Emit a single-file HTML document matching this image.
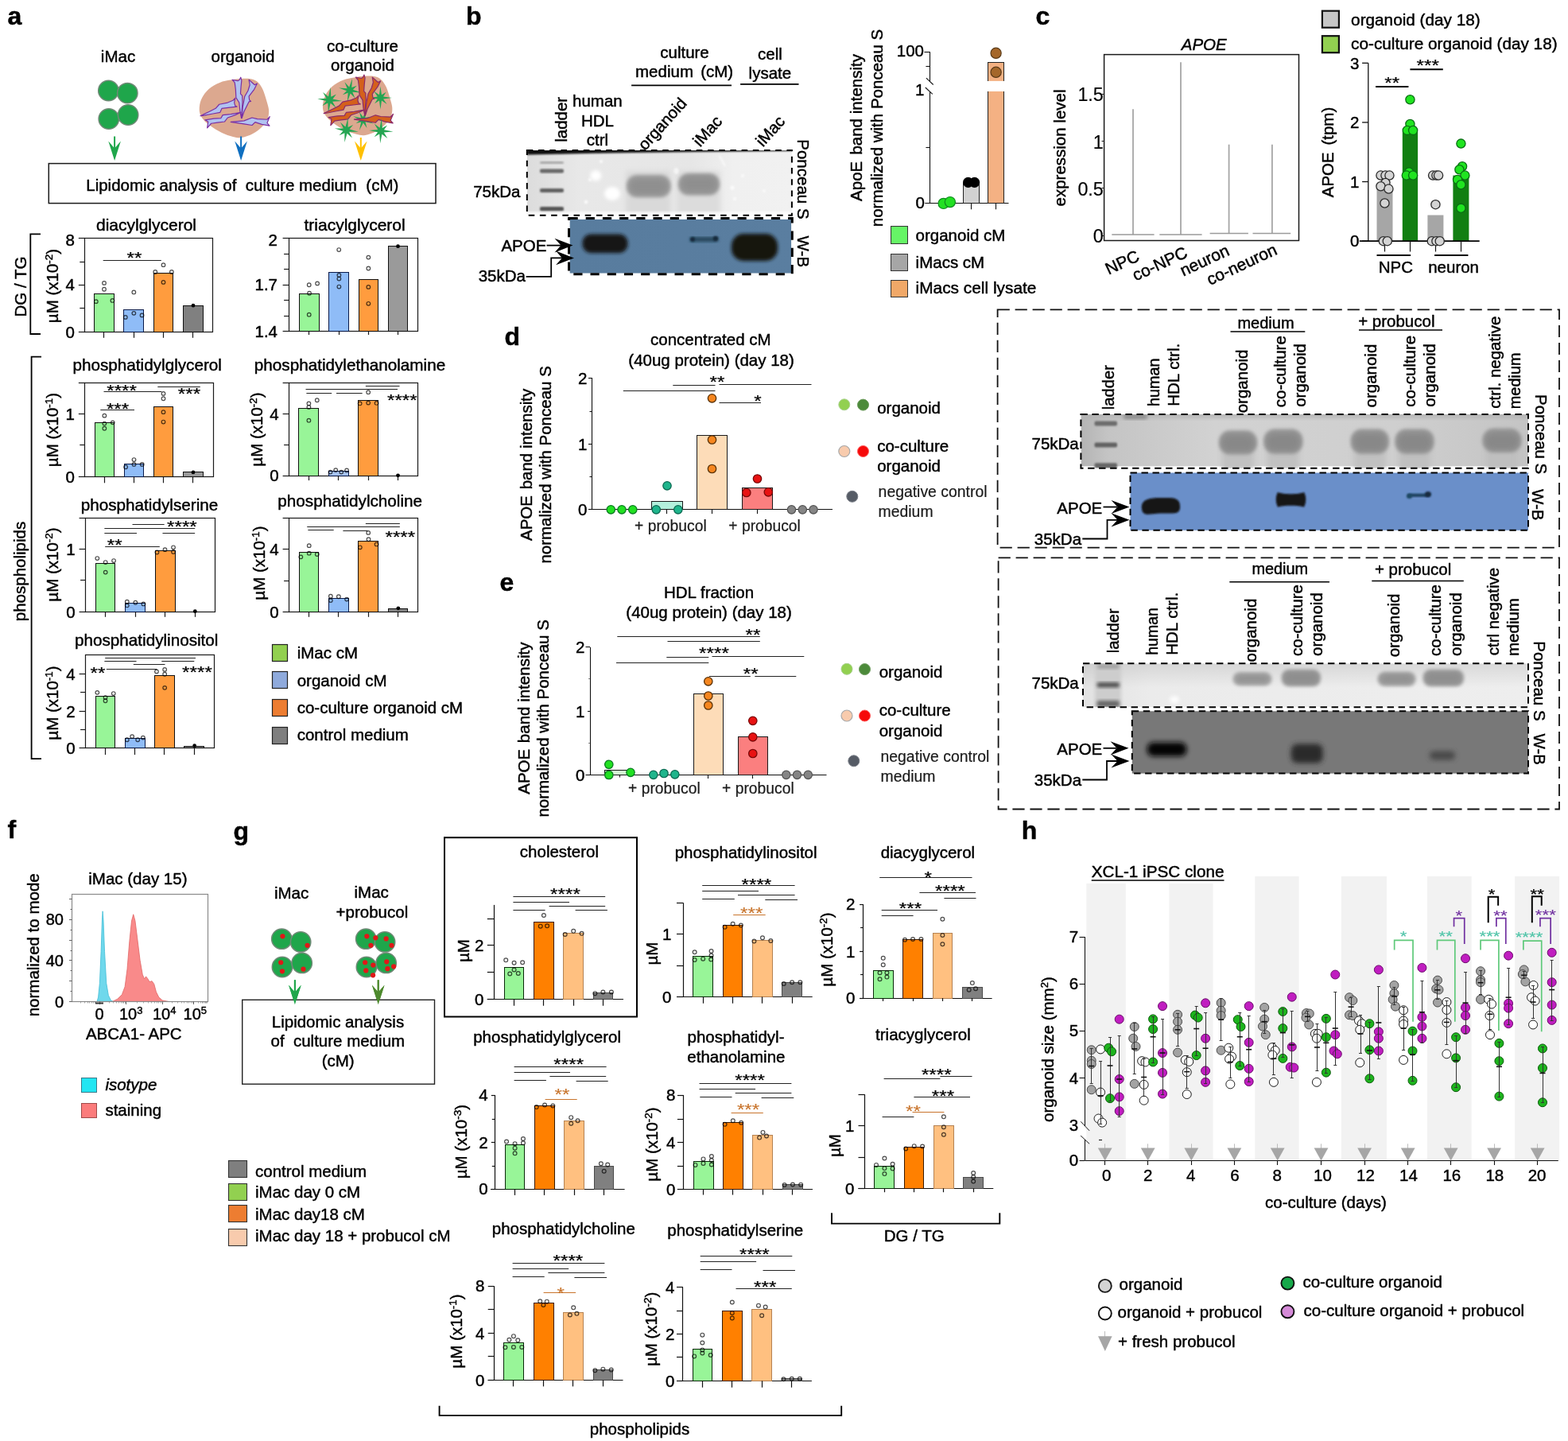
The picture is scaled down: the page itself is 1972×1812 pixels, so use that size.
<!DOCTYPE html>
<html lang="en">
<head>
<meta charset="utf-8">
<title>Figure</title>
<style>
html,body{margin:0;padding:0;background:#fff}
svg{display:block;font-family:"Liberation Sans", sans-serif;font-size:20.5px}
text{stroke-width:.45px;stroke-linejoin:round}
</style>
</head>
<body>
<svg width="1972" height="1812" viewBox="0 0 1972 1812">
<defs><filter id="bl1" x="-30%" y="-30%" width="160%" height="160%"><feGaussianBlur stdDeviation="1"/></filter><filter id="bl2" x="-30%" y="-30%" width="160%" height="160%"><feGaussianBlur stdDeviation="2"/></filter><filter id="bl3" x="-30%" y="-50%" width="160%" height="200%"><feGaussianBlur stdDeviation="3"/></filter><filter id="bl5" x="-30%" y="-50%" width="160%" height="200%"><feGaussianBlur stdDeviation="5"/></filter><linearGradient id="gfade" x1="0" x2="0" y1="0" y2="1"><stop offset="0" stop-color="#fff" stop-opacity="0"/><stop offset="0.5" stop-color="#fff" stop-opacity="0.75"/><stop offset="1" stop-color="#fff" stop-opacity="0.9"/></linearGradient><linearGradient id="gpb1" x1="0" x2="1" y1="0" y2="0"><stop offset="0" stop-color="#dcdcdc"/><stop offset="0.2" stop-color="#e8e8e8"/><stop offset="0.62" stop-color="#e6e6e6"/><stop offset="0.78" stop-color="#f0f0f0"/><stop offset="1" stop-color="#f1f1f1"/></linearGradient><linearGradient id="gwb1" x1="0" x2="1" y1="0" y2="0"><stop offset="0" stop-color="#587c9e"/><stop offset="1" stop-color="#5a7ea0"/></linearGradient>
<linearGradient id="gpd" x1="0" x2="1" y1="0" y2="0"><stop offset="0" stop-color="#b4b4b4"/><stop offset="0.06" stop-color="#c4c4c4"/><stop offset="0.3" stop-color="#d2d2d2"/><stop offset="0.7" stop-color="#cfcfcf"/><stop offset="1" stop-color="#c4c4c4"/></linearGradient><linearGradient id="gpe" x1="0" x2="1" y1="0" y2="0"><stop offset="0" stop-color="#e2e2e2"/><stop offset="0.15" stop-color="#ebebeb"/><stop offset="1" stop-color="#eeeeee"/></linearGradient><linearGradient id="gpe2" x1="0" x2="0" y1="0" y2="1"><stop offset="0" stop-color="#000" stop-opacity="0.09"/><stop offset="1" stop-color="#000" stop-opacity="0"/></linearGradient></defs>
<rect x="0" y="0" width="1972" height="1812" fill="#fff" stroke="none"/>
<text font-weight="bold" stroke="#000" font-size="32" x="9.5" y="31">a</text>
<text text-anchor="middle" stroke="#000" x="148.5" y="78">iMac</text>
<text text-anchor="middle" stroke="#000" x="305.5" y="78">organoid</text>
<text text-anchor="middle" stroke="#000" x="456" y="64.5">co-culture</text>
<text text-anchor="middle" stroke="#000" x="456" y="89">organoid</text>
<circle cx="136.4" cy="114" r="12.7" fill="#1fa64b" stroke="#6f8a76" stroke-width="1.5"/>
<circle cx="160.3" cy="117.1" r="12.7" fill="#1fa64b" stroke="#6f8a76" stroke-width="1.5"/>
<circle cx="136.8" cy="149.5" r="12.7" fill="#1fa64b" stroke="#6f8a76" stroke-width="1.5"/>
<circle cx="161.1" cy="144.5" r="12.7" fill="#1fa64b" stroke="#6f8a76" stroke-width="1.5"/>
<path d="M250.88 140.2C250.41 136.11 250.92 130.34 252.83 125.69C254.73 121.05 258.4 115.93 262.31 112.31C266.21 108.68 271.6 105.9 276.25 103.94C280.9 101.99 285.73 101.43 290.2 100.6C294.66 99.76 298.84 99.16 303.02 98.92C307.21 98.69 311.85 98.55 315.29 99.2C318.73 99.85 321.15 100.64 323.66 102.83C326.17 105.01 328.31 107.94 330.35 112.31C332.4 116.68 334.63 124.39 335.93 129.04C337.23 133.69 338.16 136.48 338.16 140.2C338.16 143.91 337.42 148.1 335.93 151.35C334.44 154.6 332.21 156.93 329.24 159.72C326.26 162.5 322.26 165.85 318.08 168.08C313.9 170.31 308.32 172.45 304.14 173.1C299.96 173.75 297.17 173.01 292.98 171.99C288.8 170.96 283.69 169.2 279.04 166.97C274.39 164.74 269 161.39 265.1 158.6C261.19 155.81 257.99 153.3 255.62 150.23C253.25 147.17 251.34 144.29 250.88 140.2Z" fill="#dca88f" stroke="none"/>
<polygon points="292.15,100.32 299.12,101.71 301.07,100.6 302.74,97.25 303.86,101.15 303.02,109.52 302.47,117.89 304.7,120.4 304.97,129.04 304.14,140.2 303.58,148.56 301.91,140.2 300.79,129.04 296.89,122.91 296.33,112.31 295.21,103.94" fill="#b1c3f1" stroke="#7a2fa3" stroke-width="1.2" stroke-linejoin="round"/>
<polygon points="313.06,100.32 320.31,106.73 323.38,105.06 319.75,112.31 313.06,121.23 313.62,125.69 315.57,127.37 313.06,127.93 306.93,140.2 304.14,148.56 305.25,134.62 307.76,121.23 311.95,113.98 314.18,106.73" fill="#b1c3f1" stroke="#7a2fa3" stroke-width="1.2" stroke-linejoin="round"/>
<polygon points="251.99,145.77 263.42,140.2 271.23,136.29 275.69,131.27 286.29,129.04 292.98,126.25 295.77,123.46 294.66,129.04 295.77,132.94 298,134.06 289.08,135.18 279.04,136.29 276.81,141.31 267.89,142.98 256.73,145.21" fill="#b1c3f1" stroke="#7a2fa3" stroke-width="1.2" stroke-linejoin="round"/>
<polygon points="257.85,150.79 269,149.12 277.93,148.56 280.16,144.66 290.2,143.54 303.02,141.31 295.77,144.66 286.29,148 282.39,153.02 273.46,154.14 265.66,155.25 260.64,160.83 261.75,153.02" fill="#b1c3f1" stroke="#7a2fa3" stroke-width="1.2" stroke-linejoin="round"/>
<polygon points="290.2,153.3 306.93,151.91 316.97,148 323.66,149.68 335.93,150.23 339.27,146.61 335.93,154.7 339,158.04 329.24,156.37 320.87,153.58 316.97,157.48 306.93,155.81" fill="#b1c3f1" stroke="#7a2fa3" stroke-width="1.2" stroke-linejoin="round"/>
<path d="M406.08 137C405.61 132.91 406.12 127.14 408.03 122.49C409.93 117.85 413.6 112.73 417.51 109.11C421.41 105.48 426.8 102.7 431.45 100.74C436.1 98.79 440.93 98.23 445.4 97.4C449.86 96.56 454.04 95.96 458.22 95.72C462.41 95.49 467.05 95.35 470.49 96C473.93 96.65 476.35 97.44 478.86 99.63C481.37 101.81 483.51 104.74 485.55 109.11C487.6 113.48 489.83 121.19 491.13 125.84C492.43 130.49 493.36 133.28 493.36 137C493.36 140.71 492.62 144.9 491.13 148.15C489.64 151.4 487.41 153.73 484.44 156.52C481.46 159.3 477.46 162.65 473.28 164.88C469.1 167.11 463.52 169.25 459.34 169.9C455.16 170.55 452.37 169.81 448.18 168.79C444 167.76 438.89 166 434.24 163.77C429.59 161.54 424.2 158.19 420.3 155.4C416.39 152.61 413.19 150.1 410.82 147.03C408.45 143.97 406.54 141.09 406.08 137Z" fill="#dca88f" stroke="none"/>
<polygon points="430.25,127.09 418.14,127.69 422.54,135.5 415.61,129.81 412.91,141.63 412.31,129.53 405.48,133.1 410.19,126.99 399.17,124.37 410.48,123.7 406.08,115.89 413.01,121.57 415.7,109.76 416.3,121.86 422.89,118.5 418.43,124.4" fill="#25a552" stroke="none"/>
<polygon points="454.64,116.54 443.3,115.72 446.5,123.49 440.7,117.41 436.85,128.1 437.67,116.76 430.91,119.31 435.98,114.16 426.03,110.46 436.63,111.13 433.43,103.36 439.23,109.44 443.08,98.75 442.26,110.09 448.77,107.71 443.95,112.69" fill="#25a552" stroke="none"/>
<polygon points="492.95,122.91 482.06,124.4 486.65,131.11 479.95,126.52 478.45,137.41 476.95,126.52 471.07,130.29 474.83,124.4 464.67,122.91 474.83,121.41 470.24,114.7 476.95,119.29 478.45,108.41 479.95,119.29 485.62,115.73 482.06,121.41" fill="#25a552" stroke="none"/>
<polygon points="469.85,155.58 459.48,153.35 461.43,160.94 456.86,154.57 451.91,163.95 454.14,153.58 447.56,155.05 452.92,150.96 444.2,146.24 453.91,148.24 451.96,140.64 456.53,147.02 461.48,137.64 459.25,148.01 465.58,146.65 460.47,150.63" fill="#25a552" stroke="none"/>
<polygon points="447.35,97.12 454.32,98.51 456.27,97.4 457.94,94.05 459.06,97.95 458.22,106.32 457.67,114.69 459.9,117.2 460.17,125.84 459.34,137 458.78,145.36 457.11,137 455.99,125.84 452.09,119.71 451.53,109.11 450.41,100.74" fill="#d4601c" stroke="#8a2a6a" stroke-width="1.2" stroke-linejoin="round"/>
<polygon points="468.26,97.12 475.51,103.53 478.58,101.86 474.95,109.11 468.26,118.03 468.82,122.49 470.77,124.17 468.26,124.73 462.13,137 459.34,145.36 460.45,131.42 462.96,118.03 467.15,110.78 469.38,103.53" fill="#d4601c" stroke="#8a2a6a" stroke-width="1.2" stroke-linejoin="round"/>
<polygon points="407.19,142.57 418.62,137 426.43,133.09 430.89,128.07 441.49,125.84 448.18,123.05 450.97,120.26 449.86,125.84 450.97,129.74 453.2,130.86 444.28,131.98 434.24,133.09 432.01,138.11 423.09,139.78 411.93,142.01" fill="#d4601c" stroke="#8a2a6a" stroke-width="1.2" stroke-linejoin="round"/>
<polygon points="413.05,147.59 424.2,145.92 433.13,145.36 435.36,141.46 445.4,140.34 458.22,138.11 450.97,141.46 441.49,144.8 437.59,149.82 428.66,150.94 420.86,152.05 415.84,157.63 416.95,149.82" fill="#d4601c" stroke="#8a2a6a" stroke-width="1.2" stroke-linejoin="round"/>
<polygon points="445.4,150.1 462.13,148.71 472.17,144.8 478.86,146.48 491.13,147.03 494.47,143.41 491.13,151.5 494.2,154.84 484.44,153.17 476.07,150.38 472.17,154.28 462.13,152.61" fill="#d4601c" stroke="#8a2a6a" stroke-width="1.2" stroke-linejoin="round"/>
<polygon points="450.85,165.78 439.11,165.74 442.97,173.52 436.55,167.67 433.35,178.97 433.38,167.23 426.59,170.34 431.45,164.67 420.92,161.57 431.9,161.5 428.04,153.72 434.45,159.57 437.66,148.27 437.63,160.01 444.17,157.09 439.55,162.57" fill="#25a552" stroke="none"/>
<polygon points="494.48,165.55 482.78,166.54 487.3,173.95 480.4,168.68 478.19,180.21 477.2,168.51 470.71,172.2 475.06,166.13 464.3,163.96 475.23,162.93 470.71,155.52 477.61,160.79 479.82,149.26 480.81,160.96 487.07,157.48 482.95,163.34" fill="#25a552" stroke="none"/>
<line x1="144.1" y1="171.5" x2="144.1" y2="196" stroke="#1fa64b" stroke-width="2"/>
<polygon points="136.3,177.5 144.1,202 151.9,177.5 144.1,186.5" fill="#1fa64b" stroke="none"/>
<line x1="303.1" y1="171.5" x2="303.1" y2="196" stroke="#0f6fc0" stroke-width="2"/>
<polygon points="295.3,177.5 303.1,202 310.9,177.5 303.1,186.5" fill="#0f6fc0" stroke="none"/>
<line x1="453.8" y1="173" x2="453.8" y2="196" stroke="#ffc000" stroke-width="2"/>
<polygon points="446,177.5 453.8,202 461.6,177.5 453.8,186.5" fill="#ffc000" stroke="none"/>
<rect x="61.3" y="205.6" width="486.7" height="50" fill="#fff" stroke="#1a1a1a" stroke-width="1.5"/>
<text text-anchor="middle" stroke="#000" x="304.8" y="239.6" xml:space="preserve">Lipidomic analysis of  culture medium  (cM)</text>
<path d="M51 294.3H38.3V420H51" fill="none" stroke="#000" stroke-width="1.8"/>
<text text-anchor="middle" stroke="#000" transform="translate(33 360.5) rotate(-90)">DG / TG</text>
<path d="M52 448.6H39.6V954.2H52" fill="none" stroke="#000" stroke-width="1.8"/>
<text text-anchor="middle" stroke="#000" transform="translate(32 718.5) rotate(-90)">phospholipids</text>
<text text-anchor="middle" stroke="#000" font-size="21" x="184" y="289.8">diacylglycerol</text>
<rect x="106.5" y="299.5" width="161" height="118" fill="none" stroke="#1a1a1a" stroke-width="1.2"/>
<line x1="98.8" y1="299.5" x2="106.8" y2="299.5" stroke="#1a1a1a" stroke-width="1.2"/>
<text text-anchor="end" stroke="#000" x="93.8" y="308.5">8</text>
<line x1="100.3" y1="329.5" x2="106.8" y2="329.5" stroke="#1a1a1a" stroke-width="1.2"/>
<line x1="98.8" y1="358.5" x2="106.8" y2="358.5" stroke="#1a1a1a" stroke-width="1.2"/>
<text text-anchor="end" stroke="#000" x="93.8" y="365.4">4</text>
<line x1="100.3" y1="387.5" x2="106.8" y2="387.5" stroke="#1a1a1a" stroke-width="1.2"/>
<line x1="98.8" y1="417.5" x2="106.8" y2="417.5" stroke="#1a1a1a" stroke-width="1.2"/>
<text text-anchor="end" stroke="#000" x="93.8" y="424.5">0</text>
<rect x="118.5" y="369.5" width="25" height="48" fill="#98f598" stroke="#111"/>
<rect x="155.5" y="389.5" width="25" height="28" fill="#8fbcf7" stroke="#0a1a4a"/>
<rect x="193.5" y="343.5" width="24" height="74" fill="#ff9c3e" stroke="#111"/>
<rect x="230.5" y="384.5" width="25" height="33" fill="#808080" stroke="#111"/>
<line x1="130.5" y1="417.3" x2="130.5" y2="424.8" stroke="#1a1a1a" stroke-width="1.2"/>
<line x1="168.5" y1="417.3" x2="168.5" y2="424.8" stroke="#1a1a1a" stroke-width="1.2"/>
<line x1="205.5" y1="417.3" x2="205.5" y2="424.8" stroke="#1a1a1a" stroke-width="1.2"/>
<line x1="242.5" y1="417.3" x2="242.5" y2="424.8" stroke="#1a1a1a" stroke-width="1.2"/>
<text text-anchor="middle" stroke="#000" transform="translate(73.3 359.5) rotate(-90)">µM (x10<tspan dy="-7" font-size="13.5">-2</tspan><tspan dy="7">)</tspan></text>
<line x1="129.7" y1="327.5" x2="202.8" y2="327.5" stroke="#222"/>
<text text-anchor="middle" stroke="#000" font-size="24.3" x="0" y="16.72" transform="translate(169 317.4) scale(1 0.82)" style="stroke-width:.3px">**</text>
<circle cx="131.02" cy="355.88" r="2.3" fill="none" stroke="#000" stroke-width="1.2" stroke-opacity=".7"/>
<circle cx="131.02" cy="363.75" r="2.3" fill="none" stroke="#000" stroke-width="1.2" stroke-opacity=".7"/>
<circle cx="120.82" cy="379.14" r="2.3" fill="none" stroke="#000" stroke-width="1.2" stroke-opacity=".7"/>
<circle cx="141.4" cy="377.97" r="2.3" fill="none" stroke="#000" stroke-width="1.2" stroke-opacity=".7"/>
<circle cx="168.34" cy="367.43" r="2.3" fill="none" stroke="#000" stroke-width="1.2" stroke-opacity=".7"/>
<circle cx="157.8" cy="398.89" r="2.3" fill="none" stroke="#000" stroke-width="1.2" stroke-opacity=".7"/>
<circle cx="168.34" cy="393.87" r="2.3" fill="none" stroke="#000" stroke-width="1.2" stroke-opacity=".7"/>
<circle cx="178.55" cy="396.38" r="2.3" fill="none" stroke="#000" stroke-width="1.2" stroke-opacity=".7"/>
<circle cx="205.49" cy="333.13" r="2.3" fill="none" stroke="#000" stroke-width="1.2" stroke-opacity=".7"/>
<circle cx="195.28" cy="341.99" r="2.3" fill="none" stroke="#000" stroke-width="1.2" stroke-opacity=".7"/>
<circle cx="215.86" cy="341.99" r="2.3" fill="none" stroke="#000" stroke-width="1.2" stroke-opacity=".7"/>
<circle cx="205.49" cy="354.88" r="2.3" fill="none" stroke="#000" stroke-width="1.2" stroke-opacity=".7"/>
<circle cx="242.97" cy="384.16" r="2.4" fill="#000" stroke="none"/>
<text text-anchor="middle" stroke="#000" font-size="21" x="446.1" y="289.8">triacylglycerol</text>
<rect x="363.5" y="299.5" width="162" height="117" fill="none" stroke="#1a1a1a" stroke-width="1.2"/>
<line x1="355.6" y1="299.5" x2="363.6" y2="299.5" stroke="#1a1a1a" stroke-width="1.2"/>
<text text-anchor="end" stroke="#000" x="349" y="308.5">2</text>
<line x1="357.1" y1="319.5" x2="363.6" y2="319.5" stroke="#1a1a1a" stroke-width="1.2"/>
<line x1="357.1" y1="338.5" x2="363.6" y2="338.5" stroke="#1a1a1a" stroke-width="1.2"/>
<line x1="355.6" y1="358.5" x2="363.6" y2="358.5" stroke="#1a1a1a" stroke-width="1.2"/>
<text text-anchor="end" stroke="#000" x="349" y="365.4">1.7</text>
<line x1="357.1" y1="377.5" x2="363.6" y2="377.5" stroke="#1a1a1a" stroke-width="1.2"/>
<line x1="357.1" y1="397.5" x2="363.6" y2="397.5" stroke="#1a1a1a" stroke-width="1.2"/>
<line x1="355.6" y1="416.5" x2="363.6" y2="416.5" stroke="#1a1a1a" stroke-width="1.2"/>
<text text-anchor="end" stroke="#000" x="349" y="423.7">1.4</text>
<rect x="376.5" y="369.5" width="25" height="47" fill="#98f598" stroke="#111"/>
<rect x="413.5" y="342.5" width="25" height="74" fill="#8fbcf7" stroke="#0a1a4a"/>
<rect x="451.5" y="351.5" width="24" height="65" fill="#ff9c3e" stroke="#111"/>
<rect x="488.5" y="309.5" width="24" height="107" fill="#9a9a9a" stroke="#111"/>
<line x1="388.5" y1="416.5" x2="388.5" y2="421" stroke="#1a1a1a" stroke-width="1.2"/>
<line x1="426.5" y1="416.5" x2="426.5" y2="421" stroke="#1a1a1a" stroke-width="1.2"/>
<line x1="463.5" y1="416.5" x2="463.5" y2="421" stroke="#1a1a1a" stroke-width="1.2"/>
<line x1="500.5" y1="416.5" x2="500.5" y2="421" stroke="#1a1a1a" stroke-width="1.2"/>
<circle cx="388.73" cy="358.23" r="2.3" fill="none" stroke="#000" stroke-width="1.2" stroke-opacity=".7"/>
<circle cx="399.1" cy="356.39" r="2.3" fill="none" stroke="#000" stroke-width="1.2" stroke-opacity=".7"/>
<circle cx="389.06" cy="368.77" r="2.3" fill="none" stroke="#000" stroke-width="1.2" stroke-opacity=".7"/>
<circle cx="388.73" cy="395.71" r="2.3" fill="none" stroke="#000" stroke-width="1.2" stroke-opacity=".7"/>
<circle cx="426.21" cy="314.05" r="2.3" fill="none" stroke="#000" stroke-width="1.2" stroke-opacity=".7"/>
<circle cx="426.38" cy="346.01" r="2.3" fill="none" stroke="#000" stroke-width="1.2" stroke-opacity=".7"/>
<circle cx="426.38" cy="350.53" r="2.3" fill="none" stroke="#000" stroke-width="1.2" stroke-opacity=".7"/>
<circle cx="426.38" cy="360.57" r="2.3" fill="none" stroke="#000" stroke-width="1.2" stroke-opacity=".7"/>
<circle cx="463.36" cy="323.59" r="2.3" fill="none" stroke="#000" stroke-width="1.2" stroke-opacity=".7"/>
<circle cx="463.36" cy="337.48" r="2.3" fill="none" stroke="#000" stroke-width="1.2" stroke-opacity=".7"/>
<circle cx="463.36" cy="360.9" r="2.3" fill="none" stroke="#000" stroke-width="1.2" stroke-opacity=".7"/>
<circle cx="463.36" cy="381.82" r="2.3" fill="none" stroke="#000" stroke-width="1.2" stroke-opacity=".7"/>
<circle cx="500.51" cy="309.7" r="2.4" fill="#000" stroke="none"/>
<text text-anchor="middle" stroke="#000" font-size="20.7" x="185.2" y="465.9">phosphatidylglycerol</text>
<rect x="106.5" y="481.5" width="162" height="118" fill="none" stroke="#1a1a1a" stroke-width="1.2"/>
<line x1="98.8" y1="481.5" x2="106.8" y2="481.5" stroke="#1a1a1a" stroke-width="1.2"/>
<line x1="98.8" y1="520.5" x2="106.8" y2="520.5" stroke="#1a1a1a" stroke-width="1.2"/>
<text text-anchor="end" stroke="#000" x="93.8" y="527.5">1</text>
<line x1="100.3" y1="559.5" x2="106.8" y2="559.5" stroke="#1a1a1a" stroke-width="1.2"/>
<line x1="98.8" y1="599.5" x2="106.8" y2="599.5" stroke="#1a1a1a" stroke-width="1.2"/>
<text text-anchor="end" stroke="#000" x="93.8" y="606.5">0</text>
<rect x="119.5" y="531.5" width="24" height="68" fill="#98f598" stroke="#111"/>
<rect x="156.5" y="583.5" width="24" height="16" fill="#8fbcf7" stroke="#0a1a4a"/>
<rect x="193.5" y="511.5" width="24" height="88" fill="#ff9c3e" stroke="#111"/>
<rect x="230.5" y="593.5" width="25" height="6" fill="#9a9a9a" stroke="#111"/>
<line x1="131.5" y1="599.3" x2="131.5" y2="607.3" stroke="#1a1a1a" stroke-width="1.2"/>
<line x1="168.5" y1="599.3" x2="168.5" y2="607.3" stroke="#1a1a1a" stroke-width="1.2"/>
<line x1="205.5" y1="599.3" x2="205.5" y2="607.3" stroke="#1a1a1a" stroke-width="1.2"/>
<line x1="242.5" y1="599.3" x2="242.5" y2="607.3" stroke="#1a1a1a" stroke-width="1.2"/>
<text text-anchor="middle" stroke="#000" transform="translate(73.3 540.5) rotate(-90)">µM (x10<tspan dy="-7" font-size="13.5">-1</tspan><tspan dy="7">)</tspan></text>
<line x1="130.5" y1="492.5" x2="203.3" y2="492.5" stroke="#222"/>
<text text-anchor="middle" stroke="#000" font-size="24.3" x="0" y="16.72" transform="translate(153.1 484.4) scale(1 0.82)" style="stroke-width:.3px">****</text>
<line x1="198.3" y1="486.5" x2="251.8" y2="486.5" stroke="#222"/>
<text text-anchor="middle" stroke="#000" font-size="24.3" x="0" y="16.72" transform="translate(238 488.4) scale(1 0.82)" style="stroke-width:.3px">***</text>
<line x1="126.3" y1="515.5" x2="169" y2="515.5" stroke="#222"/>
<text text-anchor="middle" stroke="#000" font-size="24.3" x="0" y="16.72" transform="translate(148.1 507.4) scale(1 0.82)" style="stroke-width:.3px">***</text>
<circle cx="131.36" cy="522.66" r="2.3" fill="none" stroke="#000" stroke-width="1.2" stroke-opacity=".7"/>
<circle cx="131.36" cy="532.54" r="2.3" fill="none" stroke="#000" stroke-width="1.2" stroke-opacity=".7"/>
<circle cx="141.73" cy="531.37" r="2.3" fill="none" stroke="#000" stroke-width="1.2" stroke-opacity=".7"/>
<circle cx="131.36" cy="538.73" r="2.3" fill="none" stroke="#000" stroke-width="1.2" stroke-opacity=".7"/>
<circle cx="168.51" cy="578.05" r="2.3" fill="none" stroke="#000" stroke-width="1.2" stroke-opacity=".7"/>
<circle cx="158.13" cy="587.26" r="2.3" fill="none" stroke="#000" stroke-width="1.2" stroke-opacity=".7"/>
<circle cx="168.51" cy="583.91" r="2.3" fill="none" stroke="#000" stroke-width="1.2" stroke-opacity=".7"/>
<circle cx="178.71" cy="583.91" r="2.3" fill="none" stroke="#000" stroke-width="1.2" stroke-opacity=".7"/>
<circle cx="205.49" cy="494.89" r="2.3" fill="none" stroke="#000" stroke-width="1.2" stroke-opacity=".7"/>
<circle cx="205.49" cy="501.24" r="2.3" fill="none" stroke="#000" stroke-width="1.2" stroke-opacity=".7"/>
<circle cx="205.49" cy="518.15" r="2.3" fill="none" stroke="#000" stroke-width="1.2" stroke-opacity=".7"/>
<circle cx="205.49" cy="530.53" r="2.3" fill="none" stroke="#000" stroke-width="1.2" stroke-opacity=".7"/>
<circle cx="242.97" cy="593.95" r="2.4" fill="#000" stroke="none"/>
<text text-anchor="middle" stroke="#000" font-size="20.7" x="440" y="465.9">phosphatidylethanolamine</text>
<rect x="363.5" y="481.5" width="162" height="117" fill="none" stroke="#1a1a1a" stroke-width="1.2"/>
<line x1="355.6" y1="481.5" x2="363.6" y2="481.5" stroke="#1a1a1a" stroke-width="1.2"/>
<line x1="355.6" y1="520.5" x2="363.6" y2="520.5" stroke="#1a1a1a" stroke-width="1.2"/>
<text text-anchor="end" stroke="#000" x="350.6" y="527.5">4</text>
<line x1="357.1" y1="559.5" x2="363.6" y2="559.5" stroke="#1a1a1a" stroke-width="1.2"/>
<line x1="355.6" y1="598.5" x2="363.6" y2="598.5" stroke="#1a1a1a" stroke-width="1.2"/>
<text text-anchor="end" stroke="#000" x="350.6" y="605.3">0</text>
<rect x="375.5" y="513.5" width="25" height="85" fill="#98f598" stroke="#111"/>
<rect x="413.5" y="592.5" width="25" height="6" fill="#a6c3f0" stroke="#0a1a4a"/>
<rect x="450.5" y="503.5" width="25" height="95" fill="#ff9c3e" stroke="#111"/>
<line x1="388.5" y1="598.1" x2="388.5" y2="604.1" stroke="#1a1a1a" stroke-width="1.2"/>
<line x1="425.5" y1="598.1" x2="425.5" y2="604.1" stroke="#1a1a1a" stroke-width="1.2"/>
<line x1="463.5" y1="598.1" x2="463.5" y2="604.1" stroke="#1a1a1a" stroke-width="1.2"/>
<line x1="500.5" y1="598.1" x2="500.5" y2="604.1" stroke="#1a1a1a" stroke-width="1.2"/>
<text text-anchor="middle" stroke="#000" transform="translate(330 540) rotate(-90)">µM (x10<tspan dy="-7" font-size="13.5">-2</tspan><tspan dy="7">)</tspan></text>
<line x1="459.85" y1="485.5" x2="502.52" y2="485.5" stroke="#222"/>
<line x1="384.54" y1="489.5" x2="500.01" y2="489.5" stroke="#222"/>
<line x1="385.38" y1="494.5" x2="417.18" y2="494.5" stroke="#222"/>
<line x1="423.03" y1="494.5" x2="455.66" y2="494.5" stroke="#222"/>
<text text-anchor="middle" stroke="#000" font-size="24.3" x="0" y="16.72" transform="translate(505.86 496.12) scale(1 0.82)" style="stroke-width:.3px">****</text>
<circle cx="388.39" cy="507.44" r="2.3" fill="none" stroke="#000" stroke-width="1.2" stroke-opacity=".7"/>
<circle cx="398.77" cy="503.25" r="2.3" fill="none" stroke="#000" stroke-width="1.2" stroke-opacity=".7"/>
<circle cx="388.39" cy="511.95" r="2.3" fill="none" stroke="#000" stroke-width="1.2" stroke-opacity=".7"/>
<circle cx="388.39" cy="528.69" r="2.3" fill="none" stroke="#000" stroke-width="1.2" stroke-opacity=".7"/>
<circle cx="422.2" cy="591.1" r="2.3" fill="none" stroke="#000" stroke-width="1.2" stroke-opacity=".7"/>
<circle cx="415.5" cy="593.61" r="2.3" fill="none" stroke="#000" stroke-width="1.2" stroke-opacity=".7"/>
<circle cx="429.22" cy="593.61" r="2.3" fill="none" stroke="#000" stroke-width="1.2" stroke-opacity=".7"/>
<circle cx="436.08" cy="591.44" r="2.3" fill="none" stroke="#000" stroke-width="1.2" stroke-opacity=".7"/>
<circle cx="463.19" cy="493.21" r="2.3" fill="none" stroke="#000" stroke-width="1.2" stroke-opacity=".7"/>
<circle cx="452.65" cy="507.44" r="2.3" fill="none" stroke="#000" stroke-width="1.2" stroke-opacity=".7"/>
<circle cx="463.19" cy="506.6" r="2.3" fill="none" stroke="#000" stroke-width="1.2" stroke-opacity=".7"/>
<circle cx="473.57" cy="506.93" r="2.3" fill="none" stroke="#000" stroke-width="1.2" stroke-opacity=".7"/>
<circle cx="500.51" cy="597.8" r="2.4" fill="#000" stroke="none"/>
<text text-anchor="middle" stroke="#000" font-size="20.7" x="188" y="641.5">phosphatidylserine</text>
<rect x="107.5" y="651.5" width="163" height="118" fill="none" stroke="#1a1a1a" stroke-width="1.2"/>
<line x1="99.6" y1="651.5" x2="107.6" y2="651.5" stroke="#1a1a1a" stroke-width="1.2"/>
<line x1="99.6" y1="690.5" x2="107.6" y2="690.5" stroke="#1a1a1a" stroke-width="1.2"/>
<text text-anchor="end" stroke="#000" x="94.6" y="697.5">1</text>
<line x1="101.1" y1="729.5" x2="107.6" y2="729.5" stroke="#1a1a1a" stroke-width="1.2"/>
<line x1="99.6" y1="769.5" x2="107.6" y2="769.5" stroke="#1a1a1a" stroke-width="1.2"/>
<text text-anchor="end" stroke="#000" x="94.6" y="776.5">0</text>
<rect x="120.5" y="708.5" width="24" height="61" fill="#98f598" stroke="#111"/>
<rect x="157.5" y="758.5" width="25" height="11" fill="#8fbcf7" stroke="#0a1a4a"/>
<rect x="195.5" y="692.5" width="25" height="77" fill="#ff9c3e" stroke="#111"/>
<line x1="132.5" y1="769.3" x2="132.5" y2="775.8" stroke="#1a1a1a" stroke-width="1.2"/>
<line x1="170.5" y1="769.3" x2="170.5" y2="775.8" stroke="#1a1a1a" stroke-width="1.2"/>
<line x1="207.5" y1="769.3" x2="207.5" y2="775.8" stroke="#1a1a1a" stroke-width="1.2"/>
<line x1="245.5" y1="769.3" x2="245.5" y2="775.8" stroke="#1a1a1a" stroke-width="1.2"/>
<text text-anchor="middle" stroke="#000" transform="translate(73.3 710) rotate(-90)">µM (x10<tspan dy="-7" font-size="13.5">-2</tspan><tspan dy="7">)</tspan></text>
<line x1="166.5" y1="659.5" x2="206.66" y2="659.5" stroke="#222"/>
<line x1="131.36" y1="664.5" x2="245.15" y2="664.5" stroke="#222"/>
<line x1="131.36" y1="670.5" x2="172.02" y2="670.5" stroke="#222"/>
<line x1="204.48" y1="670.5" x2="245.15" y2="670.5" stroke="#222"/>
<line x1="132.2" y1="687.5" x2="200.8" y2="687.5" stroke="#222"/>
<text text-anchor="middle" stroke="#000" font-size="24.3" x="0" y="16.72" transform="translate(228.92 655.75) scale(1 0.82)" style="stroke-width:.3px">****</text>
<text text-anchor="middle" stroke="#000" font-size="24.3" x="0" y="16.72" transform="translate(144.24 678.67) scale(1 0.82)" style="stroke-width:.3px">**</text>
<circle cx="122.32" cy="702.03" r="2.3" fill="none" stroke="#000" stroke-width="1.2" stroke-opacity=".7"/>
<circle cx="132.7" cy="707.05" r="2.3" fill="none" stroke="#000" stroke-width="1.2" stroke-opacity=".7"/>
<circle cx="143.07" cy="705.05" r="2.3" fill="none" stroke="#000" stroke-width="1.2" stroke-opacity=".7"/>
<circle cx="132.7" cy="719.61" r="2.3" fill="none" stroke="#000" stroke-width="1.2" stroke-opacity=".7"/>
<circle cx="159.81" cy="756.75" r="2.3" fill="none" stroke="#000" stroke-width="1.2" stroke-opacity=".7"/>
<circle cx="159.81" cy="761.44" r="2.3" fill="none" stroke="#000" stroke-width="1.2" stroke-opacity=".7"/>
<circle cx="170.35" cy="757.76" r="2.3" fill="none" stroke="#000" stroke-width="1.2" stroke-opacity=".7"/>
<circle cx="180.39" cy="759.43" r="2.3" fill="none" stroke="#000" stroke-width="1.2" stroke-opacity=".7"/>
<circle cx="207.5" cy="691.16" r="2.3" fill="none" stroke="#000" stroke-width="1.2" stroke-opacity=".7"/>
<circle cx="218.04" cy="688.31" r="2.3" fill="none" stroke="#000" stroke-width="1.2" stroke-opacity=".7"/>
<circle cx="197.46" cy="694.5" r="2.3" fill="none" stroke="#000" stroke-width="1.2" stroke-opacity=".7"/>
<circle cx="218.04" cy="694" r="2.3" fill="none" stroke="#000" stroke-width="1.2" stroke-opacity=".7"/>
<circle cx="245.31" cy="768.63" r="2.4" fill="#000" stroke="none"/>
<text text-anchor="middle" stroke="#000" font-size="20.7" x="440.2" y="636.8">phosphatidylcholine</text>
<rect x="363.5" y="651.5" width="162" height="118" fill="none" stroke="#1a1a1a" stroke-width="1.2"/>
<line x1="355.6" y1="651.5" x2="363.6" y2="651.5" stroke="#1a1a1a" stroke-width="1.2"/>
<line x1="355.6" y1="690.5" x2="363.6" y2="690.5" stroke="#1a1a1a" stroke-width="1.2"/>
<text text-anchor="end" stroke="#000" x="350.6" y="697.5">4</text>
<line x1="357.1" y1="730.5" x2="363.6" y2="730.5" stroke="#1a1a1a" stroke-width="1.2"/>
<line x1="355.6" y1="769.5" x2="363.6" y2="769.5" stroke="#1a1a1a" stroke-width="1.2"/>
<text text-anchor="end" stroke="#000" x="350.6" y="776.5">0</text>
<rect x="376.5" y="694.5" width="24" height="75" fill="#98f598" stroke="#111"/>
<rect x="413.5" y="752.5" width="25" height="17" fill="#8fbcf7" stroke="#0a1a4a"/>
<rect x="450.5" y="680.5" width="25" height="89" fill="#ff9c3e" stroke="#111"/>
<rect x="488.5" y="765.5" width="24" height="4" fill="#808080" stroke="#111"/>
<line x1="388.5" y1="769.3" x2="388.5" y2="775.8" stroke="#1a1a1a" stroke-width="1.2"/>
<line x1="425.5" y1="769.3" x2="425.5" y2="775.8" stroke="#1a1a1a" stroke-width="1.2"/>
<line x1="463.5" y1="769.3" x2="463.5" y2="775.8" stroke="#1a1a1a" stroke-width="1.2"/>
<line x1="500.5" y1="769.3" x2="500.5" y2="775.8" stroke="#1a1a1a" stroke-width="1.2"/>
<text text-anchor="middle" stroke="#000" transform="translate(332.5 708) rotate(-90)">µM (x10<tspan dy="-7" font-size="13.5">-1</tspan><tspan dy="7">)</tspan></text>
<line x1="459.85" y1="658.5" x2="502.85" y2="658.5" stroke="#222"/>
<line x1="386.22" y1="662.5" x2="502.85" y2="662.5" stroke="#222"/>
<line x1="387.39" y1="666.5" x2="419.69" y2="666.5" stroke="#222"/>
<line x1="431.4" y1="667.5" x2="462.36" y2="667.5" stroke="#222"/>
<text text-anchor="middle" stroke="#000" font-size="24.3" x="0" y="16.72" transform="translate(503.35 667.79) scale(1 0.82)" style="stroke-width:.3px">****</text>
<circle cx="388.73" cy="686.14" r="2.3" fill="none" stroke="#000" stroke-width="1.2" stroke-opacity=".7"/>
<circle cx="388.73" cy="695.68" r="2.3" fill="none" stroke="#000" stroke-width="1.2" stroke-opacity=".7"/>
<circle cx="378.35" cy="700.36" r="2.3" fill="none" stroke="#000" stroke-width="1.2" stroke-opacity=".7"/>
<circle cx="398.77" cy="697.01" r="2.3" fill="none" stroke="#000" stroke-width="1.2" stroke-opacity=".7"/>
<circle cx="415.84" cy="749.73" r="2.3" fill="none" stroke="#000" stroke-width="1.2" stroke-opacity=".7"/>
<circle cx="425.88" cy="750.23" r="2.3" fill="none" stroke="#000" stroke-width="1.2" stroke-opacity=".7"/>
<circle cx="415.84" cy="755.08" r="2.3" fill="none" stroke="#000" stroke-width="1.2" stroke-opacity=".7"/>
<circle cx="436.08" cy="753.57" r="2.3" fill="none" stroke="#000" stroke-width="1.2" stroke-opacity=".7"/>
<circle cx="463.19" cy="669.91" r="2.3" fill="none" stroke="#000" stroke-width="1.2" stroke-opacity=".7"/>
<circle cx="463.53" cy="678.27" r="2.3" fill="none" stroke="#000" stroke-width="1.2" stroke-opacity=".7"/>
<circle cx="452.82" cy="688.31" r="2.3" fill="none" stroke="#000" stroke-width="1.2" stroke-opacity=".7"/>
<circle cx="473.57" cy="684.46" r="2.3" fill="none" stroke="#000" stroke-width="1.2" stroke-opacity=".7"/>
<circle cx="500.84" cy="764.79" r="2.4" fill="#000" stroke="none"/>
<text text-anchor="middle" stroke="#000" font-size="20.7" x="184.2" y="811.8">phosphatidylinositol</text>
<rect x="107.5" y="823.5" width="162" height="117" fill="none" stroke="#1a1a1a" stroke-width="1.2"/>
<line x1="99.6" y1="847.5" x2="107.6" y2="847.5" stroke="#1a1a1a" stroke-width="1.2"/>
<text text-anchor="end" stroke="#000" x="94.6" y="854.6">4</text>
<line x1="101.1" y1="870.5" x2="107.6" y2="870.5" stroke="#1a1a1a" stroke-width="1.2"/>
<line x1="99.6" y1="894.5" x2="107.6" y2="894.5" stroke="#1a1a1a" stroke-width="1.2"/>
<text text-anchor="end" stroke="#000" x="94.6" y="901.5">2</text>
<line x1="101.1" y1="917.5" x2="107.6" y2="917.5" stroke="#1a1a1a" stroke-width="1.2"/>
<line x1="99.6" y1="940.5" x2="107.6" y2="940.5" stroke="#1a1a1a" stroke-width="1.2"/>
<text text-anchor="end" stroke="#000" x="94.6" y="947.8">0</text>
<rect x="120.5" y="875.5" width="24" height="65" fill="#98f598" stroke="#111"/>
<rect x="157.5" y="928.5" width="25" height="12" fill="#8fbcf7" stroke="#0a1a4a"/>
<rect x="194.5" y="849.5" width="25" height="91" fill="#ff9c3e" stroke="#111"/>
<rect x="231.5" y="938.5" width="25" height="2" fill="#808080" stroke="#111"/>
<line x1="132.5" y1="940.6" x2="132.5" y2="949.1" stroke="#1a1a1a" stroke-width="1.2"/>
<line x1="169.5" y1="940.6" x2="169.5" y2="949.1" stroke="#1a1a1a" stroke-width="1.2"/>
<line x1="206.5" y1="940.6" x2="206.5" y2="949.1" stroke="#1a1a1a" stroke-width="1.2"/>
<line x1="244.5" y1="940.6" x2="244.5" y2="949.1" stroke="#1a1a1a" stroke-width="1.2"/>
<text text-anchor="middle" stroke="#000" transform="translate(73.3 884) rotate(-90)">µM (x10<tspan dy="-7" font-size="13.5">-1</tspan><tspan dy="7">)</tspan></text>
<line x1="132.2" y1="827.5" x2="245.98" y2="827.5" stroke="#222"/>
<line x1="131.36" y1="831.5" x2="171.52" y2="831.5" stroke="#222"/>
<line x1="203.31" y1="831.5" x2="244.31" y2="831.5" stroke="#222"/>
<line x1="167.84" y1="835.5" x2="207.5" y2="835.5" stroke="#222"/>
<line x1="133.87" y1="841.5" x2="197.46" y2="841.5" stroke="#222"/>
<text text-anchor="middle" stroke="#000" font-size="24.3" x="0" y="16.72" transform="translate(122.99 839.47) scale(1 0.82)" style="stroke-width:.3px">**</text>
<text text-anchor="middle" stroke="#000" font-size="24.3" x="0" y="16.72" transform="translate(247.99 837.79) scale(1 0.82)" style="stroke-width:.3px">****</text>
<circle cx="122.32" cy="870.86" r="2.3" fill="none" stroke="#000" stroke-width="1.2" stroke-opacity=".7"/>
<circle cx="142.74" cy="872.03" r="2.3" fill="none" stroke="#000" stroke-width="1.2" stroke-opacity=".7"/>
<circle cx="132.53" cy="877.05" r="2.3" fill="none" stroke="#000" stroke-width="1.2" stroke-opacity=".7"/>
<circle cx="132.53" cy="881.24" r="2.3" fill="none" stroke="#000" stroke-width="1.2" stroke-opacity=".7"/>
<circle cx="166.16" cy="926.08" r="2.3" fill="none" stroke="#000" stroke-width="1.2" stroke-opacity=".7"/>
<circle cx="159.81" cy="930.27" r="2.3" fill="none" stroke="#000" stroke-width="1.2" stroke-opacity=".7"/>
<circle cx="173.19" cy="930.27" r="2.3" fill="none" stroke="#000" stroke-width="1.2" stroke-opacity=".7"/>
<circle cx="179.89" cy="927.59" r="2.3" fill="none" stroke="#000" stroke-width="1.2" stroke-opacity=".7"/>
<circle cx="207.16" cy="841.91" r="2.3" fill="none" stroke="#000" stroke-width="1.2" stroke-opacity=".7"/>
<circle cx="196.95" cy="844.42" r="2.3" fill="none" stroke="#000" stroke-width="1.2" stroke-opacity=".7"/>
<circle cx="207.16" cy="847.77" r="2.3" fill="none" stroke="#000" stroke-width="1.2" stroke-opacity=".7"/>
<circle cx="207.16" cy="864.84" r="2.3" fill="none" stroke="#000" stroke-width="1.2" stroke-opacity=".7"/>
<circle cx="244.65" cy="937.63" r="2.4" fill="#000" stroke="none"/>
<rect x="342.5" y="810.5" width="19" height="21" fill="#92d050" stroke="#222" stroke-width="1.2"/>
<text stroke="#000" x="373.7" y="827.7">iMac cM</text>
<rect x="342.5" y="844.5" width="19" height="21" fill="#8faadc" stroke="#222" stroke-width="1.2"/>
<text stroke="#000" x="373.7" y="862.5">organoid cM</text>
<rect x="342.5" y="879.5" width="19" height="21" fill="#ed7d31" stroke="#222" stroke-width="1.2"/>
<text stroke="#000" x="373.7" y="897.1">co-culture organoid cM</text>
<rect x="342.5" y="914.5" width="19" height="21" fill="#7f7f7f" stroke="#222" stroke-width="1.2"/>
<text stroke="#000" x="373.7" y="931.4">control medium</text>
<text font-weight="bold" stroke="#000" font-size="32" x="586" y="31">b</text>
<text text-anchor="middle" stroke="#000" x="861" y="72.5">culture</text>
<text text-anchor="middle" stroke="#000" x="860.6" y="97" word-spacing="3.5">medium (cM)</text>
<line x1="794.1" y1="107.3" x2="920" y2="107.3" stroke="#000" stroke-width="1.8"/>
<text text-anchor="middle" stroke="#000" x="968.4" y="74.8">cell</text>
<text text-anchor="middle" stroke="#000" x="968.4" y="99.3">lysate</text>
<line x1="931.1" y1="105.8" x2="1004.5" y2="105.8" stroke="#000" stroke-width="1.8"/>
<text stroke="#000" transform="translate(712.5 178.8) rotate(-90)">ladder</text>
<text text-anchor="middle" stroke="#000" x="751.4" y="133.6">human</text>
<text text-anchor="middle" stroke="#000" x="751.4" y="158.8">HDL</text>
<text text-anchor="middle" stroke="#000" x="751.4" y="183.3">ctrl</text>
<text stroke="#000" transform="translate(811.5 190) rotate(-48)">organoid</text>
<text stroke="#000" transform="translate(880.5 185.5) rotate(-48)">iMac</text>
<text stroke="#000" transform="translate(959.5 185.5) rotate(-48)">iMac</text>
<clipPath id="cpb1"><rect x="662.8" y="189.1" width="333.1" height="81.7"/></clipPath>
<g clip-path="url(#cpb1)">
<rect x="662.8" y="189.1" width="333.1" height="81.7" fill="url(#gpb1)" stroke="none"/>
<polygon points="662.8,188.1 995.9,188.1 995.9,189.7 850,191.3 760,192.6 662.8,194.6" fill="#0a0a0a" stroke="none" filter="url(#bl1)"/>
<rect x="787" y="215" width="56" height="60" fill="#d9d9d9" stroke="none" filter="url(#bl3)"/>
<rect x="852" y="215" width="54" height="60" fill="#dcdcdc" stroke="none" filter="url(#bl3)"/>
<rect x="679" y="203.1" width="30" height="3" fill="#a8a8a8" stroke="none" filter="url(#bl1)" rx="2"/>
<rect x="679" y="212.5" width="30" height="5" fill="#666" stroke="none" filter="url(#bl1)" rx="2"/>
<rect x="679" y="237.1" width="30" height="5" fill="#606060" stroke="none" filter="url(#bl1)" rx="2"/>
<rect x="679" y="260.05" width="30" height="5.5" fill="#555" stroke="none" filter="url(#bl1)" rx="2"/>
<rect x="788" y="220" width="55.5" height="28" fill="#9c9c9c" stroke="none" rx="13" filter="url(#bl2)"/>
<rect x="853" y="218" width="52" height="27.5" fill="#9a9a9a" stroke="none" rx="13" filter="url(#bl2)"/>
<rect x="792" y="225" width="48" height="19" fill="#8c8c8c" stroke="none" rx="9" filter="url(#bl3)" opacity="0.8"/>
<rect x="857" y="222.5" width="44" height="18" fill="#8c8c8c" stroke="none" rx="9" filter="url(#bl3)" opacity="0.8"/>
<ellipse cx="749.3" cy="220.8" rx="7" ry="6.5" fill="#fff" stroke="none" filter="url(#bl2)"/>
<ellipse cx="770" cy="243.5" rx="10" ry="8.5" fill="#fff" stroke="none" filter="url(#bl2)"/>
<ellipse cx="850.5" cy="215" rx="3" ry="4" fill="#f4f4f4" stroke="none" filter="url(#bl1)"/>
<line x1="905" y1="196" x2="912" y2="209" stroke="#f8f8f8" stroke-width="2.5" filter="url(#bl1)"/>
<circle cx="921" cy="236" r="2.5" fill="#fbfbfb" stroke="none" filter="url(#bl1)"/>
<circle cx="934" cy="221" r="2" fill="#fbfbfb" stroke="none" filter="url(#bl1)"/>
<circle cx="924" cy="250" r="2" fill="#fbfbfb" stroke="none" filter="url(#bl1)"/>
<circle cx="961" cy="240" r="1.8" fill="#fbfbfb" stroke="none" filter="url(#bl1)"/>
<circle cx="742" cy="226" r="2" fill="#fbfbfb" stroke="none" filter="url(#bl1)"/>
<circle cx="737" cy="254" r="2.2" fill="#fbfbfb" stroke="none" filter="url(#bl1)"/>
<circle cx="756" cy="203" r="2" fill="#fbfbfb" stroke="none" filter="url(#bl1)"/>
<rect x="662.8" y="264.3" width="333.1" height="7" fill="url(#gfade)" stroke="none"/>
</g>
<rect x="662.8" y="189.1" width="333.1" height="81.7" fill="none" stroke="#000" stroke-width="2" stroke-dasharray="7.6 6.6"/>
<rect x="716.7" y="275.9" width="278.4" height="67.6" fill="url(#gwb1)" stroke="none"/>
<rect x="732.5" y="294.5" width="57" height="23.5" fill="#161513" stroke="none" rx="11" filter="url(#bl2)"/>
<rect x="868" y="298.6" width="35" height="5" fill="#1c3a4e" stroke="none" rx="2.5" filter="url(#bl2)"/>
<circle cx="871" cy="301" r="3" fill="#152c3c" stroke="none" filter="url(#bl1)"/>
<circle cx="900" cy="300" r="3.2" fill="#152c3c" stroke="none" filter="url(#bl1)"/>
<rect x="920" y="294" width="58" height="34" fill="#141311" stroke="none" rx="15" filter="url(#bl2)"/>
<rect x="715.5" y="274.6" width="280.8" height="70.2" fill="none" stroke="#000" stroke-width="3" stroke-dasharray="11.2 10"/>
<text stroke="#000" transform="translate(1003.4 175.3) rotate(90)">Ponceau S</text>
<text stroke="#000" transform="translate(1003.4 296.6) rotate(90)">W-B</text>
<text stroke="#000" x="595.2" y="248.2">75kDa</text>
<text stroke="#000" x="630.4" y="316">APOE</text>
<text stroke="#000" x="601.7" y="354.2">35kDa</text>
<line x1="687.5" y1="308.6" x2="706" y2="308.6" stroke="#000" stroke-width="1.8"/>
<polygon points="720.5,308.6 697.5,299.8 705.5,308.6 697.5,317.4" fill="#000" stroke="none"/>
<path d="M661.6 347.8H693.2V324.4H710" fill="none" stroke="#000" stroke-width="1.8"/>
<polygon points="722,324.4 699,315.6 707,324.4 699,333.2" fill="#000" stroke="none"/>
<text text-anchor="middle" stroke="#000" transform="translate(1084.3 160.5) rotate(-90)">ApoE<tspan dx="2.5"> band</tspan> intensity</text>
<text text-anchor="middle" stroke="#000" transform="translate(1109.6 161) rotate(-90)">normalized with Ponceau S</text>
<line x1="1169.5" y1="65.6" x2="1169.5" y2="102" stroke="#111" stroke-width="1.1"/>
<line x1="1169.5" y1="115.8" x2="1169.5" y2="255.6" stroke="#111" stroke-width="1.1"/>
<line x1="1163.3" y1="255.5" x2="1268.5" y2="255.5" stroke="#111" stroke-width="1.1"/>
<line x1="1162.4" y1="65.5" x2="1169.9" y2="65.5" stroke="#111" stroke-width="1.1"/>
<line x1="1164.4" y1="83.5" x2="1169.9" y2="83.5" stroke="#111" stroke-width="1.1"/>
<line x1="1164.4" y1="185.5" x2="1169.9" y2="185.5" stroke="#111" stroke-width="1.1"/>
<line x1="1164.9" y1="98.1" x2="1173.7" y2="106.5" stroke="#111" stroke-width="1.1"/>
<line x1="1163.8" y1="110" x2="1172.8" y2="118.4" stroke="#111" stroke-width="1.1"/>
<text text-anchor="end" stroke="#000" x="1162" y="70.5">100</text>
<text text-anchor="end" stroke="#000" x="1162.5" y="119.8">1</text>
<text text-anchor="end" stroke="#000" x="1163" y="261.5">0</text>
<rect x="1211.5" y="230.5" width="20" height="25" fill="#d2d2d2" stroke="#222"/>
<rect x="1242.5" y="112.5" width="20" height="143" fill="#f4b183" stroke="#222"/>
<rect x="1242.5" y="78.5" width="20" height="26" fill="#f4b183" stroke="#222"/>
<rect x="1241" y="101.9" width="23" height="13" fill="#fff" stroke="none"/>
<line x1="1242.5" y1="101.8" x2="1242.5" y2="78.4" stroke="#222"/>
<line x1="1221.5" y1="255.6" x2="1221.5" y2="263.3" stroke="#111" stroke-width="1.1"/>
<line x1="1252.5" y1="255.6" x2="1252.5" y2="263.3" stroke="#111" stroke-width="1.1"/>
<circle cx="1186.6" cy="255.9" r="6.6" fill="#22e022" stroke="#0f8a1f" stroke-width="1.2"/>
<circle cx="1194.9" cy="254.1" r="6.6" fill="#22e022" stroke="#0f8a1f" stroke-width="1.2"/>
<circle cx="1217.6" cy="229.4" r="6.6" fill="#000" stroke="none"/>
<circle cx="1225.6" cy="229.4" r="6.6" fill="#000" stroke="none"/>
<circle cx="1252.6" cy="66.8" r="6.6" fill="#a5672a" stroke="#5a3a18" stroke-width="1.2"/>
<circle cx="1252.6" cy="90.8" r="6.6" fill="#a5672a" stroke="#5a3a18" stroke-width="1.2"/>
<rect x="1120.5" y="284.5" width="21" height="22" fill="#66f566" stroke="#333"/>
<text stroke="#000" x="1151.6" y="303.3">organoid cM</text>
<rect x="1120.5" y="319.5" width="21" height="21" fill="#a6a6a6" stroke="#333"/>
<text stroke="#000" x="1151.6" y="336.6">iMacs cM</text>
<rect x="1120.5" y="352.5" width="21" height="21" fill="#f0a868" stroke="#333"/>
<text stroke="#000" textLength="151.8" lengthAdjust="spacingAndGlyphs" x="1151.6" y="369.3">iMacs cell lysate</text>
<text font-weight="bold" stroke="#000" font-size="32" x="1302.5" y="31">c</text>
<text text-anchor="middle" font-style="italic" stroke="#000" x="1514.2" y="62.8">APOE</text>
<rect x="1388.6" y="68.6" width="244.9" height="233.9" fill="none" stroke="#1a1a1a" stroke-width="1.5"/>
<line x1="1385.6" y1="118.5" x2="1388.6" y2="118.5" stroke="#222"/>
<text text-anchor="end" stroke="#000" font-size="23.3" x="1387.8" y="127.2" style="stroke-width:.15px">1.5</text>
<line x1="1385.6" y1="177.5" x2="1388.6" y2="177.5" stroke="#222"/>
<text text-anchor="end" stroke="#000" font-size="23.3" x="1387.8" y="186.5" style="stroke-width:.15px">1</text>
<line x1="1385.6" y1="236.5" x2="1388.6" y2="236.5" stroke="#222"/>
<text text-anchor="end" stroke="#000" font-size="23.3" x="1387.8" y="245.8" style="stroke-width:.15px">0.5</text>
<line x1="1385.6" y1="296.5" x2="1388.6" y2="296.5" stroke="#222"/>
<text text-anchor="end" stroke="#000" font-size="23.3" x="1387.8" y="305.4" style="stroke-width:.15px">0</text>
<text text-anchor="middle" stroke="#000" transform="translate(1340 186) rotate(-90)">expression level</text>
<line x1="1425" y1="137.3" x2="1425" y2="295" stroke="#a6a6a6" stroke-width="1.8"/>
<line x1="1485" y1="78.3" x2="1485" y2="295" stroke="#a6a6a6" stroke-width="1.8"/>
<line x1="1545.6" y1="181.7" x2="1545.6" y2="293.5" stroke="#a6a6a6" stroke-width="1.8"/>
<line x1="1599.9" y1="181.7" x2="1599.9" y2="293.5" stroke="#a6a6a6" stroke-width="1.8"/>
<line x1="1398.3" y1="295" x2="1451.6" y2="295" stroke="#9a9a9a" stroke-width="1.5"/>
<line x1="1458.3" y1="295" x2="1511.6" y2="295" stroke="#9a9a9a" stroke-width="1.5"/>
<line x1="1521.6" y1="293.4" x2="1569.9" y2="293.4" stroke="#9a9a9a" stroke-width="1.5"/>
<line x1="1575.5" y1="293.4" x2="1623.2" y2="293.4" stroke="#9a9a9a" stroke-width="1.5"/>
<text text-anchor="end" stroke="#000" font-size="21" transform="translate(1434.5 327) rotate(-25)">NPC</text>
<text text-anchor="end" stroke="#000" font-size="21" transform="translate(1495 322.5) rotate(-25)">co-NPC</text>
<text text-anchor="end" stroke="#000" font-size="21" transform="translate(1547.5 320) rotate(-25)">neuron</text>
<text text-anchor="end" stroke="#000" font-size="21" transform="translate(1607.5 319) rotate(-25)">co-neuron</text>
<rect x="1662.9" y="13.7" width="21" height="21" fill="#c6c6c6" stroke="#111" stroke-width="2.2"/>
<rect x="1662.9" y="45.2" width="21" height="21" fill="#92d050" stroke="#111" stroke-width="2.2"/>
<text stroke="#000" font-size="20.75" x="1699.1" y="31.8">organoid (day 18)</text>
<text stroke="#000" font-size="20.75" x="1699.1" y="62.4">co-culture organoid (day 18)</text>
<text text-anchor="middle" stroke="#000" transform="translate(1676.5 191.5) rotate(-90)" word-spacing="3">APOE (tpm)</text>
<line x1="1720.8" y1="79.3" x2="1720.8" y2="303.2" stroke="#111" stroke-width="1.3"/>
<line x1="1713.1" y1="79.3" x2="1720.8" y2="79.3" stroke="#111" stroke-width="1.3"/>
<text text-anchor="end" stroke="#000" x="1709.3" y="86.5">3</text>
<line x1="1713.1" y1="153.9" x2="1720.8" y2="153.9" stroke="#111" stroke-width="1.3"/>
<text text-anchor="end" stroke="#000" x="1709.3" y="161.1">2</text>
<line x1="1713.1" y1="228.5" x2="1720.8" y2="228.5" stroke="#111" stroke-width="1.3"/>
<text text-anchor="end" stroke="#000" x="1709.3" y="235.7">1</text>
<line x1="1713.1" y1="303.2" x2="1720.8" y2="303.2" stroke="#111" stroke-width="1.3"/>
<text text-anchor="end" stroke="#000" x="1709.3" y="310.4">0</text>
<rect x="1731.5" y="234.9" width="20" height="68.3" fill="#a6a6a6" stroke="none"/>
<rect x="1763.8" y="164.9" width="19.3" height="138.3" fill="#127f12" stroke="none"/>
<rect x="1795.4" y="270.5" width="20" height="32.7" fill="#a6a6a6" stroke="none"/>
<rect x="1827.4" y="220.6" width="20" height="82.6" fill="#127f12" stroke="none"/>
<line x1="1709.8" y1="303.2" x2="1860.7" y2="303.2" stroke="#000" stroke-width="1.8"/>
<line x1="1741.5" y1="303.2" x2="1741.5" y2="316.5" stroke="#111" stroke-width="1.2"/>
<line x1="1773.5" y1="303.2" x2="1773.5" y2="316.5" stroke="#111" stroke-width="1.2"/>
<line x1="1805.5" y1="303.2" x2="1805.5" y2="316.5" stroke="#111" stroke-width="1.2"/>
<line x1="1837.5" y1="303.2" x2="1837.5" y2="316.5" stroke="#111" stroke-width="1.2"/>
<line x1="1731.5" y1="321" x2="1774.1" y2="321" stroke="#000" stroke-width="1.9"/>
<line x1="1804.1" y1="321" x2="1846.4" y2="321" stroke="#000" stroke-width="1.9"/>
<text text-anchor="middle" stroke="#000" x="1755.4" y="342.6">NPC</text>
<text text-anchor="middle" stroke="#000" x="1828.1" y="342.6">neuron</text>
<line x1="1730.1" y1="109" x2="1771.4" y2="109" stroke="#000" stroke-width="2"/>
<text text-anchor="middle" stroke="#000" font-size="24.3" x="0" y="16.72" transform="translate(1750.8 97.2) scale(1 0.82)" style="stroke-width:.3px">**</text>
<line x1="1773.4" y1="87.3" x2="1814.8" y2="87.3" stroke="#000" stroke-width="2"/>
<text text-anchor="middle" stroke="#000" font-size="24.3" x="0" y="16.72" transform="translate(1795.8 75.2) scale(1 0.82)" style="stroke-width:.3px">***</text>
<circle cx="1736.46" cy="220.56" r="5.6" fill="#d4d4d4" stroke="#2a2a2a" stroke-width="1.3"/>
<circle cx="1742.45" cy="220.56" r="5.6" fill="#d4d4d4" stroke="#2a2a2a" stroke-width="1.3"/>
<circle cx="1747.45" cy="220.56" r="5.6" fill="#d4d4d4" stroke="#2a2a2a" stroke-width="1.3"/>
<circle cx="1742.45" cy="229.89" r="5.6" fill="#d4d4d4" stroke="#2a2a2a" stroke-width="1.3"/>
<circle cx="1736.46" cy="234.22" r="5.6" fill="#d4d4d4" stroke="#2a2a2a" stroke-width="1.3"/>
<circle cx="1746.45" cy="237.55" r="5.6" fill="#d4d4d4" stroke="#2a2a2a" stroke-width="1.3"/>
<circle cx="1741.45" cy="255.54" r="5.6" fill="#d4d4d4" stroke="#2a2a2a" stroke-width="1.3"/>
<circle cx="1739.79" cy="303.18" r="5.6" fill="#d4d4d4" stroke="#2a2a2a" stroke-width="1.3"/>
<circle cx="1744.79" cy="303.18" r="5.6" fill="#d4d4d4" stroke="#2a2a2a" stroke-width="1.3"/>
<circle cx="1802.09" cy="220.56" r="5.6" fill="#d4d4d4" stroke="#2a2a2a" stroke-width="1.3"/>
<circle cx="1806.42" cy="220.56" r="5.6" fill="#d4d4d4" stroke="#2a2a2a" stroke-width="1.3"/>
<circle cx="1809.09" cy="220.56" r="5.6" fill="#d4d4d4" stroke="#2a2a2a" stroke-width="1.3"/>
<circle cx="1805.42" cy="257.2" r="5.6" fill="#d4d4d4" stroke="#2a2a2a" stroke-width="1.3"/>
<circle cx="1800.76" cy="303.18" r="5.6" fill="#d4d4d4" stroke="#2a2a2a" stroke-width="1.3"/>
<circle cx="1806.42" cy="303.18" r="5.6" fill="#d4d4d4" stroke="#2a2a2a" stroke-width="1.3"/>
<circle cx="1810.75" cy="303.18" r="5.6" fill="#d4d4d4" stroke="#2a2a2a" stroke-width="1.3"/>
<circle cx="1773.44" cy="125.27" r="5.6" fill="#20e420" stroke="#0a6e14" stroke-width="1.3"/>
<circle cx="1773.44" cy="155.92" r="5.6" fill="#20e420" stroke="#0a6e14" stroke-width="1.3"/>
<circle cx="1769.77" cy="163.92" r="5.6" fill="#20e420" stroke="#0a6e14" stroke-width="1.3"/>
<circle cx="1777.1" cy="163.92" r="5.6" fill="#20e420" stroke="#0a6e14" stroke-width="1.3"/>
<circle cx="1772.1" cy="216.56" r="5.6" fill="#20e420" stroke="#0a6e14" stroke-width="1.3"/>
<circle cx="1768.77" cy="220.56" r="5.6" fill="#20e420" stroke="#0a6e14" stroke-width="1.3"/>
<circle cx="1777.1" cy="220.56" r="5.6" fill="#20e420" stroke="#0a6e14" stroke-width="1.3"/>
<circle cx="1837.41" cy="180.58" r="5.6" fill="#20e420" stroke="#0a6e14" stroke-width="1.3"/>
<circle cx="1839.07" cy="209.23" r="5.6" fill="#20e420" stroke="#0a6e14" stroke-width="1.3"/>
<circle cx="1835.41" cy="213.23" r="5.6" fill="#20e420" stroke="#0a6e14" stroke-width="1.3"/>
<circle cx="1842.4" cy="220.56" r="5.6" fill="#20e420" stroke="#0a6e14" stroke-width="1.3"/>
<circle cx="1833.07" cy="225.89" r="5.6" fill="#20e420" stroke="#0a6e14" stroke-width="1.3"/>
<circle cx="1837.41" cy="232.22" r="5.6" fill="#20e420" stroke="#0a6e14" stroke-width="1.3"/>
<circle cx="1837.41" cy="261.87" r="5.6" fill="#20e420" stroke="#0a6e14" stroke-width="1.3"/>
<text font-weight="bold" stroke="#000" font-size="32" x="634.5" y="433.8">d</text>
<text text-anchor="middle" stroke="#000" x="893.8" y="434.3">concentrated cM</text>
<text text-anchor="middle" stroke="#000" x="894.6" y="460">(40ug protein) (day 18)</text>
<text text-anchor="middle" stroke="#000" transform="translate(668.8 584.4) rotate(-90)">APOE<tspan dx="2"> band</tspan> intensity</text>
<text text-anchor="middle" stroke="#000" transform="translate(692.5 584.4) rotate(-90)">normalized with Ponceau S</text>
<line x1="744.5" y1="475" x2="744.5" y2="640.6" stroke="#111" stroke-width="1.1"/>
<line x1="740" y1="640.5" x2="1047" y2="640.5" stroke="#111" stroke-width="1.1"/>
<line x1="740" y1="475.5" x2="744.5" y2="475.5" stroke="#111" stroke-width="1.1"/>
<text text-anchor="end" stroke="#000" x="738.3" y="482.6">2</text>
<line x1="741.5" y1="517.5" x2="744.5" y2="517.5" stroke="#111" stroke-width="1.1"/>
<line x1="740" y1="558.5" x2="744.5" y2="558.5" stroke="#111" stroke-width="1.1"/>
<text text-anchor="end" stroke="#000" x="738.3" y="565.9">1</text>
<line x1="741.5" y1="599.5" x2="744.5" y2="599.5" stroke="#111" stroke-width="1.1"/>
<line x1="740" y1="640.5" x2="744.5" y2="640.5" stroke="#111" stroke-width="1.1"/>
<text text-anchor="end" stroke="#000" x="738.3" y="648.2">0</text>
<rect x="819.5" y="630.5" width="39" height="10" fill="#b4f0dc" stroke="#1a1a1a"/>
<rect x="876.5" y="547.5" width="38" height="93" fill="#fddcb8" stroke="#1a1a1a"/>
<rect x="933.5" y="613.5" width="38" height="27" fill="#fb7f7f" stroke="#1a1a1a"/>
<line x1="838.5" y1="640.6" x2="838.5" y2="646.1" stroke="#111" stroke-width="1.1"/>
<line x1="895.5" y1="640.6" x2="895.5" y2="646.1" stroke="#111" stroke-width="1.1"/>
<line x1="952.5" y1="640.6" x2="952.5" y2="646.1" stroke="#111" stroke-width="1.1"/>
<line x1="846.3" y1="484.5" x2="899.5" y2="484.5" stroke="#222"/>
<line x1="904.5" y1="483.5" x2="1020.5" y2="483.5" stroke="#222"/>
<line x1="783.8" y1="491.5" x2="899.5" y2="491.5" stroke="#222"/>
<line x1="904.5" y1="506.5" x2="957" y2="506.5" stroke="#222"/>
<text text-anchor="middle" stroke="#000" font-size="24.3" x="0" y="16.72" transform="translate(902 473.5) scale(1 0.82)" style="stroke-width:.3px">**</text>
<text text-anchor="middle" stroke="#000" font-size="24.3" x="0" y="16.72" transform="translate(953 497.3) scale(1 0.82)" style="stroke-width:.3px">*</text>
<circle cx="768.3" cy="640.8" r="5.2" fill="#22e022" stroke="#0a7a22" stroke-width="1.3"/>
<circle cx="782" cy="640.8" r="5.2" fill="#22e022" stroke="#0a7a22" stroke-width="1.3"/>
<circle cx="795.8" cy="640.8" r="5.2" fill="#22e022" stroke="#0a7a22" stroke-width="1.3"/>
<circle cx="839" cy="610.8" r="5.2" fill="#1fb58c" stroke="#0c6a52" stroke-width="1.3"/>
<circle cx="825.3" cy="640.8" r="5.2" fill="#1fb58c" stroke="#0c6a52" stroke-width="1.3"/>
<circle cx="852.8" cy="640.8" r="5.2" fill="#1fb58c" stroke="#0c6a52" stroke-width="1.3"/>
<circle cx="895.5" cy="500.8" r="5.2" fill="#f5861f" stroke="#5a3208" stroke-width="1.3"/>
<circle cx="895.5" cy="553" r="5.2" fill="#f5861f" stroke="#5a3208" stroke-width="1.3"/>
<circle cx="895.5" cy="589.5" r="5.2" fill="#f5861f" stroke="#5a3208" stroke-width="1.3"/>
<circle cx="952.5" cy="602" r="5.2" fill="#e81212" stroke="#7a0808" stroke-width="1.3"/>
<circle cx="938.8" cy="619.5" r="5.2" fill="#e81212" stroke="#7a0808" stroke-width="1.3"/>
<circle cx="966.3" cy="618.8" r="5.2" fill="#e81212" stroke="#7a0808" stroke-width="1.3"/>
<circle cx="995.5" cy="640.8" r="5.2" fill="#858585" stroke="#555" stroke-width="1.3"/>
<circle cx="1009.3" cy="640.8" r="5.2" fill="#858585" stroke="#555" stroke-width="1.3"/>
<circle cx="1023" cy="640.8" r="5.2" fill="#858585" stroke="#555" stroke-width="1.3"/>
<text text-anchor="middle" fill="#1a1a1a" stroke="#1a1a1a" font-size="19.3" x="843.4" y="668" style="stroke-width:.2px">+ probucol</text>
<text text-anchor="middle" fill="#1a1a1a" stroke="#1a1a1a" font-size="19.3" x="961.6" y="668" style="stroke-width:.2px">+ probucol</text>
<circle cx="1061.8" cy="508.8" r="7" fill="#92d050" stroke="#a9d18e"/>
<circle cx="1085.5" cy="509.1" r="7" fill="#4c8a3a" stroke="#6a9a5a"/>
<circle cx="1061.8" cy="567.5" r="7" fill="#f8cbad" stroke="#a8a8a8" stroke-width="1.2"/>
<circle cx="1085.5" cy="567.5" r="7" fill="#f60a0a" stroke="#ff5a5a"/>
<circle cx="1071.8" cy="624.3" r="7" fill="#565c66" stroke="#7a7f88"/>
<text stroke="#000" x="1103.2" y="519.6">organoid</text>
<text stroke="#000" x="1103.2" y="568.4">co-culture</text>
<text stroke="#000" x="1103.2" y="593.1">organoid</text>
<text fill="#1a1a1a" stroke="#1a1a1a" font-size="19.4" x="1104.6" y="624.9" style="stroke-width:.2px">negative control</text>
<text fill="#1a1a1a" stroke="#1a1a1a" font-size="19.4" x="1104.6" y="649.6" style="stroke-width:.2px">medium</text>
<text font-weight="bold" stroke="#000" font-size="32" x="628.5" y="743.3">e</text>
<text text-anchor="middle" stroke="#000" x="891.6" y="751.8">HDL fraction</text>
<text text-anchor="middle" stroke="#000" x="891.6" y="777">(40ug protein) (day 18)</text>
<text text-anchor="middle" stroke="#000" transform="translate(666.3 903.2) rotate(-90)">APOE<tspan dx="2"> band</tspan> intensity</text>
<text text-anchor="middle" stroke="#000" transform="translate(690 903.4) rotate(-90)">normalized with Ponceau S</text>
<line x1="742.5" y1="813.8" x2="742.5" y2="974.5" stroke="#111" stroke-width="1.1"/>
<line x1="737.5" y1="974.5" x2="1039.5" y2="974.5" stroke="#111" stroke-width="1.1"/>
<line x1="736.5" y1="813.5" x2="742" y2="813.5" stroke="#111" stroke-width="1.1"/>
<text text-anchor="end" stroke="#000" x="735.5" y="821.4">2</text>
<line x1="740" y1="853.5" x2="742" y2="853.5" stroke="#666" stroke-width="0.8"/>
<line x1="739" y1="894.5" x2="742" y2="894.5" stroke="#111" stroke-width="1.1"/>
<text text-anchor="end" stroke="#000" x="735.5" y="901.9">1</text>
<line x1="740" y1="934.5" x2="742" y2="934.5" stroke="#666" stroke-width="0.8"/>
<line x1="736.5" y1="974.5" x2="742" y2="974.5" stroke="#111" stroke-width="1.1"/>
<text text-anchor="end" stroke="#000" x="735.5" y="982.1">0</text>
<rect x="760.5" y="968.5" width="32" height="6" fill="#d2f7d2" stroke="#1a1a1a"/>
<rect x="872.5" y="872.5" width="37" height="102" fill="#fddcb8" stroke="#1a1a1a"/>
<rect x="928.5" y="926.5" width="37" height="48" fill="#fb7f7f" stroke="#1a1a1a"/>
<line x1="779.5" y1="974.5" x2="779.5" y2="977.5" stroke="#111" stroke-width="1.1"/>
<line x1="890.5" y1="974.5" x2="890.5" y2="979" stroke="#111" stroke-width="1.1"/>
<line x1="946.5" y1="974.5" x2="946.5" y2="979" stroke="#111" stroke-width="1.1"/>
<line x1="776.3" y1="800.5" x2="955.8" y2="800.5" stroke="#222"/>
<line x1="839.5" y1="806.5" x2="955.8" y2="806.5" stroke="#222"/>
<line x1="838.3" y1="826.5" x2="891.3" y2="826.5" stroke="#222"/>
<line x1="895.5" y1="825.5" x2="1011.3" y2="825.5" stroke="#222"/>
<line x1="775" y1="833.5" x2="891.3" y2="833.5" stroke="#222"/>
<line x1="892" y1="850.5" x2="943.8" y2="850.5" stroke="#222"/>
<line x1="949.3" y1="850.5" x2="1001.3" y2="850.5" stroke="#222"/>
<text text-anchor="middle" stroke="#000" font-size="24.3" x="0" y="16.72" transform="translate(947 791.3) scale(1 0.82)" style="stroke-width:.3px">**</text>
<text text-anchor="middle" stroke="#000" font-size="24.3" x="0" y="16.72" transform="translate(898 814.3) scale(1 0.82)" style="stroke-width:.3px">****</text>
<text text-anchor="middle" stroke="#000" font-size="24.3" x="0" y="16.72" transform="translate(944.3 840) scale(1 0.82)" style="stroke-width:.3px">**</text>
<circle cx="765.8" cy="961.3" r="5.2" fill="#22e022" stroke="#0a7a22" stroke-width="1.3"/>
<circle cx="765.8" cy="974.5" r="5.2" fill="#22e022" stroke="#0a7a22" stroke-width="1.3"/>
<circle cx="793" cy="971.3" r="5.2" fill="#22e022" stroke="#0a7a22" stroke-width="1.3"/>
<circle cx="821.8" cy="974.3" r="5.2" fill="#1fb58c" stroke="#0c6a52" stroke-width="1.3"/>
<circle cx="835" cy="972.5" r="5.2" fill="#1fb58c" stroke="#0c6a52" stroke-width="1.3"/>
<circle cx="848.8" cy="973.8" r="5.2" fill="#1fb58c" stroke="#0c6a52" stroke-width="1.3"/>
<circle cx="890.8" cy="856.8" r="5.2" fill="#f5861f" stroke="#5a3208" stroke-width="1.3"/>
<circle cx="890.8" cy="875" r="5.2" fill="#f5861f" stroke="#5a3208" stroke-width="1.3"/>
<circle cx="890.8" cy="887" r="5.2" fill="#f5861f" stroke="#5a3208" stroke-width="1.3"/>
<circle cx="946.8" cy="906.3" r="5.2" fill="#e81212" stroke="#7a0808" stroke-width="1.3"/>
<circle cx="946.8" cy="926.8" r="5.2" fill="#e81212" stroke="#7a0808" stroke-width="1.3"/>
<circle cx="946.8" cy="947.5" r="5.2" fill="#e81212" stroke="#7a0808" stroke-width="1.3"/>
<circle cx="988.8" cy="974.3" r="5.2" fill="#858585" stroke="#555" stroke-width="1.3"/>
<circle cx="1002.5" cy="974.3" r="5.2" fill="#858585" stroke="#555" stroke-width="1.3"/>
<circle cx="1016.3" cy="974.3" r="5.2" fill="#858585" stroke="#555" stroke-width="1.3"/>
<text text-anchor="middle" fill="#1a1a1a" stroke="#1a1a1a" font-size="19.3" x="835.4" y="997.5" style="stroke-width:.2px">+ probucol</text>
<text text-anchor="middle" fill="#1a1a1a" stroke="#1a1a1a" font-size="19.3" x="953.4" y="997.5" style="stroke-width:.2px">+ probucol</text>
<circle cx="1065" cy="841.3" r="7" fill="#92d050" stroke="#a9d18e"/>
<circle cx="1087.5" cy="841.6" r="7" fill="#4c8a3a" stroke="#6a9a5a"/>
<circle cx="1065" cy="900" r="7" fill="#f8cbad" stroke="#a8a8a8" stroke-width="1.2"/>
<circle cx="1087.5" cy="900" r="7" fill="#f60a0a" stroke="#ff5a5a"/>
<circle cx="1073.8" cy="956.8" r="7" fill="#565c66" stroke="#7a7f88"/>
<text stroke="#000" x="1105.7" y="852">organoid</text>
<text stroke="#000" x="1105.7" y="900.4">co-culture</text>
<text stroke="#000" x="1105.7" y="925.9">organoid</text>
<text fill="#1a1a1a" stroke="#1a1a1a" font-size="19.4" x="1107.5" y="958" style="stroke-width:.2px">negative control</text>
<text fill="#1a1a1a" stroke="#1a1a1a" font-size="19.4" x="1107.5" y="983.4" style="stroke-width:.2px">medium</text>
<rect x="1254.6" y="389.3" width="706.4" height="299.4" fill="none" stroke="#111" stroke-width="1.8" stroke-dasharray="15.2 6.8"/>
<text text-anchor="middle" stroke="#000" font-size="20" x="1592" y="412.8">medium</text>
<line x1="1547.5" y1="417" x2="1641.3" y2="417" stroke="#000" stroke-width="1.6"/>
<text text-anchor="middle" stroke="#000" x="1756.3" y="411.3">+ probucol</text>
<line x1="1709" y1="415" x2="1814" y2="415" stroke="#000" stroke-width="1.6"/>
<text stroke="#000" font-size="20.2" transform="translate(1400.6 515.2) rotate(-90)">ladder</text>
<text stroke="#000" font-size="19.8" transform="translate(1458 511) rotate(-90)">human</text>
<text stroke="#000" transform="translate(1483 510.8) rotate(-90)">HDL ctrl.</text>
<text stroke="#000" transform="translate(1569.4 519.3) rotate(-90)">organoid</text>
<text stroke="#000" transform="translate(1617.2 512.2) rotate(-90)">co-culture</text>
<text stroke="#000" transform="translate(1641.8 511.8) rotate(-90)">organoid</text>
<text stroke="#000" transform="translate(1731 512.5) rotate(-90)">organoid</text>
<text stroke="#000" transform="translate(1780.3 511.8) rotate(-90)">co-culture</text>
<text stroke="#000" transform="translate(1805.3 511.8) rotate(-90)">organoid</text>
<text stroke="#000" transform="translate(1887 513.8) rotate(-90)">ctrl. negative</text>
<text stroke="#000" font-size="19.9" transform="translate(1911.5 514.2) rotate(-90)">medium</text>
<clipPath id="cpd1"><rect x="1359.4" y="520.9" width="562.6" height="67.9"/></clipPath>
<g clip-path="url(#cpd1)">
<rect x="1359.4" y="520.9" width="562.6" height="65.4" fill="url(#gpd)" stroke="none"/>
<rect x="1359.4" y="516.9" width="562.6" height="9" fill="#b0b0b0" stroke="none" filter="url(#bl2)" opacity="0.7"/>
<rect x="1413" y="521" width="30" height="6" fill="#8a8a8a" stroke="none" rx="2.73" filter="url(#bl2)"/>
<rect x="1537" y="560" width="40" height="40" fill="#bdbdbd" stroke="none" filter="url(#bl3)" opacity="0.8"/>
<rect x="1593.8" y="560" width="40" height="40" fill="#bdbdbd" stroke="none" filter="url(#bl3)" opacity="0.8"/>
<rect x="1702.8" y="560" width="40" height="40" fill="#bdbdbd" stroke="none" filter="url(#bl3)" opacity="0.8"/>
<rect x="1759" y="560" width="40" height="40" fill="#bdbdbd" stroke="none" filter="url(#bl3)" opacity="0.8"/>
<rect x="1869" y="560" width="40" height="40" fill="#bdbdbd" stroke="none" filter="url(#bl3)" opacity="0.8"/>
<rect x="1376.5" y="529.5" width="28.5" height="6" fill="#6c6c6c" stroke="none" filter="url(#bl1)" rx="2"/>
<rect x="1376.5" y="556.5" width="28.5" height="6" fill="#626262" stroke="none" filter="url(#bl1)" rx="2"/>
<rect x="1376.5" y="582.25" width="28.5" height="6.5" fill="#666" stroke="none" filter="url(#bl1)" rx="2"/>
<rect x="1533" y="541.3" width="48" height="30" fill="#959595" stroke="none" rx="14" filter="url(#bl2)"/>
<rect x="1537" y="547.3" width="40" height="20" fill="#858585" stroke="none" rx="9" filter="url(#bl3)" opacity="0.8"/>
<rect x="1589.3" y="539.5" width="49" height="31" fill="#959595" stroke="none" rx="14" filter="url(#bl2)"/>
<rect x="1593.3" y="545.5" width="41" height="21" fill="#858585" stroke="none" rx="9" filter="url(#bl3)" opacity="0.8"/>
<rect x="1698.8" y="539.5" width="48" height="31" fill="#959595" stroke="none" rx="14" filter="url(#bl2)"/>
<rect x="1702.8" y="545.5" width="40" height="21" fill="#858585" stroke="none" rx="9" filter="url(#bl3)" opacity="0.8"/>
<rect x="1754.5" y="539.5" width="49" height="31" fill="#959595" stroke="none" rx="14" filter="url(#bl2)"/>
<rect x="1758.5" y="545.5" width="41" height="21" fill="#858585" stroke="none" rx="9" filter="url(#bl3)" opacity="0.8"/>
<rect x="1864.5" y="538.8" width="49" height="30" fill="#959595" stroke="none" rx="14" filter="url(#bl2)"/>
<rect x="1868.5" y="544.8" width="41" height="20" fill="#858585" stroke="none" rx="9" filter="url(#bl3)" opacity="0.8"/>
</g>
<rect x="1359.4" y="520.9" width="562.6" height="67.9" fill="none" stroke="#000" stroke-width="2" stroke-dasharray="8.4 5.6"/>
<rect x="1421.5" y="594.5" width="500.5" height="72.3" fill="#6a8fc9" stroke="none"/>
<path d="M1436 640 C1434 628 1446 626 1459.5 626 C1473 626 1485 624 1484 638 C1484 648 1474 645 1459.5 645.5 C1446 646 1437 650 1436 640Z" fill="#121212" stroke="none" filter="url(#bl1)"/>
<path d="M1607 619 C1614 622 1633 622 1640 619 C1643 624 1643 632 1640 637.5 C1633 635 1614 635 1607 637.5 C1604 632 1604 624 1607 619Z" fill="#141212" stroke="none" filter="url(#bl1)"/>
<rect x="1770" y="620.8" width="28" height="4" fill="#1c3f5c" stroke="none" rx="1.82" filter="url(#bl1)"/>
<ellipse cx="1772.5" cy="624" rx="3.5" ry="3" fill="#1f4a63" stroke="none" filter="url(#bl1)"/>
<ellipse cx="1796" cy="621.5" rx="4" ry="3.6" fill="#142a40" stroke="none" filter="url(#bl1)"/>
<rect x="1421.5" y="594.5" width="500.5" height="72.3" fill="none" stroke="#000" stroke-width="2" stroke-dasharray="8.4 5.6"/>
<text stroke="#000" transform="translate(1931.3 496) rotate(90)">Ponceau S</text>
<text stroke="#000" transform="translate(1926.8 615) rotate(90)">W-B</text>
<text stroke="#000" x="1297.5" y="565">75kDa</text>
<text stroke="#000" x="1329.3" y="645.5">APOE</text>
<text stroke="#000" x="1300.8" y="684.5">35kDa</text>
<line x1="1387.5" y1="637.5" x2="1405" y2="637.5" stroke="#000" stroke-width="1.8"/>
<polygon points="1420.5,637.5 1397.5,628.9 1405.5,637.5 1397.5,646.1" fill="#000" stroke="none"/>
<path d="M1361.3 677.5H1392.5V653.8H1408" fill="none" stroke="#000" stroke-width="1.8"/>
<polygon points="1420.5,653.8 1397.5,645.2 1405.5,653.8 1397.5,662.4" fill="#000" stroke="none"/>
<rect x="1255.6" y="701.3" width="705.4" height="316.2" fill="none" stroke="#111" stroke-width="1.8" stroke-dasharray="15.2 6.8"/>
<text text-anchor="middle" stroke="#000" font-size="19.9" x="1609.8" y="721.8">medium</text>
<line x1="1546.3" y1="731.8" x2="1672" y2="731.8" stroke="#000" stroke-width="1.6"/>
<text text-anchor="middle" stroke="#000" x="1777.1" y="722.5">+ probucol</text>
<line x1="1725.3" y1="730.5" x2="1840.8" y2="730.5" stroke="#000" stroke-width="1.6"/>
<text stroke="#000" font-size="20.2" transform="translate(1407.3 821.3) rotate(-90)">ladder</text>
<text stroke="#000" font-size="19.5" transform="translate(1455.5 823.8) rotate(-90)">human</text>
<text stroke="#000" transform="translate(1481.3 823.8) rotate(-90)">HDL ctrl.</text>
<text stroke="#000" transform="translate(1580 832.5) rotate(-90)">organoid</text>
<text stroke="#000" transform="translate(1637.5 825) rotate(-90)">co-culture</text>
<text stroke="#000" transform="translate(1662.5 825) rotate(-90)">organoid</text>
<text stroke="#000" transform="translate(1759.5 826.3) rotate(-90)">organoid</text>
<text stroke="#000" transform="translate(1812 825) rotate(-90)">co-culture</text>
<text stroke="#000" transform="translate(1837.8 825) rotate(-90)">organoid</text>
<text stroke="#000" transform="translate(1885.3 824.3) rotate(-90)">ctrl negative</text>
<text stroke="#000" transform="translate(1910.3 825) rotate(-90)">medium</text>
<clipPath id="cpe1"><rect x="1362" y="834.3" width="560" height="55"/></clipPath>
<g clip-path="url(#cpe1)">
<rect x="1362" y="834.3" width="560" height="55" fill="url(#gpe)" stroke="none"/>
<rect x="1362" y="834.3" width="560" height="30" fill="url(#gpe2)" stroke="none"/>
<rect x="1377" y="830" width="33" height="62" fill="#cdcdcd" stroke="none" filter="url(#bl2)"/>
<rect x="1379.5" y="835" width="28.5" height="6" fill="#a0a0a0" stroke="none" filter="url(#bl2)" rx="3"/>
<rect x="1379.5" y="858.3" width="28.5" height="6" fill="#4a4a4a" stroke="none" filter="url(#bl2)" rx="3"/>
<rect x="1379.5" y="881" width="28.5" height="8" fill="#666" stroke="none" filter="url(#bl2)" rx="3"/>
<ellipse cx="1477" cy="880" rx="6" ry="5" fill="#fcfcfc" stroke="none" filter="url(#bl2)"/>
<rect x="1550.5" y="845.3" width="49" height="17" fill="#a4a4a4" stroke="none" rx="9" filter="url(#bl2)"/>
<rect x="1554.5" y="849.3" width="41" height="9" fill="#8a8a8a" stroke="none" rx="6" filter="url(#bl3)" opacity="0.7"/>
<rect x="1611.8" y="842" width="49" height="21" fill="#989898" stroke="none" rx="9" filter="url(#bl2)"/>
<rect x="1615.8" y="846" width="41" height="13" fill="#8a8a8a" stroke="none" rx="6" filter="url(#bl3)" opacity="0.7"/>
<rect x="1732.5" y="844.8" width="48" height="18" fill="#a0a0a0" stroke="none" rx="9" filter="url(#bl2)"/>
<rect x="1736.5" y="848.8" width="40" height="10" fill="#8a8a8a" stroke="none" rx="6" filter="url(#bl3)" opacity="0.7"/>
<rect x="1789.8" y="842" width="51" height="21" fill="#989898" stroke="none" rx="9" filter="url(#bl2)"/>
<rect x="1793.8" y="846" width="43" height="13" fill="#8a8a8a" stroke="none" rx="6" filter="url(#bl3)" opacity="0.7"/>
</g>
<rect x="1362" y="834.3" width="560" height="55" fill="none" stroke="#000" stroke-width="2" stroke-dasharray="8.4 5.6"/>
<rect x="1423.8" y="894.3" width="498.2" height="78.3" fill="#787878" stroke="none"/>
<rect x="1442.5" y="933.3" width="50" height="18" fill="#0a0a0a" stroke="none" rx="8" filter="url(#bl3)"/>
<rect x="1447.5" y="938.8" width="40" height="7" fill="#050505" stroke="none" rx="3" filter="url(#bl3)"/>
<rect x="1623.8" y="935.5" width="40" height="24" fill="#2c2c2c" stroke="none" rx="8" filter="url(#bl3)"/>
<rect x="1798" y="944.5" width="32" height="11" fill="#484848" stroke="none" rx="5" filter="url(#bl3)"/>
<rect x="1423.8" y="894.3" width="498.2" height="78.3" fill="none" stroke="#000" stroke-width="2" stroke-dasharray="8.4 5.6"/>
<text stroke="#000" transform="translate(1929 806.3) rotate(90)">Ponceau S</text>
<text stroke="#000" transform="translate(1929 922.5) rotate(90)">W-B</text>
<text stroke="#000" x="1297.5" y="865.8">75kDa</text>
<text stroke="#000" x="1329.3" y="948.8">APOE</text>
<text stroke="#000" x="1300.8" y="987.5">35kDa</text>
<line x1="1387.5" y1="940.8" x2="1404" y2="940.8" stroke="#000" stroke-width="1.8"/>
<polygon points="1419.5,940.8 1396.5,932.2 1404.5,940.8 1396.5,949.4" fill="#000" stroke="none"/>
<path d="M1361.3 980.5H1392V957H1408" fill="none" stroke="#000" stroke-width="1.8"/>
<polygon points="1420.5,957 1397.5,948.4 1405.5,957 1397.5,965.6" fill="#000" stroke="none"/>
<text font-weight="bold" stroke="#000" font-size="32" x="9.5" y="1054.2">f</text>
<text text-anchor="middle" stroke="#000" x="173.4" y="1112.3">iMac (day 15)</text>
<text text-anchor="middle" stroke="#000" transform="translate(49 1188.3) rotate(-90)">normalized to mode</text>
<polygon points="122.05,1259.46 123.59,1253.94 125.36,1236.29 127.12,1196.56 128.45,1156.84 129.11,1145.8 129.99,1156.84 131.54,1196.56 133.75,1236.29 136.39,1251.74 139.48,1257.92 142.35,1259.46" fill="#6fd8ec" stroke="#3fbcd6" stroke-width="0.8" stroke-linejoin="round"/>
<polygon points="141.25,1259.46 147.87,1256.15 153.39,1250.63 157.14,1240.7 160.01,1218.63 162.88,1183.32 165.53,1157.94 167.73,1149.77 169.94,1157.94 172.59,1178.91 176.12,1207.6 179.21,1225.25 181.42,1230.77 183.62,1227.9 185.83,1230.77 188.04,1234.52 191.13,1233.64 193.78,1237.39 196.42,1247.32 199.74,1253.94 204.15,1257.92 211.87,1259.46" fill="#f98a8a" stroke="#e06464" stroke-width="0.8" stroke-linejoin="round"/>
<rect x="90.5" y="1124.5" width="171" height="135" fill="none" stroke="#8a8a8a" stroke-width="1.2"/>
<line x1="87" y1="1259.5" x2="90.5" y2="1259.5" stroke="#555" stroke-width="0.9"/>
<line x1="88.5" y1="1246.5" x2="90.5" y2="1246.5" stroke="#555" stroke-width="0.9"/>
<line x1="87" y1="1233.5" x2="90.5" y2="1233.5" stroke="#555" stroke-width="0.9"/>
<line x1="88.5" y1="1220.5" x2="90.5" y2="1220.5" stroke="#555" stroke-width="0.9"/>
<line x1="87" y1="1207.5" x2="90.5" y2="1207.5" stroke="#555" stroke-width="0.9"/>
<line x1="88.5" y1="1195.5" x2="90.5" y2="1195.5" stroke="#555" stroke-width="0.9"/>
<line x1="87" y1="1182.5" x2="90.5" y2="1182.5" stroke="#555" stroke-width="0.9"/>
<line x1="88.5" y1="1169.5" x2="90.5" y2="1169.5" stroke="#555" stroke-width="0.9"/>
<line x1="87" y1="1156.5" x2="90.5" y2="1156.5" stroke="#555" stroke-width="0.9"/>
<line x1="88.5" y1="1143.5" x2="90.5" y2="1143.5" stroke="#555" stroke-width="0.9"/>
<line x1="87" y1="1130.5" x2="90.5" y2="1130.5" stroke="#555" stroke-width="0.9"/>
<text text-anchor="end" stroke="#000" font-size="20" x="80" y="1163.4">80</text>
<text text-anchor="end" stroke="#000" font-size="20" x="80" y="1215">40</text>
<text text-anchor="end" stroke="#000" font-size="20" x="80" y="1266.5">0</text>
<line x1="125.5" y1="1259.5" x2="125.5" y2="1263" stroke="#555" stroke-width="0.9"/>
<line x1="158.5" y1="1259.5" x2="158.5" y2="1263" stroke="#555" stroke-width="0.9"/>
<line x1="204.5" y1="1259.5" x2="204.5" y2="1263" stroke="#555" stroke-width="0.9"/>
<line x1="243.5" y1="1259.5" x2="243.5" y2="1263" stroke="#555" stroke-width="0.9"/>
<line x1="101.5" y1="1259.5" x2="101.5" y2="1261.5" stroke="#777" stroke-width="0.6"/>
<line x1="106.5" y1="1259.5" x2="106.5" y2="1261.5" stroke="#777" stroke-width="0.6"/>
<line x1="110.5" y1="1259.5" x2="110.5" y2="1261.5" stroke="#777" stroke-width="0.6"/>
<line x1="112.5" y1="1259.5" x2="112.5" y2="1261.5" stroke="#777" stroke-width="0.6"/>
<line x1="115.5" y1="1259.5" x2="115.5" y2="1261.5" stroke="#777" stroke-width="0.6"/>
<line x1="117.5" y1="1259.5" x2="117.5" y2="1261.5" stroke="#777" stroke-width="0.6"/>
<line x1="119.5" y1="1259.5" x2="119.5" y2="1261.5" stroke="#777" stroke-width="0.6"/>
<line x1="120.5" y1="1259.5" x2="120.5" y2="1261.5" stroke="#777" stroke-width="0.6"/>
<line x1="137.5" y1="1259.5" x2="137.5" y2="1261.5" stroke="#777" stroke-width="0.6"/>
<line x1="142.5" y1="1259.5" x2="142.5" y2="1261.5" stroke="#777" stroke-width="0.6"/>
<line x1="146.5" y1="1259.5" x2="146.5" y2="1261.5" stroke="#777" stroke-width="0.6"/>
<line x1="149.5" y1="1259.5" x2="149.5" y2="1261.5" stroke="#777" stroke-width="0.6"/>
<line x1="152.5" y1="1259.5" x2="152.5" y2="1261.5" stroke="#777" stroke-width="0.6"/>
<line x1="154.5" y1="1259.5" x2="154.5" y2="1261.5" stroke="#777" stroke-width="0.6"/>
<line x1="155.5" y1="1259.5" x2="155.5" y2="1261.5" stroke="#777" stroke-width="0.6"/>
<line x1="157.5" y1="1259.5" x2="157.5" y2="1261.5" stroke="#777" stroke-width="0.6"/>
<line x1="172.5" y1="1259.5" x2="172.5" y2="1261.5" stroke="#777" stroke-width="0.6"/>
<line x1="180.5" y1="1259.5" x2="180.5" y2="1261.5" stroke="#777" stroke-width="0.6"/>
<line x1="186.5" y1="1259.5" x2="186.5" y2="1261.5" stroke="#777" stroke-width="0.6"/>
<line x1="190.5" y1="1259.5" x2="190.5" y2="1261.5" stroke="#777" stroke-width="0.6"/>
<line x1="194.5" y1="1259.5" x2="194.5" y2="1261.5" stroke="#777" stroke-width="0.6"/>
<line x1="197.5" y1="1259.5" x2="197.5" y2="1261.5" stroke="#777" stroke-width="0.6"/>
<line x1="199.5" y1="1259.5" x2="199.5" y2="1261.5" stroke="#777" stroke-width="0.6"/>
<line x1="202.5" y1="1259.5" x2="202.5" y2="1261.5" stroke="#777" stroke-width="0.6"/>
<line x1="216.5" y1="1259.5" x2="216.5" y2="1261.5" stroke="#777" stroke-width="0.6"/>
<line x1="223.5" y1="1259.5" x2="223.5" y2="1261.5" stroke="#777" stroke-width="0.6"/>
<line x1="228.5" y1="1259.5" x2="228.5" y2="1261.5" stroke="#777" stroke-width="0.6"/>
<line x1="231.5" y1="1259.5" x2="231.5" y2="1261.5" stroke="#777" stroke-width="0.6"/>
<line x1="235.5" y1="1259.5" x2="235.5" y2="1261.5" stroke="#777" stroke-width="0.6"/>
<line x1="237.5" y1="1259.5" x2="237.5" y2="1261.5" stroke="#777" stroke-width="0.6"/>
<line x1="240.5" y1="1259.5" x2="240.5" y2="1261.5" stroke="#777" stroke-width="0.6"/>
<line x1="242.5" y1="1259.5" x2="242.5" y2="1261.5" stroke="#777" stroke-width="0.6"/>
<line x1="249.5" y1="1259.5" x2="249.5" y2="1261.5" stroke="#777" stroke-width="0.6"/>
<line x1="252.5" y1="1259.5" x2="252.5" y2="1261.5" stroke="#777" stroke-width="0.6"/>
<line x1="254.5" y1="1259.5" x2="254.5" y2="1261.5" stroke="#777" stroke-width="0.6"/>
<line x1="255.5" y1="1259.5" x2="255.5" y2="1261.5" stroke="#777" stroke-width="0.6"/>
<line x1="257.5" y1="1259.5" x2="257.5" y2="1261.5" stroke="#777" stroke-width="0.6"/>
<line x1="258.5" y1="1259.5" x2="258.5" y2="1261.5" stroke="#777" stroke-width="0.6"/>
<line x1="259.5" y1="1259.5" x2="259.5" y2="1261.5" stroke="#777" stroke-width="0.6"/>
<line x1="260.5" y1="1259.5" x2="260.5" y2="1261.5" stroke="#777" stroke-width="0.6"/>
<rect x="120" y="1260.5" width="10" height="2" fill="#333" stroke="none"/>
<text text-anchor="middle" stroke="#000" font-size="20" x="125.1" y="1281.5">0</text>
<text stroke="#000" font-size="20" x="150" y="1281.5">10<tspan dy="-7" font-size="13">3</tspan></text>
<text stroke="#000" font-size="20" x="192" y="1281.5">10<tspan dy="-7" font-size="13">4</tspan></text>
<text stroke="#000" font-size="20" x="230.6" y="1281.5">10<tspan dy="-7" font-size="13">5</tspan></text>
<text text-anchor="middle" stroke="#000" x="168.3" y="1306.5">ABCA1- APC</text>
<rect x="102.5" y="1355.5" width="19" height="18" fill="#22e6f2" stroke="#3a7a8a"/>
<rect x="102.5" y="1387.5" width="19" height="18" fill="#fb7c7c" stroke="#a04a4a"/>
<text font-style="italic" stroke="#000" x="132.4" y="1370.5">isotype</text>
<text stroke="#000" x="132.4" y="1402.9">staining</text>
<text font-weight="bold" stroke="#000" font-size="32" x="293.5" y="1056">g</text>
<text text-anchor="middle" stroke="#000" x="366.6" y="1129.7">iMac</text>
<text text-anchor="middle" stroke="#000" x="467.2" y="1128.6">iMac</text>
<text text-anchor="middle" stroke="#000" x="467.9" y="1154">+probucol</text>
<circle cx="354.31" cy="1180.67" r="12.7" fill="#1fa64b" stroke="#6f8a76" stroke-width="1.5"/>
<circle cx="378.14" cy="1184.42" r="12.7" fill="#1fa64b" stroke="#6f8a76" stroke-width="1.5"/>
<circle cx="354.97" cy="1215.98" r="12.7" fill="#1fa64b" stroke="#6f8a76" stroke-width="1.5"/>
<circle cx="379.69" cy="1210.91" r="12.7" fill="#1fa64b" stroke="#6f8a76" stroke-width="1.5"/>
<circle cx="355.41" cy="1177.36" r="3.1" fill="#e01818" stroke="none"/>
<circle cx="386.53" cy="1188.84" r="3.1" fill="#e01818" stroke="none"/>
<circle cx="353.2" cy="1210.24" r="3.1" fill="#e01818" stroke="none"/>
<circle cx="354.97" cy="1221.28" r="3.1" fill="#e01818" stroke="none"/>
<circle cx="381.45" cy="1218.63" r="3.1" fill="#e01818" stroke="none"/>
<circle cx="460.24" cy="1180.67" r="12.7" fill="#1fa64b" stroke="#6f8a76" stroke-width="1.5"/>
<circle cx="484.08" cy="1184.42" r="12.7" fill="#1fa64b" stroke="#6f8a76" stroke-width="1.5"/>
<circle cx="460.91" cy="1215.98" r="12.7" fill="#1fa64b" stroke="#6f8a76" stroke-width="1.5"/>
<circle cx="485.63" cy="1210.91" r="12.7" fill="#1fa64b" stroke="#6f8a76" stroke-width="1.5"/>
<circle cx="461.35" cy="1177.36" r="3.1" fill="#e01818" stroke="none"/>
<circle cx="472.38" cy="1179.35" r="3.1" fill="#e01818" stroke="none"/>
<circle cx="485.63" cy="1180.45" r="3.1" fill="#e01818" stroke="none"/>
<circle cx="466.42" cy="1188.84" r="3.1" fill="#e01818" stroke="none"/>
<circle cx="492.47" cy="1188.84" r="3.1" fill="#e01818" stroke="none"/>
<circle cx="459.14" cy="1210.24" r="3.1" fill="#e01818" stroke="none"/>
<circle cx="469.29" cy="1213.56" r="3.1" fill="#e01818" stroke="none"/>
<circle cx="460.24" cy="1220.4" r="3.1" fill="#e01818" stroke="none"/>
<circle cx="469.07" cy="1226.36" r="3.1" fill="#e01818" stroke="none"/>
<circle cx="486.29" cy="1209.36" r="3.1" fill="#e01818" stroke="none"/>
<circle cx="487.39" cy="1218.19" r="3.1" fill="#e01818" stroke="none"/>
<circle cx="495.12" cy="1215.32" r="3.1" fill="#e01818" stroke="none"/>
<line x1="370.9" y1="1232.3" x2="370.9" y2="1257.3" stroke="#1fa64b" stroke-width="2"/>
<polygon points="363.1,1238.8 370.9,1263.3 378.7,1238.8 370.9,1247.8" fill="#1fa64b" stroke="none"/>
<line x1="475.7" y1="1232.3" x2="475.7" y2="1257.3" stroke="#4e8a2e" stroke-width="2"/>
<polygon points="467.9,1238.8 475.7,1263.3 483.5,1238.8 475.7,1247.8" fill="#4e8a2e" stroke="none"/>
<rect x="304.7" y="1257.3" width="241.8" height="105.9" fill="#fff" stroke="#222" stroke-width="1.4"/>
<line x1="370.9" y1="1232.3" x2="370.9" y2="1257.3" stroke="#1fa64b" stroke-width="2"/>
<polygon points="363.1,1238.8 370.9,1263.3 378.7,1238.8 370.9,1247.8" fill="#1fa64b" stroke="none"/>
<line x1="475.7" y1="1232.3" x2="475.7" y2="1257.3" stroke="#4e8a2e" stroke-width="2"/>
<polygon points="467.9,1238.8 475.7,1263.3 483.5,1238.8 475.7,1247.8" fill="#4e8a2e" stroke="none"/>
<text text-anchor="middle" stroke="#000" x="425" y="1291.5">Lipidomic analysis</text>
<text text-anchor="middle" stroke="#000" x="424.8" y="1316.2">of  culture medium</text>
<text text-anchor="middle" stroke="#000" x="425.2" y="1341.1">(cM)</text>
<rect x="287.5" y="1459.5" width="23" height="21" fill="#7f7f7f" stroke="#333" stroke-width="1.1"/>
<text stroke="#000" x="321" y="1480.2">control medium</text>
<rect x="287.5" y="1488.5" width="23" height="21" fill="#92d050" stroke="#333" stroke-width="1.1"/>
<text stroke="#000" x="321" y="1505.8">iMac day 0 cM</text>
<rect x="287.5" y="1515.5" width="23" height="21" fill="#ed7d31" stroke="#333" stroke-width="1.1"/>
<text stroke="#000" x="321" y="1533.7">iMac day18 cM</text>
<rect x="287.5" y="1545.5" width="23" height="21" fill="#f8cbad" stroke="#333" stroke-width="1.1"/>
<text stroke="#000" x="321" y="1561.2">iMac day 18 + probucol cM</text>
<rect x="559" y="1053.2" width="242" height="225.3" fill="none" stroke="#000" stroke-width="2"/>
<text text-anchor="middle" stroke="#000" x="703.4" y="1077.7">cholesterol</text>
<line x1="621.5" y1="1137.9" x2="621.5" y2="1256.4" stroke="#111" stroke-width="1.2"/>
<line x1="612.8" y1="1256.5" x2="784" y2="1256.5" stroke="#111" stroke-width="1.2"/>
<line x1="612.8" y1="1155.5" x2="621.5" y2="1155.5" stroke="#111" stroke-width="1.2"/>
<line x1="612.8" y1="1188.5" x2="621.5" y2="1188.5" stroke="#111" stroke-width="1.2"/>
<text text-anchor="end" stroke="#000" x="608.3" y="1196.2">2</text>
<line x1="612.8" y1="1222.5" x2="621.5" y2="1222.5" stroke="#111" stroke-width="1.2"/>
<line x1="612.8" y1="1256.5" x2="621.5" y2="1256.5" stroke="#111" stroke-width="1.2"/>
<text text-anchor="end" stroke="#000" x="608.3" y="1263.7">0</text>
<rect x="634.5" y="1216.5" width="24" height="40" fill="#98f598" stroke="#0a2a0a"/>
<rect x="671.5" y="1159.5" width="25" height="97" fill="#ff8000" stroke="#3a1a00"/>
<rect x="708.5" y="1173.5" width="25" height="83" fill="#ffc080" stroke="#b58252"/>
<rect x="746.5" y="1248.5" width="24" height="8" fill="#808080" stroke="#4a4a4a"/>
<line x1="646.5" y1="1256.4" x2="646.5" y2="1264.7" stroke="#111" stroke-width="1.2"/>
<line x1="683.5" y1="1256.4" x2="683.5" y2="1264.7" stroke="#111" stroke-width="1.2"/>
<line x1="721.5" y1="1256.4" x2="721.5" y2="1264.7" stroke="#111" stroke-width="1.2"/>
<line x1="758.5" y1="1256.4" x2="758.5" y2="1264.7" stroke="#111" stroke-width="1.2"/>
<line x1="645.4" y1="1127.5" x2="761.2" y2="1127.5" stroke="#222"/>
<line x1="645.4" y1="1134.5" x2="716" y2="1134.5" stroke="#222"/>
<line x1="690.6" y1="1139.5" x2="761.2" y2="1139.5" stroke="#222"/>
<line x1="645.4" y1="1144.5" x2="685.6" y2="1144.5" stroke="#222"/>
<line x1="723.6" y1="1144.5" x2="763.9" y2="1144.5" stroke="#222"/>
<text text-anchor="middle" stroke="#000" font-size="24.3" x="0" y="16.72" transform="translate(711 1117) scale(1 0.82)" style="stroke-width:.3px">****</text>
<text text-anchor="middle" stroke="#000" transform="translate(589.5 1195.6) rotate(-90)">µM</text>
<circle cx="636.22" cy="1207.34" r="2.4" fill="none" stroke="#000" stroke-width="1.2" stroke-opacity=".7"/>
<circle cx="646.59" cy="1210.68" r="2.4" fill="none" stroke="#000" stroke-width="1.2" stroke-opacity=".7"/>
<circle cx="657.14" cy="1210.18" r="2.4" fill="none" stroke="#000" stroke-width="1.2" stroke-opacity=".7"/>
<circle cx="646.59" cy="1219.55" r="2.4" fill="none" stroke="#000" stroke-width="1.2" stroke-opacity=".7"/>
<circle cx="641.24" cy="1224.57" r="2.4" fill="none" stroke="#000" stroke-width="1.2" stroke-opacity=".7"/>
<circle cx="651.78" cy="1224.07" r="2.4" fill="none" stroke="#000" stroke-width="1.2" stroke-opacity=".7"/>
<circle cx="683.91" cy="1150.94" r="2.4" fill="none" stroke="#000" stroke-width="1.2" stroke-opacity=".7"/>
<circle cx="679.73" cy="1164.67" r="2.4" fill="none" stroke="#000" stroke-width="1.2" stroke-opacity=".7"/>
<circle cx="688.09" cy="1164.33" r="2.4" fill="none" stroke="#000" stroke-width="1.2" stroke-opacity=".7"/>
<circle cx="710.68" cy="1175.04" r="2.4" fill="none" stroke="#000" stroke-width="1.2" stroke-opacity=".7"/>
<circle cx="721.22" cy="1170.86" r="2.4" fill="none" stroke="#000" stroke-width="1.2" stroke-opacity=".7"/>
<circle cx="731.6" cy="1173.87" r="2.4" fill="none" stroke="#000" stroke-width="1.2" stroke-opacity=".7"/>
<circle cx="748.33" cy="1249.17" r="2.4" fill="none" stroke="#000" stroke-width="1.2" stroke-opacity=".7"/>
<circle cx="758.37" cy="1247.5" r="2.4" fill="none" stroke="#000" stroke-width="1.2" stroke-opacity=".7"/>
<circle cx="768.92" cy="1247.5" r="2.4" fill="none" stroke="#000" stroke-width="1.2" stroke-opacity=".7"/>
<text text-anchor="middle" stroke="#000" x="938.1" y="1079.3">phosphatidylinositol</text>
<line x1="859.5" y1="1135.4" x2="859.5" y2="1253.4" stroke="#111" stroke-width="1.2"/>
<line x1="851" y1="1253.5" x2="1021.7" y2="1253.5" stroke="#111" stroke-width="1.2"/>
<line x1="851" y1="1135.5" x2="859.4" y2="1135.5" stroke="#111" stroke-width="1.2"/>
<line x1="851" y1="1174.5" x2="859.4" y2="1174.5" stroke="#111" stroke-width="1.2"/>
<text text-anchor="end" stroke="#000" x="844.3" y="1181.5">1</text>
<line x1="851" y1="1214.5" x2="859.4" y2="1214.5" stroke="#111" stroke-width="1.2"/>
<line x1="851" y1="1253.5" x2="859.4" y2="1253.5" stroke="#111" stroke-width="1.2"/>
<text text-anchor="end" stroke="#000" x="844.3" y="1260.7">0</text>
<rect x="871.5" y="1202.5" width="25" height="51" fill="#98f598" stroke="#0a2a0a"/>
<rect x="909.5" y="1163.5" width="24" height="90" fill="#ff8000" stroke="#3a1a00"/>
<rect x="946.5" y="1182.5" width="25" height="71" fill="#ffc080" stroke="#b58252"/>
<rect x="983.5" y="1235.5" width="25" height="18" fill="#808080" stroke="#4a4a4a"/>
<line x1="884.5" y1="1253.4" x2="884.5" y2="1261.7" stroke="#111" stroke-width="1.2"/>
<line x1="921.5" y1="1253.4" x2="921.5" y2="1261.7" stroke="#111" stroke-width="1.2"/>
<line x1="958.5" y1="1253.4" x2="958.5" y2="1261.7" stroke="#111" stroke-width="1.2"/>
<line x1="996.5" y1="1253.4" x2="996.5" y2="1261.7" stroke="#111" stroke-width="1.2"/>
<line x1="883.2" y1="1113.5" x2="999.6" y2="1113.5" stroke="#222"/>
<line x1="883.2" y1="1120.5" x2="954" y2="1120.5" stroke="#222"/>
<line x1="928" y1="1125.5" x2="999.6" y2="1125.5" stroke="#222"/>
<line x1="883.2" y1="1130.5" x2="923.8" y2="1130.5" stroke="#222"/>
<line x1="962.3" y1="1131.5" x2="1003" y2="1131.5" stroke="#222"/>
<line x1="922.2" y1="1150.5" x2="962.7" y2="1150.5" stroke="#c8742c"/>
<text text-anchor="middle" stroke="#000" font-size="24.3" x="0" y="16.72" transform="translate(951.4 1105.3) scale(1 0.82)" style="stroke-width:.3px">****</text>
<text text-anchor="middle" fill="#c8742c" stroke="#c8742c" font-size="24.3" x="0" y="16.72" transform="translate(945.3 1140.8) scale(1 0.82)" style="stroke-width:.15px">***</text>
<text text-anchor="middle" stroke="#000" transform="translate(827 1199) rotate(-90)">µM</text>
<circle cx="873.63" cy="1197.3" r="2.4" fill="none" stroke="#000" stroke-width="1.2" stroke-opacity=".7"/>
<circle cx="894.54" cy="1195.96" r="2.4" fill="none" stroke="#000" stroke-width="1.2" stroke-opacity=".7"/>
<circle cx="894.54" cy="1201.48" r="2.4" fill="none" stroke="#000" stroke-width="1.2" stroke-opacity=".7"/>
<circle cx="873.63" cy="1207" r="2.4" fill="none" stroke="#000" stroke-width="1.2" stroke-opacity=".7"/>
<circle cx="884.17" cy="1205.66" r="2.4" fill="none" stroke="#000" stroke-width="1.2" stroke-opacity=".7"/>
<circle cx="894.21" cy="1206.5" r="2.4" fill="none" stroke="#000" stroke-width="1.2" stroke-opacity=".7"/>
<circle cx="911.61" cy="1165.84" r="2.4" fill="none" stroke="#000" stroke-width="1.2" stroke-opacity=".7"/>
<circle cx="921.65" cy="1161.82" r="2.4" fill="none" stroke="#000" stroke-width="1.2" stroke-opacity=".7"/>
<circle cx="931.86" cy="1163.49" r="2.4" fill="none" stroke="#000" stroke-width="1.2" stroke-opacity=".7"/>
<circle cx="948.43" cy="1183.57" r="2.4" fill="none" stroke="#000" stroke-width="1.2" stroke-opacity=".7"/>
<circle cx="958.97" cy="1179.22" r="2.4" fill="none" stroke="#000" stroke-width="1.2" stroke-opacity=".7"/>
<circle cx="969.34" cy="1183.07" r="2.4" fill="none" stroke="#000" stroke-width="1.2" stroke-opacity=".7"/>
<circle cx="985.74" cy="1236.95" r="2.4" fill="none" stroke="#000" stroke-width="1.2" stroke-opacity=".7"/>
<circle cx="996.12" cy="1235.28" r="2.4" fill="none" stroke="#000" stroke-width="1.2" stroke-opacity=".7"/>
<circle cx="1006.33" cy="1235.28" r="2.4" fill="none" stroke="#000" stroke-width="1.2" stroke-opacity=".7"/>
<text text-anchor="middle" stroke="#000" x="1166.9" y="1079.3">diacyglycerol</text>
<line x1="1085.5" y1="1137.1" x2="1085.5" y2="1255" stroke="#111" stroke-width="1.2"/>
<line x1="1081.1" y1="1255.5" x2="1247.6" y2="1255.5" stroke="#111" stroke-width="1.2"/>
<line x1="1081.1" y1="1137.5" x2="1085.8" y2="1137.5" stroke="#111" stroke-width="1.2"/>
<text text-anchor="end" stroke="#000" x="1075.3" y="1144.4">2</text>
<line x1="1082.1" y1="1166.5" x2="1085.8" y2="1166.5" stroke="#111" stroke-width="1.2"/>
<line x1="1081.1" y1="1196.5" x2="1085.8" y2="1196.5" stroke="#111" stroke-width="1.2"/>
<text text-anchor="end" stroke="#000" x="1075.3" y="1203.8">1</text>
<line x1="1082.1" y1="1225.5" x2="1085.8" y2="1225.5" stroke="#111" stroke-width="1.2"/>
<line x1="1081.1" y1="1255.5" x2="1085.8" y2="1255.5" stroke="#111" stroke-width="1.2"/>
<text text-anchor="end" stroke="#000" x="1075.3" y="1262.3">0</text>
<rect x="1098.5" y="1220.5" width="25" height="35" fill="#98f598" stroke="#0a2a0a"/>
<rect x="1135.5" y="1181.5" width="25" height="74" fill="#ff8000" stroke="#3a1a00"/>
<rect x="1173.5" y="1173.5" width="24" height="82" fill="#ffc080" stroke="#b58252"/>
<rect x="1210.5" y="1241.5" width="25" height="14" fill="#808080" stroke="#4a4a4a"/>
<line x1="1110.5" y1="1255" x2="1110.5" y2="1258.9" stroke="#111" stroke-width="1.2"/>
<line x1="1148.5" y1="1255" x2="1148.5" y2="1258.9" stroke="#111" stroke-width="1.2"/>
<line x1="1185.5" y1="1255" x2="1185.5" y2="1258.9" stroke="#111" stroke-width="1.2"/>
<line x1="1222.5" y1="1255" x2="1222.5" y2="1258.9" stroke="#111" stroke-width="1.2"/>
<line x1="1106.2" y1="1103.5" x2="1222.5" y2="1103.5" stroke="#222"/>
<line x1="1156.4" y1="1122.5" x2="1227" y2="1122.5" stroke="#222"/>
<line x1="1187.4" y1="1129.5" x2="1227.5" y2="1129.5" stroke="#222"/>
<line x1="1108.7" y1="1144.5" x2="1179" y2="1144.5" stroke="#222"/>
<line x1="1108.7" y1="1151.5" x2="1148.6" y2="1151.5" stroke="#222"/>
<text text-anchor="middle" stroke="#000" font-size="24.3" x="0" y="16.72" transform="translate(1167.3 1096.1) scale(1 0.82)" style="stroke-width:.3px">*</text>
<text text-anchor="middle" stroke="#000" font-size="24.3" x="0" y="16.72" transform="translate(1194.9 1113.2) scale(1 0.82)" style="stroke-width:.3px">****</text>
<text text-anchor="middle" stroke="#000" font-size="24.3" x="0" y="16.72" transform="translate(1145 1134.9) scale(1 0.82)" style="stroke-width:.3px">***</text>
<text text-anchor="middle" stroke="#000" transform="translate(1047.2 1194) rotate(-90)">µM (x10<tspan dy="-7" font-size="13.5">-2</tspan><tspan dy="7">)</tspan></text>
<circle cx="1110.74" cy="1204.83" r="2.4" fill="none" stroke="#000" stroke-width="1.2" stroke-opacity=".7"/>
<circle cx="1110.74" cy="1213.19" r="2.4" fill="none" stroke="#000" stroke-width="1.2" stroke-opacity=".7"/>
<circle cx="1106.55" cy="1223.23" r="2.4" fill="none" stroke="#000" stroke-width="1.2" stroke-opacity=".7"/>
<circle cx="1115.42" cy="1223.23" r="2.4" fill="none" stroke="#000" stroke-width="1.2" stroke-opacity=".7"/>
<circle cx="1115.42" cy="1228.59" r="2.4" fill="none" stroke="#000" stroke-width="1.2" stroke-opacity=".7"/>
<circle cx="1106.55" cy="1231.27" r="2.4" fill="none" stroke="#000" stroke-width="1.2" stroke-opacity=".7"/>
<circle cx="1138.01" cy="1181.73" r="2.4" fill="none" stroke="#000" stroke-width="1.2" stroke-opacity=".7"/>
<circle cx="1148.05" cy="1181.06" r="2.4" fill="none" stroke="#000" stroke-width="1.2" stroke-opacity=".7"/>
<circle cx="1158.43" cy="1181.06" r="2.4" fill="none" stroke="#000" stroke-width="1.2" stroke-opacity=".7"/>
<circle cx="1185.37" cy="1155.8" r="2.4" fill="none" stroke="#000" stroke-width="1.2" stroke-opacity=".7"/>
<circle cx="1185.37" cy="1176.04" r="2.4" fill="none" stroke="#000" stroke-width="1.2" stroke-opacity=".7"/>
<circle cx="1185.37" cy="1187.26" r="2.4" fill="none" stroke="#000" stroke-width="1.2" stroke-opacity=".7"/>
<circle cx="1222.85" cy="1236.12" r="2.4" fill="none" stroke="#000" stroke-width="1.2" stroke-opacity=".7"/>
<circle cx="1218.67" cy="1244.65" r="2.4" fill="none" stroke="#000" stroke-width="1.2" stroke-opacity=".7"/>
<circle cx="1227.03" cy="1243.31" r="2.4" fill="none" stroke="#000" stroke-width="1.2" stroke-opacity=".7"/>
<text text-anchor="middle" stroke="#000" x="688.1" y="1311.3">phosphatidylglycerol</text>
<line x1="622.5" y1="1377.1" x2="622.5" y2="1495" stroke="#111" stroke-width="1.2"/>
<line x1="617" y1="1495.5" x2="785.6" y2="1495.5" stroke="#111" stroke-width="1.2"/>
<line x1="617.8" y1="1377.5" x2="622.8" y2="1377.5" stroke="#111" stroke-width="1.2"/>
<text text-anchor="end" stroke="#000" x="613.6" y="1384.4">4</text>
<line x1="618.8" y1="1407.5" x2="622.8" y2="1407.5" stroke="#111" stroke-width="1.2"/>
<line x1="617.8" y1="1436.5" x2="622.8" y2="1436.5" stroke="#111" stroke-width="1.2"/>
<text text-anchor="end" stroke="#000" x="613.6" y="1443.8">2</text>
<line x1="618.8" y1="1466.5" x2="622.8" y2="1466.5" stroke="#111" stroke-width="1.2"/>
<line x1="617.8" y1="1495.5" x2="622.8" y2="1495.5" stroke="#111" stroke-width="1.2"/>
<text text-anchor="end" stroke="#000" x="613.6" y="1502.3">0</text>
<rect x="635.5" y="1439.5" width="24" height="56" fill="#98f598" stroke="#0a2a0a"/>
<rect x="672.5" y="1390.5" width="25" height="105" fill="#ff8000" stroke="#3a1a00"/>
<rect x="709.5" y="1409.5" width="25" height="86" fill="#ffc080" stroke="#b58252"/>
<rect x="747.5" y="1466.5" width="24" height="29" fill="#808080" stroke="#4a4a4a"/>
<line x1="647.5" y1="1495" x2="647.5" y2="1502.9" stroke="#111" stroke-width="1.2"/>
<line x1="684.5" y1="1495" x2="684.5" y2="1502.9" stroke="#111" stroke-width="1.2"/>
<line x1="722.5" y1="1495" x2="722.5" y2="1502.9" stroke="#111" stroke-width="1.2"/>
<line x1="759.5" y1="1495" x2="759.5" y2="1502.9" stroke="#111" stroke-width="1.2"/>
<line x1="646.6" y1="1341.5" x2="762.6" y2="1341.5" stroke="#222"/>
<line x1="646.6" y1="1348.5" x2="717" y2="1348.5" stroke="#222"/>
<line x1="691.4" y1="1353.5" x2="762.2" y2="1353.5" stroke="#222"/>
<line x1="646.6" y1="1358.5" x2="686.9" y2="1358.5" stroke="#222"/>
<line x1="724.6" y1="1359.5" x2="764.7" y2="1359.5" stroke="#222"/>
<line x1="685.6" y1="1382.5" x2="725.7" y2="1382.5" stroke="#c8742c"/>
<text text-anchor="middle" stroke="#000" font-size="24.3" x="0" y="16.72" transform="translate(715.2 1331.6) scale(1 0.82)" style="stroke-width:.3px">****</text>
<text text-anchor="middle" fill="#c8742c" stroke="#c8742c" font-size="24.3" x="0" y="16.72" transform="translate(707 1369.6) scale(1 0.82)" style="stroke-width:.15px">**</text>
<text text-anchor="middle" stroke="#000" transform="translate(586.5 1435.6) rotate(-90)">µM (x10<tspan dy="-7" font-size="13.5">-3</tspan><tspan dy="7">)</tspan></text>
<circle cx="637.05" cy="1435.62" r="2.4" fill="none" stroke="#000" stroke-width="1.2" stroke-opacity=".7"/>
<circle cx="647.6" cy="1438.13" r="2.4" fill="none" stroke="#000" stroke-width="1.2" stroke-opacity=".7"/>
<circle cx="657.97" cy="1431.94" r="2.4" fill="none" stroke="#000" stroke-width="1.2" stroke-opacity=".7"/>
<circle cx="657.97" cy="1437.3" r="2.4" fill="none" stroke="#000" stroke-width="1.2" stroke-opacity=".7"/>
<circle cx="647.6" cy="1443.65" r="2.4" fill="none" stroke="#000" stroke-width="1.2" stroke-opacity=".7"/>
<circle cx="647.6" cy="1450.35" r="2.4" fill="none" stroke="#000" stroke-width="1.2" stroke-opacity=".7"/>
<circle cx="674.71" cy="1392.12" r="2.4" fill="none" stroke="#000" stroke-width="1.2" stroke-opacity=".7"/>
<circle cx="685.08" cy="1389.61" r="2.4" fill="none" stroke="#000" stroke-width="1.2" stroke-opacity=".7"/>
<circle cx="695.29" cy="1390.44" r="2.4" fill="none" stroke="#000" stroke-width="1.2" stroke-opacity=".7"/>
<circle cx="718.21" cy="1405.17" r="2.4" fill="none" stroke="#000" stroke-width="1.2" stroke-opacity=".7"/>
<circle cx="726.58" cy="1409.18" r="2.4" fill="none" stroke="#000" stroke-width="1.2" stroke-opacity=".7"/>
<circle cx="718.21" cy="1412.7" r="2.4" fill="none" stroke="#000" stroke-width="1.2" stroke-opacity=".7"/>
<circle cx="755.86" cy="1463.23" r="2.4" fill="none" stroke="#000" stroke-width="1.2" stroke-opacity=".7"/>
<circle cx="764.23" cy="1464.57" r="2.4" fill="none" stroke="#000" stroke-width="1.2" stroke-opacity=".7"/>
<circle cx="759.71" cy="1472.77" r="2.4" fill="none" stroke="#000" stroke-width="1.2" stroke-opacity=".7"/>
<text text-anchor="middle" stroke="#000" x="925.5" y="1311.3">phosphatidyl-</text>
<text text-anchor="middle" stroke="#000" x="925.9" y="1336.4">ethanolamine</text>
<line x1="859.5" y1="1377.1" x2="859.5" y2="1495.4" stroke="#111" stroke-width="1.2"/>
<line x1="851.9" y1="1495.5" x2="1022" y2="1495.5" stroke="#111" stroke-width="1.2"/>
<line x1="851.9" y1="1377.5" x2="859.9" y2="1377.5" stroke="#111" stroke-width="1.2"/>
<text text-anchor="end" stroke="#000" x="849.4" y="1384.4">8</text>
<line x1="851.9" y1="1407.5" x2="859.9" y2="1407.5" stroke="#111" stroke-width="1.2"/>
<line x1="851.9" y1="1436.5" x2="859.9" y2="1436.5" stroke="#111" stroke-width="1.2"/>
<text text-anchor="end" stroke="#000" x="849.4" y="1443.8">4</text>
<line x1="851.9" y1="1466.5" x2="859.9" y2="1466.5" stroke="#111" stroke-width="1.2"/>
<line x1="851.9" y1="1495.5" x2="859.9" y2="1495.5" stroke="#111" stroke-width="1.2"/>
<text text-anchor="end" stroke="#000" x="849.4" y="1502.7">0</text>
<rect x="872.5" y="1460.5" width="25" height="35" fill="#98f598" stroke="#0a2a0a"/>
<rect x="909.5" y="1411.5" width="25" height="84" fill="#ff8000" stroke="#3a1a00"/>
<rect x="946.5" y="1427.5" width="25" height="68" fill="#ffc080" stroke="#b58252"/>
<rect x="984.5" y="1489.5" width="25" height="6" fill="#808080" stroke="#4a4a4a"/>
<line x1="884.5" y1="1495.4" x2="884.5" y2="1502.5" stroke="#111" stroke-width="1.2"/>
<line x1="921.5" y1="1495.4" x2="921.5" y2="1502.5" stroke="#111" stroke-width="1.2"/>
<line x1="959.5" y1="1495.4" x2="959.5" y2="1502.5" stroke="#111" stroke-width="1.2"/>
<line x1="996.5" y1="1495.4" x2="996.5" y2="1502.5" stroke="#111" stroke-width="1.2"/>
<line x1="879.5" y1="1362.5" x2="995.4" y2="1362.5" stroke="#222"/>
<line x1="879.5" y1="1369.5" x2="950.1" y2="1369.5" stroke="#222"/>
<line x1="924.7" y1="1374.5" x2="995.4" y2="1374.5" stroke="#222"/>
<line x1="880.3" y1="1379.5" x2="920.5" y2="1379.5" stroke="#222"/>
<line x1="957.6" y1="1380.5" x2="998.3" y2="1380.5" stroke="#222"/>
<line x1="919.6" y1="1399.5" x2="959.8" y2="1399.5" stroke="#c8742c"/>
<text text-anchor="middle" stroke="#000" font-size="24.3" x="0" y="16.72" transform="translate(943.1 1350.9) scale(1 0.82)" style="stroke-width:.3px">****</text>
<text text-anchor="middle" fill="#c8742c" stroke="#c8742c" font-size="24.3" x="0" y="16.72" transform="translate(941.1 1388.5) scale(1 0.82)" style="stroke-width:.15px">***</text>
<text text-anchor="middle" stroke="#000" transform="translate(826.7 1439) rotate(-90)">µM (x10<tspan dy="-7" font-size="13.5">-2</tspan><tspan dy="7">)</tspan></text>
<circle cx="874.46" cy="1464.91" r="2.4" fill="none" stroke="#000" stroke-width="1.2" stroke-opacity=".7"/>
<circle cx="884.5" cy="1457.38" r="2.4" fill="none" stroke="#000" stroke-width="1.2" stroke-opacity=".7"/>
<circle cx="884.5" cy="1462.9" r="2.4" fill="none" stroke="#000" stroke-width="1.2" stroke-opacity=".7"/>
<circle cx="894.88" cy="1454.03" r="2.4" fill="none" stroke="#000" stroke-width="1.2" stroke-opacity=".7"/>
<circle cx="894.88" cy="1459.05" r="2.4" fill="none" stroke="#000" stroke-width="1.2" stroke-opacity=".7"/>
<circle cx="894.88" cy="1464.57" r="2.4" fill="none" stroke="#000" stroke-width="1.2" stroke-opacity=".7"/>
<circle cx="911.61" cy="1413.87" r="2.4" fill="none" stroke="#000" stroke-width="1.2" stroke-opacity=".7"/>
<circle cx="921.82" cy="1409.18" r="2.4" fill="none" stroke="#000" stroke-width="1.2" stroke-opacity=".7"/>
<circle cx="932.2" cy="1411.69" r="2.4" fill="none" stroke="#000" stroke-width="1.2" stroke-opacity=".7"/>
<circle cx="955.12" cy="1430.6" r="2.4" fill="none" stroke="#000" stroke-width="1.2" stroke-opacity=".7"/>
<circle cx="959.47" cy="1423.91" r="2.4" fill="none" stroke="#000" stroke-width="1.2" stroke-opacity=".7"/>
<circle cx="963.99" cy="1428.43" r="2.4" fill="none" stroke="#000" stroke-width="1.2" stroke-opacity=".7"/>
<circle cx="986.58" cy="1490.01" r="2.4" fill="none" stroke="#000" stroke-width="1.2" stroke-opacity=".7"/>
<circle cx="996.95" cy="1489.5" r="2.4" fill="none" stroke="#000" stroke-width="1.2" stroke-opacity=".7"/>
<circle cx="1007.16" cy="1489.67" r="2.4" fill="none" stroke="#000" stroke-width="1.2" stroke-opacity=".7"/>
<text text-anchor="middle" stroke="#000" x="1160.9" y="1308.4">triacyglycerol</text>
<line x1="1087.5" y1="1376.2" x2="1087.5" y2="1494.2" stroke="#111" stroke-width="1.2"/>
<line x1="1079.4" y1="1494.5" x2="1249.3" y2="1494.5" stroke="#111" stroke-width="1.2"/>
<line x1="1079.5" y1="1376.5" x2="1087.5" y2="1376.5" stroke="#111" stroke-width="1.2"/>
<line x1="1079.5" y1="1415.5" x2="1087.5" y2="1415.5" stroke="#111" stroke-width="1.2"/>
<text text-anchor="end" stroke="#000" x="1074.4" y="1422.5">1</text>
<line x1="1079.5" y1="1455.5" x2="1087.5" y2="1455.5" stroke="#111" stroke-width="1.2"/>
<line x1="1079.5" y1="1494.5" x2="1087.5" y2="1494.5" stroke="#111" stroke-width="1.2"/>
<text text-anchor="end" stroke="#000" x="1074.4" y="1501.5">0</text>
<rect x="1099.5" y="1466.5" width="25" height="28" fill="#98f598" stroke="#0a2a0a"/>
<rect x="1137.5" y="1442.5" width="24" height="52" fill="#ff8000" stroke="#3a1a00"/>
<rect x="1174.5" y="1415.5" width="25" height="79" fill="#ffc080" stroke="#b58252"/>
<rect x="1211.5" y="1480.5" width="25" height="14" fill="#808080" stroke="#4a4a4a"/>
<line x1="1112.5" y1="1494.2" x2="1112.5" y2="1499.2" stroke="#111" stroke-width="1.2"/>
<line x1="1149.5" y1="1494.2" x2="1149.5" y2="1499.2" stroke="#111" stroke-width="1.2"/>
<line x1="1186.5" y1="1494.2" x2="1186.5" y2="1499.2" stroke="#111" stroke-width="1.2"/>
<line x1="1224.5" y1="1494.2" x2="1224.5" y2="1499.2" stroke="#111" stroke-width="1.2"/>
<line x1="1111.6" y1="1356.5" x2="1182.4" y2="1356.5" stroke="#222"/>
<line x1="1182.4" y1="1353.5" x2="1222.5" y2="1353.5" stroke="#222"/>
<line x1="1149.4" y1="1379.5" x2="1220" y2="1379.5" stroke="#222"/>
<line x1="1147.5" y1="1398.5" x2="1187.4" y2="1398.5" stroke="#c8742c"/>
<line x1="1109.6" y1="1404.5" x2="1149.4" y2="1404.5" stroke="#222"/>
<text text-anchor="middle" stroke="#000" font-size="24.3" x="0" y="16.72" transform="translate(1177.8 1344.5) scale(1 0.82)" style="stroke-width:.3px">****</text>
<text text-anchor="middle" stroke="#000" font-size="24.3" x="0" y="16.72" transform="translate(1186 1371.3) scale(1 0.82)" style="stroke-width:.3px">***</text>
<text text-anchor="middle" fill="#c8742c" stroke="#c8742c" font-size="24.3" x="0" y="16.72" transform="translate(1148.4 1390.5) scale(1 0.82)" style="stroke-width:.15px">**</text>
<text text-anchor="middle" stroke="#000" transform="translate(1056.6 1440.6) rotate(-90)">µM</text>
<circle cx="1102.03" cy="1464.91" r="2.4" fill="none" stroke="#000" stroke-width="1.2" stroke-opacity=".7"/>
<circle cx="1112.41" cy="1456.54" r="2.4" fill="none" stroke="#000" stroke-width="1.2" stroke-opacity=".7"/>
<circle cx="1122.62" cy="1463.73" r="2.4" fill="none" stroke="#000" stroke-width="1.2" stroke-opacity=".7"/>
<circle cx="1122.62" cy="1469.42" r="2.4" fill="none" stroke="#000" stroke-width="1.2" stroke-opacity=".7"/>
<circle cx="1112.41" cy="1469.09" r="2.4" fill="none" stroke="#000" stroke-width="1.2" stroke-opacity=".7"/>
<circle cx="1112.41" cy="1476.12" r="2.4" fill="none" stroke="#000" stroke-width="1.2" stroke-opacity=".7"/>
<circle cx="1139.18" cy="1444.49" r="2.4" fill="none" stroke="#000" stroke-width="1.2" stroke-opacity=".7"/>
<circle cx="1149.73" cy="1441.14" r="2.4" fill="none" stroke="#000" stroke-width="1.2" stroke-opacity=".7"/>
<circle cx="1160.1" cy="1441.48" r="2.4" fill="none" stroke="#000" stroke-width="1.2" stroke-opacity=".7"/>
<circle cx="1186.87" cy="1404.33" r="2.4" fill="none" stroke="#000" stroke-width="1.2" stroke-opacity=".7"/>
<circle cx="1186.87" cy="1417.22" r="2.4" fill="none" stroke="#000" stroke-width="1.2" stroke-opacity=".7"/>
<circle cx="1186.87" cy="1426.75" r="2.4" fill="none" stroke="#000" stroke-width="1.2" stroke-opacity=".7"/>
<circle cx="1224.19" cy="1474.95" r="2.4" fill="none" stroke="#000" stroke-width="1.2" stroke-opacity=".7"/>
<circle cx="1224.19" cy="1479.97" r="2.4" fill="none" stroke="#000" stroke-width="1.2" stroke-opacity=".7"/>
<circle cx="1224.19" cy="1485.49" r="2.4" fill="none" stroke="#000" stroke-width="1.2" stroke-opacity=".7"/>
<text text-anchor="middle" stroke="#000" x="708.8" y="1551.8">phosphatidylcholine</text>
<line x1="621.5" y1="1617.1" x2="621.5" y2="1735.4" stroke="#111" stroke-width="1.2"/>
<line x1="613.6" y1="1735.5" x2="783.5" y2="1735.5" stroke="#111" stroke-width="1.2"/>
<line x1="613.7" y1="1617.5" x2="621.2" y2="1617.5" stroke="#111" stroke-width="1.2"/>
<text text-anchor="end" stroke="#000" x="609.4" y="1624.4">8</text>
<line x1="613.7" y1="1646.5" x2="621.2" y2="1646.5" stroke="#111" stroke-width="1.2"/>
<line x1="613.7" y1="1676.5" x2="621.2" y2="1676.5" stroke="#111" stroke-width="1.2"/>
<text text-anchor="end" stroke="#000" x="609.4" y="1683.8">4</text>
<line x1="613.7" y1="1705.5" x2="621.2" y2="1705.5" stroke="#111" stroke-width="1.2"/>
<line x1="613.7" y1="1735.5" x2="621.2" y2="1735.5" stroke="#111" stroke-width="1.2"/>
<text text-anchor="end" stroke="#000" x="609.4" y="1742.7">0</text>
<rect x="633.5" y="1688.5" width="25" height="47" fill="#98f598" stroke="#0a2a0a"/>
<rect x="671.5" y="1638.5" width="25" height="97" fill="#ff8000" stroke="#3a1a00"/>
<rect x="708.5" y="1650.5" width="25" height="85" fill="#ffc080" stroke="#b58252"/>
<rect x="746.5" y="1722.5" width="24" height="13" fill="#808080" stroke="#4a4a4a"/>
<line x1="645.5" y1="1735.4" x2="645.5" y2="1743.4" stroke="#111" stroke-width="1.2"/>
<line x1="683.5" y1="1735.4" x2="683.5" y2="1743.4" stroke="#111" stroke-width="1.2"/>
<line x1="720.5" y1="1735.4" x2="720.5" y2="1743.4" stroke="#111" stroke-width="1.2"/>
<line x1="758.5" y1="1735.4" x2="758.5" y2="1743.4" stroke="#111" stroke-width="1.2"/>
<line x1="644.6" y1="1588.5" x2="760.4" y2="1588.5" stroke="#222"/>
<line x1="644.6" y1="1595.5" x2="715.2" y2="1595.5" stroke="#222"/>
<line x1="689.4" y1="1600.5" x2="760.4" y2="1600.5" stroke="#222"/>
<line x1="644.6" y1="1605.5" x2="684.7" y2="1605.5" stroke="#222"/>
<line x1="722.4" y1="1606.5" x2="763.1" y2="1606.5" stroke="#222"/>
<line x1="683.6" y1="1625.5" x2="724.1" y2="1625.5" stroke="#c8742c"/>
<text text-anchor="middle" stroke="#000" font-size="24.3" x="0" y="16.72" transform="translate(714.4 1577.8) scale(1 0.82)" style="stroke-width:.3px">****</text>
<text text-anchor="middle" fill="#c8742c" stroke="#c8742c" font-size="24.3" x="0" y="16.72" transform="translate(705.3 1618.8) scale(1 0.82)" style="stroke-width:.15px">*</text>
<text text-anchor="middle" stroke="#000" transform="translate(581 1674) rotate(-90)">µM (x10<tspan dy="-7" font-size="13.5">-1</tspan><tspan dy="7">)</tspan></text>
<circle cx="640.4" cy="1684.83" r="2.4" fill="none" stroke="#000" stroke-width="1.2" stroke-opacity=".7"/>
<circle cx="645.92" cy="1680.14" r="2.4" fill="none" stroke="#000" stroke-width="1.2" stroke-opacity=".7"/>
<circle cx="651.28" cy="1685.33" r="2.4" fill="none" stroke="#000" stroke-width="1.2" stroke-opacity=".7"/>
<circle cx="635.38" cy="1694.36" r="2.4" fill="none" stroke="#000" stroke-width="1.2" stroke-opacity=".7"/>
<circle cx="645.92" cy="1694.03" r="2.4" fill="none" stroke="#000" stroke-width="1.2" stroke-opacity=".7"/>
<circle cx="656.3" cy="1694.03" r="2.4" fill="none" stroke="#000" stroke-width="1.2" stroke-opacity=".7"/>
<circle cx="679.22" cy="1636.3" r="2.4" fill="none" stroke="#000" stroke-width="1.2" stroke-opacity=".7"/>
<circle cx="687.76" cy="1636.63" r="2.4" fill="none" stroke="#000" stroke-width="1.2" stroke-opacity=".7"/>
<circle cx="683.41" cy="1640.98" r="2.4" fill="none" stroke="#000" stroke-width="1.2" stroke-opacity=".7"/>
<circle cx="721.22" cy="1644.33" r="2.4" fill="none" stroke="#000" stroke-width="1.2" stroke-opacity=".7"/>
<circle cx="716.87" cy="1653.53" r="2.4" fill="none" stroke="#000" stroke-width="1.2" stroke-opacity=".7"/>
<circle cx="725.41" cy="1651.86" r="2.4" fill="none" stroke="#000" stroke-width="1.2" stroke-opacity=".7"/>
<circle cx="748.33" cy="1723.31" r="2.4" fill="none" stroke="#000" stroke-width="1.2" stroke-opacity=".7"/>
<circle cx="758.37" cy="1721.64" r="2.4" fill="none" stroke="#000" stroke-width="1.2" stroke-opacity=".7"/>
<circle cx="768.75" cy="1722.48" r="2.4" fill="none" stroke="#000" stroke-width="1.2" stroke-opacity=".7"/>
<text text-anchor="middle" stroke="#000" x="924.8" y="1554.3">phosphatidylserine</text>
<line x1="858.5" y1="1618.4" x2="858.5" y2="1736.4" stroke="#111" stroke-width="1.2"/>
<line x1="851" y1="1736.5" x2="1020.9" y2="1736.5" stroke="#111" stroke-width="1.2"/>
<line x1="851" y1="1618.5" x2="858.9" y2="1618.5" stroke="#111" stroke-width="1.2"/>
<text text-anchor="end" stroke="#000" x="848.5" y="1625.7">4</text>
<line x1="851" y1="1648.5" x2="858.9" y2="1648.5" stroke="#111" stroke-width="1.2"/>
<line x1="851" y1="1677.5" x2="858.9" y2="1677.5" stroke="#111" stroke-width="1.2"/>
<text text-anchor="end" stroke="#000" x="848.5" y="1684.6">2</text>
<line x1="851" y1="1706.5" x2="858.9" y2="1706.5" stroke="#111" stroke-width="1.2"/>
<line x1="851" y1="1736.5" x2="858.9" y2="1736.5" stroke="#111" stroke-width="1.2"/>
<text text-anchor="end" stroke="#000" x="848.5" y="1743.7">0</text>
<rect x="871.5" y="1696.5" width="24" height="40" fill="#98f598" stroke="#0a2a0a"/>
<rect x="908.5" y="1648.5" width="25" height="88" fill="#ff8000" stroke="#3a1a00"/>
<rect x="945.5" y="1646.5" width="25" height="90" fill="#ffc080" stroke="#b58252"/>
<rect x="983.5" y="1733.5" width="25" height="3" fill="#808080" stroke="#4a4a4a"/>
<line x1="883.5" y1="1736.4" x2="883.5" y2="1744.7" stroke="#111" stroke-width="1.2"/>
<line x1="920.5" y1="1736.4" x2="920.5" y2="1744.7" stroke="#111" stroke-width="1.2"/>
<line x1="958.5" y1="1736.4" x2="958.5" y2="1744.7" stroke="#111" stroke-width="1.2"/>
<line x1="995.5" y1="1736.4" x2="995.5" y2="1744.7" stroke="#111" stroke-width="1.2"/>
<line x1="880.7" y1="1579.5" x2="996.3" y2="1579.5" stroke="#222"/>
<line x1="880.7" y1="1586.5" x2="951.1" y2="1586.5" stroke="#222"/>
<line x1="880.7" y1="1596.5" x2="920.5" y2="1596.5" stroke="#222"/>
<line x1="959.5" y1="1597.5" x2="1000" y2="1597.5" stroke="#222"/>
<line x1="925.5" y1="1620.5" x2="995.8" y2="1620.5" stroke="#222"/>
<text text-anchor="middle" stroke="#000" font-size="24.3" x="0" y="16.72" transform="translate(948.9 1569.9) scale(1 0.82)" style="stroke-width:.3px">****</text>
<text text-anchor="middle" stroke="#000" font-size="24.3" x="0" y="16.72" transform="translate(962.3 1611.3) scale(1 0.82)" style="stroke-width:.3px">***</text>
<text text-anchor="middle" stroke="#000" transform="translate(826 1671.4) rotate(-90)">µM (x10<tspan dy="-7" font-size="13.5">-2</tspan><tspan dy="7">)</tspan></text>
<circle cx="883.33" cy="1678.63" r="2.4" fill="none" stroke="#000" stroke-width="1.2" stroke-opacity=".7"/>
<circle cx="883.33" cy="1688.51" r="2.4" fill="none" stroke="#000" stroke-width="1.2" stroke-opacity=".7"/>
<circle cx="883.33" cy="1697.38" r="2.4" fill="none" stroke="#000" stroke-width="1.2" stroke-opacity=".7"/>
<circle cx="883.33" cy="1701.56" r="2.4" fill="none" stroke="#000" stroke-width="1.2" stroke-opacity=".7"/>
<circle cx="873.13" cy="1705.41" r="2.4" fill="none" stroke="#000" stroke-width="1.2" stroke-opacity=".7"/>
<circle cx="893.71" cy="1704.07" r="2.4" fill="none" stroke="#000" stroke-width="1.2" stroke-opacity=".7"/>
<circle cx="920.82" cy="1637.47" r="2.4" fill="none" stroke="#000" stroke-width="1.2" stroke-opacity=".7"/>
<circle cx="920.82" cy="1651.02" r="2.4" fill="none" stroke="#000" stroke-width="1.2" stroke-opacity=".7"/>
<circle cx="920.82" cy="1657.55" r="2.4" fill="none" stroke="#000" stroke-width="1.2" stroke-opacity=".7"/>
<circle cx="953.95" cy="1641.65" r="2.4" fill="none" stroke="#000" stroke-width="1.2" stroke-opacity=".7"/>
<circle cx="962.65" cy="1643.49" r="2.4" fill="none" stroke="#000" stroke-width="1.2" stroke-opacity=".7"/>
<circle cx="958.13" cy="1654.2" r="2.4" fill="none" stroke="#000" stroke-width="1.2" stroke-opacity=".7"/>
<circle cx="985.41" cy="1734.19" r="2.4" fill="none" stroke="#000" stroke-width="1.2" stroke-opacity=".7"/>
<circle cx="995.78" cy="1733.69" r="2.4" fill="none" stroke="#000" stroke-width="1.2" stroke-opacity=".7"/>
<circle cx="1005.82" cy="1733.86" r="2.4" fill="none" stroke="#000" stroke-width="1.2" stroke-opacity=".7"/>
<path d="M1046 1525.3V1538.6H1257.3V1525.3" fill="none" stroke="#000" stroke-width="1.9"/>
<text text-anchor="middle" stroke="#000" x="1149.7" y="1560.7">DG / TG</text>
<path d="M552.6 1767.7V1779.9H1058.2V1767.7" fill="none" stroke="#000" stroke-width="1.9"/>
<text text-anchor="middle" stroke="#000" x="804.5" y="1804.3">phospholipids</text>
<text font-weight="bold" stroke="#000" font-size="32" x="1284.8" y="1054.7">h</text>
<rect x="1366.3" y="1110.8" width="49.5" height="348.3" fill="#f2f2f2" stroke="none"/>
<rect x="1470.4" y="1110.8" width="55.1" height="348.3" fill="#f2f2f2" stroke="none"/>
<rect x="1578.3" y="1101.9" width="55.3" height="357.2" fill="#f2f2f2" stroke="none"/>
<rect x="1686.9" y="1101.9" width="57.1" height="357.2" fill="#f2f2f2" stroke="none"/>
<rect x="1794.8" y="1101.9" width="55.8" height="357.2" fill="#f2f2f2" stroke="none"/>
<rect x="1905.2" y="1101.9" width="55.9" height="357.2" fill="#f2f2f2" stroke="none"/>
<text stroke="#000" font-size="20.7" x="1372.7" y="1103.2">XCL-1 iPSC clone</text>
<line x1="1372.7" y1="1107" x2="1539.5" y2="1107" stroke="#000" stroke-width="1.3"/>
<line x1="1364.5" y1="1178.1" x2="1364.5" y2="1416" stroke="#111" stroke-width="1.1"/>
<line x1="1364.5" y1="1433" x2="1364.5" y2="1459.1" stroke="#111" stroke-width="1.1"/>
<line x1="1364.5" y1="1459.5" x2="1959.8" y2="1459.5" stroke="#111" stroke-width="1.1"/>
<line x1="1357.5" y1="1178.5" x2="1364.5" y2="1178.5" stroke="#111" stroke-width="1.1"/>
<text text-anchor="end" stroke="#000" x="1356.2" y="1185.4">7</text>
<line x1="1357.5" y1="1237.5" x2="1364.5" y2="1237.5" stroke="#111" stroke-width="1.1"/>
<text text-anchor="end" stroke="#000" x="1356.2" y="1244.3">6</text>
<line x1="1357.5" y1="1296.5" x2="1364.5" y2="1296.5" stroke="#111" stroke-width="1.1"/>
<text text-anchor="end" stroke="#000" x="1356.2" y="1303.4">5</text>
<line x1="1357.5" y1="1355.5" x2="1364.5" y2="1355.5" stroke="#111" stroke-width="1.1"/>
<text text-anchor="end" stroke="#000" x="1356.2" y="1363.1">4</text>
<text text-anchor="end" stroke="#000" x="1356.2" y="1421.5">3</text>
<line x1="1357.5" y1="1459.5" x2="1364.5" y2="1459.5" stroke="#111" stroke-width="1.1"/>
<text text-anchor="end" stroke="#000" x="1356.2" y="1466.4">0</text>
<line x1="1359.2" y1="1410.3" x2="1370.1" y2="1421.8" stroke="#111"/>
<line x1="1359.2" y1="1428.1" x2="1370.1" y2="1438.3" stroke="#111"/>
<line x1="1389.5" y1="1459.1" x2="1389.5" y2="1465" stroke="#111" stroke-width="1.1"/>
<text text-anchor="middle" stroke="#000" x="1391.7" y="1484.5">0</text>
<line x1="1389.5" y1="1438.3" x2="1389.5" y2="1446" stroke="#b5b5b5" stroke-width="0.9"/>
<polygon points="1380.8,1443.5 1398.6,1443.5 1389.7,1459.6" fill="#a6a6a6" stroke="none"/>
<line x1="1443.5" y1="1459.1" x2="1443.5" y2="1465" stroke="#111" stroke-width="1.1"/>
<text text-anchor="middle" stroke="#000" x="1443.7" y="1484.5">2</text>
<line x1="1443.5" y1="1438.3" x2="1443.5" y2="1446" stroke="#b5b5b5" stroke-width="0.9"/>
<polygon points="1434.8,1443.5 1452.6,1443.5 1443.7,1459.6" fill="#a6a6a6" stroke="none"/>
<line x1="1498.5" y1="1459.1" x2="1498.5" y2="1465" stroke="#111" stroke-width="1.1"/>
<text text-anchor="middle" stroke="#000" x="1497.6" y="1484.5">4</text>
<line x1="1498.5" y1="1438.3" x2="1498.5" y2="1446" stroke="#b5b5b5" stroke-width="0.9"/>
<polygon points="1489.4,1443.5 1507.2,1443.5 1498.3,1459.6" fill="#a6a6a6" stroke="none"/>
<line x1="1552.5" y1="1459.1" x2="1552.5" y2="1465" stroke="#111" stroke-width="1.1"/>
<text text-anchor="middle" stroke="#000" x="1552.9" y="1484.5">6</text>
<line x1="1552.5" y1="1438.3" x2="1552.5" y2="1446" stroke="#b5b5b5" stroke-width="0.9"/>
<polygon points="1543.5,1443.5 1561.3,1443.5 1552.4,1459.6" fill="#a6a6a6" stroke="none"/>
<line x1="1606.5" y1="1459.1" x2="1606.5" y2="1465" stroke="#111" stroke-width="1.1"/>
<text text-anchor="middle" stroke="#000" x="1606.2" y="1484.5">8</text>
<line x1="1606.5" y1="1438.3" x2="1606.5" y2="1446" stroke="#b5b5b5" stroke-width="0.9"/>
<polygon points="1597.8,1443.5 1615.6,1443.5 1606.7,1459.6" fill="#a6a6a6" stroke="none"/>
<line x1="1661.5" y1="1459.1" x2="1661.5" y2="1465" stroke="#111" stroke-width="1.1"/>
<text text-anchor="middle" stroke="#000" x="1663.5" y="1484.5">10</text>
<line x1="1661.5" y1="1438.3" x2="1661.5" y2="1446" stroke="#b5b5b5" stroke-width="0.9"/>
<polygon points="1652.6,1443.5 1670.4,1443.5 1661.5,1459.6" fill="#a6a6a6" stroke="none"/>
<line x1="1716.5" y1="1459.1" x2="1716.5" y2="1465" stroke="#111" stroke-width="1.1"/>
<text text-anchor="middle" stroke="#000" x="1717.4" y="1484.5">12</text>
<line x1="1716.5" y1="1438.3" x2="1716.5" y2="1446" stroke="#b5b5b5" stroke-width="0.9"/>
<polygon points="1707.2,1443.5 1725,1443.5 1716.1,1459.6" fill="#a6a6a6" stroke="none"/>
<line x1="1770.5" y1="1459.1" x2="1770.5" y2="1465" stroke="#111" stroke-width="1.1"/>
<text text-anchor="middle" stroke="#000" x="1771.4" y="1484.5">14</text>
<line x1="1770.5" y1="1438.3" x2="1770.5" y2="1446" stroke="#b5b5b5" stroke-width="0.9"/>
<polygon points="1761.8,1443.5 1779.6,1443.5 1770.7,1459.6" fill="#a6a6a6" stroke="none"/>
<line x1="1824.5" y1="1459.1" x2="1824.5" y2="1465" stroke="#111" stroke-width="1.1"/>
<text text-anchor="middle" stroke="#000" x="1825.8" y="1484.5">16</text>
<line x1="1824.5" y1="1438.3" x2="1824.5" y2="1446" stroke="#b5b5b5" stroke-width="0.9"/>
<polygon points="1815.8,1443.5 1833.6,1443.5 1824.7,1459.6" fill="#a6a6a6" stroke="none"/>
<line x1="1879.5" y1="1459.1" x2="1879.5" y2="1465" stroke="#111" stroke-width="1.1"/>
<text text-anchor="middle" stroke="#000" x="1879.8" y="1484.5">18</text>
<line x1="1879.5" y1="1438.3" x2="1879.5" y2="1446" stroke="#b5b5b5" stroke-width="0.9"/>
<polygon points="1870.2,1443.5 1888,1443.5 1879.1,1459.6" fill="#a6a6a6" stroke="none"/>
<line x1="1933.5" y1="1459.1" x2="1933.5" y2="1465" stroke="#111" stroke-width="1.1"/>
<text text-anchor="middle" stroke="#000" x="1933.1" y="1484.5">20</text>
<line x1="1933.5" y1="1438.3" x2="1933.5" y2="1446" stroke="#b5b5b5" stroke-width="0.9"/>
<polygon points="1924.8,1443.5 1942.6,1443.5 1933.7,1459.6" fill="#a6a6a6" stroke="none"/>
<text text-anchor="middle" stroke="#000" transform="translate(1325.2 1319.6) rotate(-90)">organoid size (mm<tspan dy="-7" font-size="13">2</tspan><tspan dy="7">)</tspan></text>
<text text-anchor="middle" stroke="#000" x="1667.4" y="1519">co-culture (days)</text>
<path d="M1753.66 1194.55V1182.37H1777.02V1284.68" fill="none" stroke="#5fc97a" stroke-width="1.7"/>
<text text-anchor="middle" fill="#4fc4a8" stroke="#4fc4a8" font-size="22.28" x="0" y="15.33" transform="translate(1765.08 1171.59) scale(1 0.82)" style="stroke-width:.15px">*</text>
<path d="M1807.48 1194.55V1182.37H1829.82V1284.68" fill="none" stroke="#5fc97a" stroke-width="1.7"/>
<text text-anchor="middle" fill="#4fc4a8" stroke="#4fc4a8" font-size="22.28" x="0" y="15.33" transform="translate(1818.14 1171.59) scale(1 0.82)" style="stroke-width:.15px">**</text>
<path d="M1828.55 1165.36V1154.69H1841.75V1186.94" fill="none" stroke="#7030a0" stroke-width="1.7"/>
<text text-anchor="middle" fill="#7030a0" stroke="#7030a0" font-size="22.28" x="0" y="15.33" transform="translate(1834.9 1145.69) scale(1 0.82)" style="stroke-width:.15px">*</text>
<path d="M1862.06 1194.55V1182.37H1884.91V1296.1" fill="none" stroke="#5fc97a" stroke-width="1.7"/>
<text text-anchor="middle" fill="#4fc4a8" stroke="#4fc4a8" font-size="22.28" x="0" y="15.33" transform="translate(1873.49 1171.59) scale(1 0.82)" style="stroke-width:.15px">***</text>
<path d="M1881.87 1165.36V1154.69H1893.8V1186.94" fill="none" stroke="#7030a0" stroke-width="1.7"/>
<text text-anchor="middle" fill="#7030a0" stroke="#7030a0" font-size="22.28" x="0" y="15.33" transform="translate(1886.94 1144.93) scale(1 0.82)" style="stroke-width:.15px">**</text>
<path d="M1871.71 1160.28V1127.78H1884.15V1138.7" fill="none" stroke="#000" stroke-width="2"/>
<text text-anchor="middle" stroke="#000" font-size="22.28" x="0" y="15.33" transform="translate(1876.03 1118.53) scale(1 0.82)" style="stroke-width:.3px">*</text>
<path d="M1915.88 1194.55V1183.13H1938.73V1297.37" fill="none" stroke="#5fc97a" stroke-width="1.7"/>
<text text-anchor="middle" fill="#4fc4a8" stroke="#4fc4a8" font-size="22.28" x="0" y="15.33" transform="translate(1922.99 1172.86) scale(1 0.82)" style="stroke-width:.15px">****</text>
<path d="M1936.96 1165.36V1154.69H1950.16V1186.94" fill="none" stroke="#7030a0" stroke-width="1.7"/>
<text text-anchor="middle" fill="#7030a0" stroke="#7030a0" font-size="22.28" x="0" y="15.33" transform="translate(1943.81 1143.92) scale(1 0.82)" style="stroke-width:.15px">***</text>
<path d="M1926.8 1160.28V1127.28H1938.73V1138.7" fill="none" stroke="#000" stroke-width="2"/>
<text text-anchor="middle" stroke="#000" font-size="22.28" x="0" y="15.33" transform="translate(1933.15 1118.53) scale(1 0.82)" style="stroke-width:.3px">**</text>
<circle cx="1372.66" cy="1320.22" r="5.5" fill="#a3a3a3" stroke="#4a4a4a"/>
<circle cx="1372.66" cy="1333.67" r="5.5" fill="#a3a3a3" stroke="#4a4a4a"/>
<circle cx="1372.66" cy="1337.99" r="5.5" fill="#a3a3a3" stroke="#4a4a4a"/>
<circle cx="1372.66" cy="1370.23" r="5.5" fill="#a3a3a3" stroke="#4a4a4a"/>
<circle cx="1426.74" cy="1291.02" r="5.5" fill="#a3a3a3" stroke="#4a4a4a"/>
<circle cx="1425.21" cy="1305.75" r="5.5" fill="#a3a3a3" stroke="#4a4a4a"/>
<circle cx="1428.51" cy="1315.9" r="5.5" fill="#a3a3a3" stroke="#4a4a4a"/>
<circle cx="1426.74" cy="1362.87" r="5.5" fill="#a3a3a3" stroke="#4a4a4a"/>
<circle cx="1481.07" cy="1275.79" r="5.5" fill="#a3a3a3" stroke="#4a4a4a"/>
<circle cx="1481.07" cy="1284.68" r="5.5" fill="#a3a3a3" stroke="#4a4a4a"/>
<circle cx="1481.07" cy="1294.83" r="5.5" fill="#a3a3a3" stroke="#4a4a4a"/>
<circle cx="1481.07" cy="1323.52" r="5.5" fill="#a3a3a3" stroke="#4a4a4a"/>
<circle cx="1535.65" cy="1261.07" r="5.5" fill="#a3a3a3" stroke="#4a4a4a"/>
<circle cx="1535.65" cy="1270.71" r="5.5" fill="#a3a3a3" stroke="#4a4a4a"/>
<circle cx="1535.65" cy="1277.06" r="5.5" fill="#a3a3a3" stroke="#4a4a4a"/>
<circle cx="1535.65" cy="1320.73" r="5.5" fill="#a3a3a3" stroke="#4a4a4a"/>
<circle cx="1590.23" cy="1266.91" r="5.5" fill="#a3a3a3" stroke="#4a4a4a"/>
<circle cx="1590.23" cy="1281.63" r="5.5" fill="#a3a3a3" stroke="#4a4a4a"/>
<circle cx="1587.95" cy="1290.52" r="5.5" fill="#a3a3a3" stroke="#4a4a4a"/>
<circle cx="1591.75" cy="1301.18" r="5.5" fill="#a3a3a3" stroke="#4a4a4a"/>
<circle cx="1642.97" cy="1274.01" r="5.5" fill="#a3a3a3" stroke="#4a4a4a"/>
<circle cx="1646.78" cy="1274.52" r="5.5" fill="#a3a3a3" stroke="#4a4a4a"/>
<circle cx="1642.46" cy="1279.6" r="5.5" fill="#a3a3a3" stroke="#4a4a4a"/>
<circle cx="1646.27" cy="1288.48" r="5.5" fill="#a3a3a3" stroke="#4a4a4a"/>
<circle cx="1697.05" cy="1254.21" r="5.5" fill="#a3a3a3" stroke="#4a4a4a"/>
<circle cx="1701.36" cy="1258.02" r="5.5" fill="#a3a3a3" stroke="#4a4a4a"/>
<circle cx="1697.05" cy="1276.3" r="5.5" fill="#a3a3a3" stroke="#4a4a4a"/>
<circle cx="1701.36" cy="1277.06" r="5.5" fill="#a3a3a3" stroke="#4a4a4a"/>
<circle cx="1753.41" cy="1238.98" r="5.5" fill="#a3a3a3" stroke="#4a4a4a"/>
<circle cx="1753.41" cy="1249.13" r="5.5" fill="#a3a3a3" stroke="#4a4a4a"/>
<circle cx="1751.63" cy="1256.75" r="5.5" fill="#a3a3a3" stroke="#4a4a4a"/>
<circle cx="1754.93" cy="1265.64" r="5.5" fill="#a3a3a3" stroke="#4a4a4a"/>
<circle cx="1807.99" cy="1232.63" r="5.5" fill="#a3a3a3" stroke="#4a4a4a"/>
<circle cx="1806.21" cy="1243.3" r="5.5" fill="#a3a3a3" stroke="#4a4a4a"/>
<circle cx="1809.51" cy="1244.56" r="5.5" fill="#a3a3a3" stroke="#4a4a4a"/>
<circle cx="1807.99" cy="1260.56" r="5.5" fill="#a3a3a3" stroke="#4a4a4a"/>
<circle cx="1862.06" cy="1221.21" r="5.5" fill="#a3a3a3" stroke="#4a4a4a"/>
<circle cx="1862.06" cy="1232.12" r="5.5" fill="#a3a3a3" stroke="#4a4a4a"/>
<circle cx="1862.06" cy="1235.17" r="5.5" fill="#a3a3a3" stroke="#4a4a4a"/>
<circle cx="1862.06" cy="1256.75" r="5.5" fill="#a3a3a3" stroke="#4a4a4a"/>
<circle cx="1916.65" cy="1219.43" r="5.5" fill="#a3a3a3" stroke="#4a4a4a"/>
<circle cx="1914.87" cy="1225.02" r="5.5" fill="#a3a3a3" stroke="#4a4a4a"/>
<circle cx="1918.42" cy="1234.41" r="5.5" fill="#a3a3a3" stroke="#4a4a4a"/>
<circle cx="1384.09" cy="1319.46" r="5.5" fill="#ffffff" stroke="#1a1a1a"/>
<circle cx="1384.09" cy="1373.53" r="5.5" fill="#ffffff" stroke="#1a1a1a"/>
<circle cx="1381.55" cy="1406.53" r="5.5" fill="#ffffff" stroke="#1a1a1a"/>
<circle cx="1386.12" cy="1411.61" r="5.5" fill="#ffffff" stroke="#1a1a1a"/>
<circle cx="1436.13" cy="1334.18" r="5.5" fill="#ffffff" stroke="#1a1a1a"/>
<circle cx="1440.45" cy="1335.45" r="5.5" fill="#ffffff" stroke="#1a1a1a"/>
<circle cx="1438.67" cy="1363.88" r="5.5" fill="#ffffff" stroke="#1a1a1a"/>
<circle cx="1438.67" cy="1383.69" r="5.5" fill="#ffffff" stroke="#1a1a1a"/>
<circle cx="1490.71" cy="1332.91" r="5.5" fill="#ffffff" stroke="#1a1a1a"/>
<circle cx="1495.28" cy="1334.94" r="5.5" fill="#ffffff" stroke="#1a1a1a"/>
<circle cx="1492.74" cy="1348.14" r="5.5" fill="#ffffff" stroke="#1a1a1a"/>
<circle cx="1492.74" cy="1376.07" r="5.5" fill="#ffffff" stroke="#1a1a1a"/>
<circle cx="1545.3" cy="1317.68" r="5.5" fill="#ffffff" stroke="#1a1a1a"/>
<circle cx="1549.1" cy="1328.6" r="5.5" fill="#ffffff" stroke="#1a1a1a"/>
<circle cx="1546.06" cy="1331.64" r="5.5" fill="#ffffff" stroke="#1a1a1a"/>
<circle cx="1547.33" cy="1363.38" r="5.5" fill="#ffffff" stroke="#1a1a1a"/>
<circle cx="1599.88" cy="1317.17" r="5.5" fill="#ffffff" stroke="#1a1a1a"/>
<circle cx="1603.69" cy="1320.98" r="5.5" fill="#ffffff" stroke="#1a1a1a"/>
<circle cx="1600.39" cy="1326.57" r="5.5" fill="#ffffff" stroke="#1a1a1a"/>
<circle cx="1601.91" cy="1360.84" r="5.5" fill="#ffffff" stroke="#1a1a1a"/>
<circle cx="1653.89" cy="1299.91" r="5.5" fill="#ffffff" stroke="#1a1a1a"/>
<circle cx="1657.7" cy="1299.91" r="5.5" fill="#ffffff" stroke="#1a1a1a"/>
<circle cx="1655.92" cy="1305.75" r="5.5" fill="#ffffff" stroke="#1a1a1a"/>
<circle cx="1655.92" cy="1360.84" r="5.5" fill="#ffffff" stroke="#1a1a1a"/>
<circle cx="1708.98" cy="1283.41" r="5.5" fill="#ffffff" stroke="#1a1a1a"/>
<circle cx="1712.79" cy="1287.22" r="5.5" fill="#ffffff" stroke="#1a1a1a"/>
<circle cx="1710.25" cy="1294.83" r="5.5" fill="#ffffff" stroke="#1a1a1a"/>
<circle cx="1710.25" cy="1336.21" r="5.5" fill="#ffffff" stroke="#1a1a1a"/>
<circle cx="1765.08" cy="1270.21" r="5.5" fill="#ffffff" stroke="#1a1a1a"/>
<circle cx="1765.08" cy="1283.41" r="5.5" fill="#ffffff" stroke="#1a1a1a"/>
<circle cx="1765.08" cy="1287.98" r="5.5" fill="#ffffff" stroke="#1a1a1a"/>
<circle cx="1765.08" cy="1332.91" r="5.5" fill="#ffffff" stroke="#1a1a1a"/>
<circle cx="1819.41" cy="1260.05" r="5.5" fill="#ffffff" stroke="#1a1a1a"/>
<circle cx="1819.41" cy="1269.95" r="5.5" fill="#ffffff" stroke="#1a1a1a"/>
<circle cx="1819.41" cy="1285.95" r="5.5" fill="#ffffff" stroke="#1a1a1a"/>
<circle cx="1819.41" cy="1325.3" r="5.5" fill="#ffffff" stroke="#1a1a1a"/>
<circle cx="1872.22" cy="1256.75" r="5.5" fill="#ffffff" stroke="#1a1a1a"/>
<circle cx="1876.03" cy="1262.59" r="5.5" fill="#ffffff" stroke="#1a1a1a"/>
<circle cx="1873.49" cy="1277.06" r="5.5" fill="#ffffff" stroke="#1a1a1a"/>
<circle cx="1874" cy="1301.18" r="5.5" fill="#ffffff" stroke="#1a1a1a"/>
<circle cx="1928.58" cy="1238.98" r="5.5" fill="#ffffff" stroke="#1a1a1a"/>
<circle cx="1926.04" cy="1254.21" r="5.5" fill="#ffffff" stroke="#1a1a1a"/>
<circle cx="1930.61" cy="1258.53" r="5.5" fill="#ffffff" stroke="#1a1a1a"/>
<circle cx="1928.07" cy="1288.48" r="5.5" fill="#ffffff" stroke="#1a1a1a"/>
<circle cx="1394.24" cy="1317.68" r="5.5" fill="#1db41d" stroke="#0a5a0a"/>
<circle cx="1398.05" cy="1322.25" r="5.5" fill="#1db41d" stroke="#0a5a0a"/>
<circle cx="1396.02" cy="1381.15" r="5.5" fill="#1db41d" stroke="#0a5a0a"/>
<circle cx="1450.09" cy="1281.38" r="5.5" fill="#1db41d" stroke="#0a5a0a"/>
<circle cx="1450.09" cy="1294.07" r="5.5" fill="#1db41d" stroke="#0a5a0a"/>
<circle cx="1450.09" cy="1335.45" r="5.5" fill="#1db41d" stroke="#0a5a0a"/>
<circle cx="1502.9" cy="1276.55" r="5.5" fill="#1db41d" stroke="#0a5a0a"/>
<circle cx="1506.71" cy="1279.6" r="5.5" fill="#1db41d" stroke="#0a5a0a"/>
<circle cx="1504.68" cy="1327.07" r="5.5" fill="#1db41d" stroke="#0a5a0a"/>
<circle cx="1556.72" cy="1282.14" r="5.5" fill="#1db41d" stroke="#0a5a0a"/>
<circle cx="1560.53" cy="1291.02" r="5.5" fill="#1db41d" stroke="#0a5a0a"/>
<circle cx="1559.26" cy="1340.02" r="5.5" fill="#1db41d" stroke="#0a5a0a"/>
<circle cx="1613.33" cy="1271.98" r="5.5" fill="#1db41d" stroke="#0a5a0a"/>
<circle cx="1613.33" cy="1293.05" r="5.5" fill="#1db41d" stroke="#0a5a0a"/>
<circle cx="1613.33" cy="1330.88" r="5.5" fill="#1db41d" stroke="#0a5a0a"/>
<circle cx="1667.85" cy="1280.87" r="5.5" fill="#1db41d" stroke="#0a5a0a"/>
<circle cx="1667.85" cy="1304.22" r="5.5" fill="#1db41d" stroke="#0a5a0a"/>
<circle cx="1667.85" cy="1348.65" r="5.5" fill="#1db41d" stroke="#0a5a0a"/>
<circle cx="1722.43" cy="1287.22" r="5.5" fill="#1db41d" stroke="#0a5a0a"/>
<circle cx="1722.43" cy="1320.22" r="5.5" fill="#1db41d" stroke="#0a5a0a"/>
<circle cx="1722.43" cy="1356.27" r="5.5" fill="#1db41d" stroke="#0a5a0a"/>
<circle cx="1776.51" cy="1296.61" r="5.5" fill="#1db41d" stroke="#0a5a0a"/>
<circle cx="1776.51" cy="1321.49" r="5.5" fill="#1db41d" stroke="#0a5a0a"/>
<circle cx="1776.51" cy="1358.81" r="5.5" fill="#1db41d" stroke="#0a5a0a"/>
<circle cx="1831.09" cy="1304.22" r="5.5" fill="#1db41d" stroke="#0a5a0a"/>
<circle cx="1831.09" cy="1330.37" r="5.5" fill="#1db41d" stroke="#0a5a0a"/>
<circle cx="1831.09" cy="1367.18" r="5.5" fill="#1db41d" stroke="#0a5a0a"/>
<circle cx="1885.42" cy="1311.84" r="5.5" fill="#1db41d" stroke="#0a5a0a"/>
<circle cx="1885.42" cy="1334.18" r="5.5" fill="#1db41d" stroke="#0a5a0a"/>
<circle cx="1885.42" cy="1378.61" r="5.5" fill="#1db41d" stroke="#0a5a0a"/>
<circle cx="1940" cy="1318.44" r="5.5" fill="#1db41d" stroke="#0a5a0a"/>
<circle cx="1940" cy="1343.07" r="5.5" fill="#1db41d" stroke="#0a5a0a"/>
<circle cx="1940" cy="1386.22" r="5.5" fill="#1db41d" stroke="#0a5a0a"/>
<circle cx="1407.7" cy="1281.63" r="5.5" fill="#c01ec0" stroke="#6a0a6a"/>
<circle cx="1407.7" cy="1357.03" r="5.5" fill="#c01ec0" stroke="#6a0a6a"/>
<circle cx="1407.7" cy="1379.37" r="5.5" fill="#c01ec0" stroke="#6a0a6a"/>
<circle cx="1407.7" cy="1397.14" r="5.5" fill="#c01ec0" stroke="#6a0a6a"/>
<circle cx="1462.03" cy="1265.13" r="5.5" fill="#c01ec0" stroke="#6a0a6a"/>
<circle cx="1462.03" cy="1324.03" r="5.5" fill="#c01ec0" stroke="#6a0a6a"/>
<circle cx="1462.03" cy="1348.91" r="5.5" fill="#c01ec0" stroke="#6a0a6a"/>
<circle cx="1462.03" cy="1375.56" r="5.5" fill="#c01ec0" stroke="#6a0a6a"/>
<circle cx="1516.1" cy="1261.32" r="5.5" fill="#c01ec0" stroke="#6a0a6a"/>
<circle cx="1516.1" cy="1305.75" r="5.5" fill="#c01ec0" stroke="#6a0a6a"/>
<circle cx="1516.1" cy="1346.37" r="5.5" fill="#c01ec0" stroke="#6a0a6a"/>
<circle cx="1516.1" cy="1360.84" r="5.5" fill="#c01ec0" stroke="#6a0a6a"/>
<circle cx="1570.68" cy="1265.13" r="5.5" fill="#c01ec0" stroke="#6a0a6a"/>
<circle cx="1570.68" cy="1310.83" r="5.5" fill="#c01ec0" stroke="#6a0a6a"/>
<circle cx="1570.68" cy="1343.83" r="5.5" fill="#c01ec0" stroke="#6a0a6a"/>
<circle cx="1570.68" cy="1360.08" r="5.5" fill="#c01ec0" stroke="#6a0a6a"/>
<circle cx="1624.76" cy="1253.7" r="5.5" fill="#c01ec0" stroke="#6a0a6a"/>
<circle cx="1624.76" cy="1316.41" r="5.5" fill="#c01ec0" stroke="#6a0a6a"/>
<circle cx="1622.73" cy="1341.8" r="5.5" fill="#c01ec0" stroke="#6a0a6a"/>
<circle cx="1627.3" cy="1342.56" r="5.5" fill="#c01ec0" stroke="#6a0a6a"/>
<circle cx="1679.28" cy="1225.52" r="5.5" fill="#c01ec0" stroke="#6a0a6a"/>
<circle cx="1679.28" cy="1301.18" r="5.5" fill="#c01ec0" stroke="#6a0a6a"/>
<circle cx="1677.5" cy="1321.49" r="5.5" fill="#c01ec0" stroke="#6a0a6a"/>
<circle cx="1681.81" cy="1325.3" r="5.5" fill="#c01ec0" stroke="#6a0a6a"/>
<circle cx="1733.86" cy="1219.43" r="5.5" fill="#c01ec0" stroke="#6a0a6a"/>
<circle cx="1733.86" cy="1297.37" r="5.5" fill="#c01ec0" stroke="#6a0a6a"/>
<circle cx="1733.86" cy="1305.75" r="5.5" fill="#c01ec0" stroke="#6a0a6a"/>
<circle cx="1733.86" cy="1321.49" r="5.5" fill="#c01ec0" stroke="#6a0a6a"/>
<circle cx="1788.44" cy="1216.89" r="5.5" fill="#c01ec0" stroke="#6a0a6a"/>
<circle cx="1788.44" cy="1278.84" r="5.5" fill="#c01ec0" stroke="#6a0a6a"/>
<circle cx="1788.44" cy="1290.52" r="5.5" fill="#c01ec0" stroke="#6a0a6a"/>
<circle cx="1788.44" cy="1305.75" r="5.5" fill="#c01ec0" stroke="#6a0a6a"/>
<circle cx="1843.02" cy="1205.21" r="5.5" fill="#c01ec0" stroke="#6a0a6a"/>
<circle cx="1843.02" cy="1266.91" r="5.5" fill="#c01ec0" stroke="#6a0a6a"/>
<circle cx="1843.02" cy="1277.06" r="5.5" fill="#c01ec0" stroke="#6a0a6a"/>
<circle cx="1843.02" cy="1294.83" r="5.5" fill="#c01ec0" stroke="#6a0a6a"/>
<circle cx="1897.1" cy="1201.66" r="5.5" fill="#c01ec0" stroke="#6a0a6a"/>
<circle cx="1897.1" cy="1261.83" r="5.5" fill="#c01ec0" stroke="#6a0a6a"/>
<circle cx="1897.1" cy="1267.67" r="5.5" fill="#c01ec0" stroke="#6a0a6a"/>
<circle cx="1897.1" cy="1287.22" r="5.5" fill="#c01ec0" stroke="#6a0a6a"/>
<circle cx="1951.68" cy="1197.85" r="5.5" fill="#c01ec0" stroke="#6a0a6a"/>
<circle cx="1951.68" cy="1235.17" r="5.5" fill="#c01ec0" stroke="#6a0a6a"/>
<circle cx="1951.68" cy="1263.6" r="5.5" fill="#c01ec0" stroke="#6a0a6a"/>
<circle cx="1951.68" cy="1282.9" r="5.5" fill="#c01ec0" stroke="#6a0a6a"/>
<line x1="1372.5" y1="1318.95" x2="1372.5" y2="1362.11" stroke="#333"/>
<line x1="1370.66" y1="1318.5" x2="1374.66" y2="1318.5" stroke="#333"/>
<line x1="1370.66" y1="1362.5" x2="1374.66" y2="1362.5" stroke="#333"/>
<line x1="1369.16" y1="1340.53" x2="1376.16" y2="1340.53" stroke="#111" stroke-width="1.6"/>
<line x1="1384.5" y1="1334.94" x2="1384.5" y2="1413.39" stroke="#333"/>
<line x1="1382.09" y1="1334.5" x2="1386.09" y2="1334.5" stroke="#333"/>
<line x1="1382.09" y1="1413.5" x2="1386.09" y2="1413.5" stroke="#333"/>
<line x1="1380.59" y1="1377.85" x2="1387.59" y2="1377.85" stroke="#111" stroke-width="1.6"/>
<line x1="1396.5" y1="1304.48" x2="1396.5" y2="1384.96" stroke="#333"/>
<line x1="1394.02" y1="1304.5" x2="1398.02" y2="1304.5" stroke="#333"/>
<line x1="1394.02" y1="1384.5" x2="1398.02" y2="1384.5" stroke="#333"/>
<line x1="1392.52" y1="1340.02" x2="1399.52" y2="1340.02" stroke="#111" stroke-width="1.6"/>
<line x1="1407.5" y1="1302.96" x2="1407.5" y2="1404.76" stroke="#333"/>
<line x1="1405.7" y1="1302.5" x2="1409.7" y2="1302.5" stroke="#333"/>
<line x1="1405.7" y1="1404.5" x2="1409.7" y2="1404.5" stroke="#333"/>
<line x1="1404.2" y1="1357.03" x2="1411.2" y2="1357.03" stroke="#111" stroke-width="1.6"/>
<line x1="1426.5" y1="1286.71" x2="1426.5" y2="1350.18" stroke="#333"/>
<line x1="1424.74" y1="1286.5" x2="1428.74" y2="1286.5" stroke="#333"/>
<line x1="1424.74" y1="1350.5" x2="1428.74" y2="1350.5" stroke="#333"/>
<line x1="1423.24" y1="1318.95" x2="1430.24" y2="1318.95" stroke="#111" stroke-width="1.6"/>
<line x1="1438.5" y1="1331.13" x2="1438.5" y2="1378.61" stroke="#333"/>
<line x1="1436.67" y1="1331.5" x2="1440.67" y2="1331.5" stroke="#333"/>
<line x1="1436.67" y1="1378.5" x2="1440.67" y2="1378.5" stroke="#333"/>
<line x1="1435.17" y1="1354.49" x2="1442.17" y2="1354.49" stroke="#111" stroke-width="1.6"/>
<line x1="1450.5" y1="1278.33" x2="1450.5" y2="1336.72" stroke="#333"/>
<line x1="1448.09" y1="1278.5" x2="1452.09" y2="1278.5" stroke="#333"/>
<line x1="1448.09" y1="1336.5" x2="1452.09" y2="1336.5" stroke="#333"/>
<line x1="1446.59" y1="1303.72" x2="1453.59" y2="1303.72" stroke="#111" stroke-width="1.6"/>
<line x1="1462.5" y1="1281.38" x2="1462.5" y2="1376.07" stroke="#333"/>
<line x1="1460.03" y1="1281.5" x2="1464.03" y2="1281.5" stroke="#333"/>
<line x1="1460.03" y1="1376.5" x2="1464.03" y2="1376.5" stroke="#333"/>
<line x1="1458.53" y1="1324.03" x2="1465.53" y2="1324.03" stroke="#111" stroke-width="1.6"/>
<line x1="1481.5" y1="1274.01" x2="1481.5" y2="1315.14" stroke="#333"/>
<line x1="1479.07" y1="1274.5" x2="1483.07" y2="1274.5" stroke="#333"/>
<line x1="1479.07" y1="1315.5" x2="1483.07" y2="1315.5" stroke="#333"/>
<line x1="1477.57" y1="1294.83" x2="1484.57" y2="1294.83" stroke="#111" stroke-width="1.6"/>
<line x1="1492.5" y1="1327.83" x2="1492.5" y2="1368.45" stroke="#333"/>
<line x1="1490.74" y1="1327.5" x2="1494.74" y2="1327.5" stroke="#333"/>
<line x1="1490.74" y1="1368.5" x2="1494.74" y2="1368.5" stroke="#333"/>
<line x1="1489.24" y1="1347.64" x2="1496.24" y2="1347.64" stroke="#111" stroke-width="1.6"/>
<line x1="1504.5" y1="1265.13" x2="1504.5" y2="1327.83" stroke="#333"/>
<line x1="1502.68" y1="1265.5" x2="1506.68" y2="1265.5" stroke="#333"/>
<line x1="1502.68" y1="1327.5" x2="1506.68" y2="1327.5" stroke="#333"/>
<line x1="1501.18" y1="1293.56" x2="1508.18" y2="1293.56" stroke="#111" stroke-width="1.6"/>
<line x1="1516.5" y1="1273.25" x2="1516.5" y2="1362.11" stroke="#333"/>
<line x1="1514.1" y1="1273.5" x2="1518.1" y2="1273.5" stroke="#333"/>
<line x1="1514.1" y1="1362.5" x2="1518.1" y2="1362.5" stroke="#333"/>
<line x1="1512.6" y1="1318.19" x2="1519.6" y2="1318.19" stroke="#111" stroke-width="1.6"/>
<line x1="1535.5" y1="1255.48" x2="1535.5" y2="1308.29" stroke="#333"/>
<line x1="1533.65" y1="1255.5" x2="1537.65" y2="1255.5" stroke="#333"/>
<line x1="1533.65" y1="1308.5" x2="1537.65" y2="1308.5" stroke="#333"/>
<line x1="1532.15" y1="1282.14" x2="1539.15" y2="1282.14" stroke="#111" stroke-width="1.6"/>
<line x1="1547.5" y1="1316.41" x2="1547.5" y2="1355.25" stroke="#333"/>
<line x1="1545.33" y1="1316.5" x2="1549.33" y2="1316.5" stroke="#333"/>
<line x1="1545.33" y1="1355.5" x2="1549.33" y2="1355.5" stroke="#333"/>
<line x1="1543.83" y1="1335.45" x2="1550.83" y2="1335.45" stroke="#111" stroke-width="1.6"/>
<line x1="1559.5" y1="1273.25" x2="1559.5" y2="1340.53" stroke="#333"/>
<line x1="1557.26" y1="1273.5" x2="1561.26" y2="1273.5" stroke="#333"/>
<line x1="1557.26" y1="1340.5" x2="1561.26" y2="1340.5" stroke="#333"/>
<line x1="1555.76" y1="1303.72" x2="1562.76" y2="1303.72" stroke="#111" stroke-width="1.6"/>
<line x1="1570.5" y1="1277.82" x2="1570.5" y2="1360.84" stroke="#333"/>
<line x1="1568.68" y1="1277.5" x2="1572.68" y2="1277.5" stroke="#333"/>
<line x1="1568.68" y1="1360.5" x2="1572.68" y2="1360.5" stroke="#333"/>
<line x1="1567.18" y1="1319.71" x2="1574.18" y2="1319.71" stroke="#111" stroke-width="1.6"/>
<line x1="1590.5" y1="1270.71" x2="1590.5" y2="1299.15" stroke="#333"/>
<line x1="1588.23" y1="1270.5" x2="1592.23" y2="1270.5" stroke="#333"/>
<line x1="1588.23" y1="1299.5" x2="1592.23" y2="1299.5" stroke="#333"/>
<line x1="1586.73" y1="1284.68" x2="1593.73" y2="1284.68" stroke="#111" stroke-width="1.6"/>
<line x1="1601.5" y1="1311.33" x2="1601.5" y2="1351.95" stroke="#333"/>
<line x1="1599.91" y1="1311.5" x2="1603.91" y2="1311.5" stroke="#333"/>
<line x1="1599.91" y1="1351.5" x2="1603.91" y2="1351.5" stroke="#333"/>
<line x1="1598.41" y1="1331.13" x2="1605.41" y2="1331.13" stroke="#111" stroke-width="1.6"/>
<line x1="1613.5" y1="1268.68" x2="1613.5" y2="1329.1" stroke="#333"/>
<line x1="1611.33" y1="1268.5" x2="1615.33" y2="1268.5" stroke="#333"/>
<line x1="1611.33" y1="1329.5" x2="1615.33" y2="1329.5" stroke="#333"/>
<line x1="1609.83" y1="1298.64" x2="1616.83" y2="1298.64" stroke="#111" stroke-width="1.6"/>
<line x1="1624.5" y1="1271.22" x2="1624.5" y2="1355.76" stroke="#333"/>
<line x1="1622.76" y1="1271.5" x2="1626.76" y2="1271.5" stroke="#333"/>
<line x1="1622.76" y1="1355.5" x2="1626.76" y2="1355.5" stroke="#333"/>
<line x1="1621.26" y1="1313.87" x2="1628.26" y2="1313.87" stroke="#111" stroke-width="1.6"/>
<line x1="1644.5" y1="1271.98" x2="1644.5" y2="1284.68" stroke="#333"/>
<line x1="1642.5" y1="1271.5" x2="1646.5" y2="1271.5" stroke="#333"/>
<line x1="1642.5" y1="1284.5" x2="1646.5" y2="1284.5" stroke="#333"/>
<line x1="1641" y1="1278.33" x2="1648" y2="1278.33" stroke="#111" stroke-width="1.6"/>
<line x1="1656.5" y1="1287.72" x2="1656.5" y2="1346.37" stroke="#333"/>
<line x1="1654.43" y1="1287.5" x2="1658.43" y2="1287.5" stroke="#333"/>
<line x1="1654.43" y1="1346.5" x2="1658.43" y2="1346.5" stroke="#333"/>
<line x1="1652.93" y1="1316.92" x2="1659.93" y2="1316.92" stroke="#111" stroke-width="1.6"/>
<line x1="1667.5" y1="1279.6" x2="1667.5" y2="1349.41" stroke="#333"/>
<line x1="1665.85" y1="1279.5" x2="1669.85" y2="1279.5" stroke="#333"/>
<line x1="1665.85" y1="1349.5" x2="1669.85" y2="1349.5" stroke="#333"/>
<line x1="1664.35" y1="1311.33" x2="1671.35" y2="1311.33" stroke="#111" stroke-width="1.6"/>
<line x1="1679.5" y1="1247.1" x2="1679.5" y2="1339.26" stroke="#333"/>
<line x1="1677.28" y1="1247.5" x2="1681.28" y2="1247.5" stroke="#333"/>
<line x1="1677.28" y1="1339.5" x2="1681.28" y2="1339.5" stroke="#333"/>
<line x1="1675.78" y1="1293.05" x2="1682.78" y2="1293.05" stroke="#111" stroke-width="1.6"/>
<line x1="1699.5" y1="1254.21" x2="1699.5" y2="1278.33" stroke="#333"/>
<line x1="1697.08" y1="1254.5" x2="1701.08" y2="1254.5" stroke="#333"/>
<line x1="1697.08" y1="1278.5" x2="1701.08" y2="1278.5" stroke="#333"/>
<line x1="1695.58" y1="1266.14" x2="1702.58" y2="1266.14" stroke="#111" stroke-width="1.6"/>
<line x1="1711.5" y1="1276.3" x2="1711.5" y2="1324.79" stroke="#333"/>
<line x1="1709.01" y1="1276.5" x2="1713.01" y2="1276.5" stroke="#333"/>
<line x1="1709.01" y1="1324.5" x2="1713.01" y2="1324.5" stroke="#333"/>
<line x1="1707.51" y1="1299.91" x2="1714.51" y2="1299.91" stroke="#111" stroke-width="1.6"/>
<line x1="1722.5" y1="1285.95" x2="1722.5" y2="1357.03" stroke="#333"/>
<line x1="1720.43" y1="1285.5" x2="1724.43" y2="1285.5" stroke="#333"/>
<line x1="1720.43" y1="1357.5" x2="1724.43" y2="1357.5" stroke="#333"/>
<line x1="1718.93" y1="1320.98" x2="1725.93" y2="1320.98" stroke="#111" stroke-width="1.6"/>
<line x1="1733.5" y1="1240.76" x2="1733.5" y2="1331.64" stroke="#333"/>
<line x1="1731.86" y1="1240.5" x2="1735.86" y2="1240.5" stroke="#333"/>
<line x1="1731.86" y1="1331.5" x2="1735.86" y2="1331.5" stroke="#333"/>
<line x1="1730.36" y1="1285.95" x2="1737.36" y2="1285.95" stroke="#111" stroke-width="1.6"/>
<line x1="1753.5" y1="1241.52" x2="1753.5" y2="1263.1" stroke="#333"/>
<line x1="1751.41" y1="1241.5" x2="1755.41" y2="1241.5" stroke="#333"/>
<line x1="1751.41" y1="1263.5" x2="1755.41" y2="1263.5" stroke="#333"/>
<line x1="1749.91" y1="1252.94" x2="1756.91" y2="1252.94" stroke="#111" stroke-width="1.6"/>
<line x1="1765.5" y1="1266.91" x2="1765.5" y2="1320.73" stroke="#333"/>
<line x1="1763.08" y1="1266.5" x2="1767.08" y2="1266.5" stroke="#333"/>
<line x1="1763.08" y1="1320.5" x2="1767.08" y2="1320.5" stroke="#333"/>
<line x1="1761.58" y1="1293.05" x2="1768.58" y2="1293.05" stroke="#111" stroke-width="1.6"/>
<line x1="1776.5" y1="1294.83" x2="1776.5" y2="1359.57" stroke="#333"/>
<line x1="1774.51" y1="1294.5" x2="1778.51" y2="1294.5" stroke="#333"/>
<line x1="1774.51" y1="1359.5" x2="1778.51" y2="1359.5" stroke="#333"/>
<line x1="1773.01" y1="1326.06" x2="1780.01" y2="1326.06" stroke="#111" stroke-width="1.6"/>
<line x1="1788.5" y1="1233.9" x2="1788.5" y2="1311.33" stroke="#333"/>
<line x1="1786.44" y1="1233.5" x2="1790.44" y2="1233.5" stroke="#333"/>
<line x1="1786.44" y1="1311.5" x2="1790.44" y2="1311.5" stroke="#333"/>
<line x1="1784.94" y1="1272.74" x2="1791.94" y2="1272.74" stroke="#111" stroke-width="1.6"/>
<line x1="1807.5" y1="1232.63" x2="1807.5" y2="1256.75" stroke="#333"/>
<line x1="1805.99" y1="1232.5" x2="1809.99" y2="1232.5" stroke="#333"/>
<line x1="1805.99" y1="1256.5" x2="1809.99" y2="1256.5" stroke="#333"/>
<line x1="1804.49" y1="1244.82" x2="1811.49" y2="1244.82" stroke="#111" stroke-width="1.6"/>
<line x1="1819.5" y1="1258.02" x2="1819.5" y2="1313.87" stroke="#333"/>
<line x1="1817.41" y1="1258.5" x2="1821.41" y2="1258.5" stroke="#333"/>
<line x1="1817.41" y1="1313.5" x2="1821.41" y2="1313.5" stroke="#333"/>
<line x1="1815.91" y1="1285.44" x2="1822.91" y2="1285.44" stroke="#111" stroke-width="1.6"/>
<line x1="1831.5" y1="1302.45" x2="1831.5" y2="1367.95" stroke="#333"/>
<line x1="1829.09" y1="1302.5" x2="1833.09" y2="1302.5" stroke="#333"/>
<line x1="1829.09" y1="1367.5" x2="1833.09" y2="1367.5" stroke="#333"/>
<line x1="1827.59" y1="1333.67" x2="1834.59" y2="1333.67" stroke="#111" stroke-width="1.6"/>
<line x1="1843.5" y1="1222.48" x2="1843.5" y2="1299.91" stroke="#333"/>
<line x1="1841.02" y1="1222.5" x2="1845.02" y2="1222.5" stroke="#333"/>
<line x1="1841.02" y1="1299.5" x2="1845.02" y2="1299.5" stroke="#333"/>
<line x1="1839.52" y1="1261.07" x2="1846.52" y2="1261.07" stroke="#111" stroke-width="1.6"/>
<line x1="1862.5" y1="1220.45" x2="1862.5" y2="1250.91" stroke="#333"/>
<line x1="1860.06" y1="1220.5" x2="1864.06" y2="1220.5" stroke="#333"/>
<line x1="1860.06" y1="1250.5" x2="1864.06" y2="1250.5" stroke="#333"/>
<line x1="1858.56" y1="1235.68" x2="1865.56" y2="1235.68" stroke="#111" stroke-width="1.6"/>
<line x1="1873.5" y1="1255.99" x2="1873.5" y2="1294.83" stroke="#333"/>
<line x1="1872" y1="1255.5" x2="1876" y2="1255.5" stroke="#333"/>
<line x1="1872" y1="1294.5" x2="1876" y2="1294.5" stroke="#333"/>
<line x1="1870.5" y1="1275.28" x2="1877.5" y2="1275.28" stroke="#111" stroke-width="1.6"/>
<line x1="1885.5" y1="1310.06" x2="1885.5" y2="1379.37" stroke="#333"/>
<line x1="1883.42" y1="1310.5" x2="1887.42" y2="1310.5" stroke="#333"/>
<line x1="1883.42" y1="1379.5" x2="1887.42" y2="1379.5" stroke="#333"/>
<line x1="1881.92" y1="1341.29" x2="1888.92" y2="1341.29" stroke="#111" stroke-width="1.6"/>
<line x1="1897.5" y1="1217.4" x2="1897.5" y2="1288.48" stroke="#333"/>
<line x1="1895.1" y1="1217.5" x2="1899.1" y2="1217.5" stroke="#333"/>
<line x1="1895.1" y1="1288.5" x2="1899.1" y2="1288.5" stroke="#333"/>
<line x1="1893.6" y1="1254.21" x2="1900.6" y2="1254.21" stroke="#111" stroke-width="1.6"/>
<line x1="1916.5" y1="1221.21" x2="1916.5" y2="1230.09" stroke="#333"/>
<line x1="1914.65" y1="1221.5" x2="1918.65" y2="1221.5" stroke="#333"/>
<line x1="1914.65" y1="1230.5" x2="1918.65" y2="1230.5" stroke="#333"/>
<line x1="1913.15" y1="1226.29" x2="1920.15" y2="1226.29" stroke="#111" stroke-width="1.6"/>
<line x1="1928.5" y1="1239.49" x2="1928.5" y2="1280.36" stroke="#333"/>
<line x1="1926.07" y1="1239.5" x2="1930.07" y2="1239.5" stroke="#333"/>
<line x1="1926.07" y1="1280.5" x2="1930.07" y2="1280.5" stroke="#333"/>
<line x1="1924.57" y1="1260.05" x2="1931.57" y2="1260.05" stroke="#111" stroke-width="1.6"/>
<line x1="1940.5" y1="1316.92" x2="1940.5" y2="1386.99" stroke="#333"/>
<line x1="1938" y1="1316.5" x2="1942" y2="1316.5" stroke="#333"/>
<line x1="1938" y1="1386.5" x2="1942" y2="1386.5" stroke="#333"/>
<line x1="1936.5" y1="1349.41" x2="1943.5" y2="1349.41" stroke="#111" stroke-width="1.6"/>
<line x1="1951.5" y1="1207.75" x2="1951.5" y2="1283.41" stroke="#333"/>
<line x1="1949.68" y1="1207.5" x2="1953.68" y2="1207.5" stroke="#333"/>
<line x1="1949.68" y1="1283.5" x2="1953.68" y2="1283.5" stroke="#333"/>
<line x1="1948.18" y1="1244.56" x2="1955.18" y2="1244.56" stroke="#111" stroke-width="1.6"/>
<line x1="1382" y1="1433.5" x2="1386" y2="1433.5" stroke="#222" stroke-width="1.2"/>
<circle cx="1389.8" cy="1616.9" r="8" fill="#d4d4d4" stroke="#1a1a1a" stroke-width="1.9"/>
<text stroke="#000" x="1407.6" y="1622.2">organoid</text>
<circle cx="1389.8" cy="1651.5" r="8" fill="#fff" stroke="#111" stroke-width="1.9"/>
<text stroke="#000" x="1405.6" y="1657">organoid + probucol</text>
<line x1="1389.5" y1="1674" x2="1389.5" y2="1682" stroke="#b5b5b5" stroke-width="0.9"/>
<polygon points="1381,1680.3 1398.6,1680.3 1389.8,1699" fill="#a6a6a6" stroke="none"/>
<text stroke="#000" x="1406" y="1693.8">+ fresh probucol</text>
<circle cx="1619.4" cy="1613.6" r="8" fill="#17a84a" stroke="#111" stroke-width="1.9"/>
<text stroke="#000" x="1638.4" y="1619.2">co-culture organoid</text>
<circle cx="1619.4" cy="1649.3" r="8" fill="#d58ad8" stroke="#111" stroke-width="1.9"/>
<text stroke="#000" x="1639.6" y="1655">co-culture organoid + probucol</text>
</svg>
</body>
</html>
